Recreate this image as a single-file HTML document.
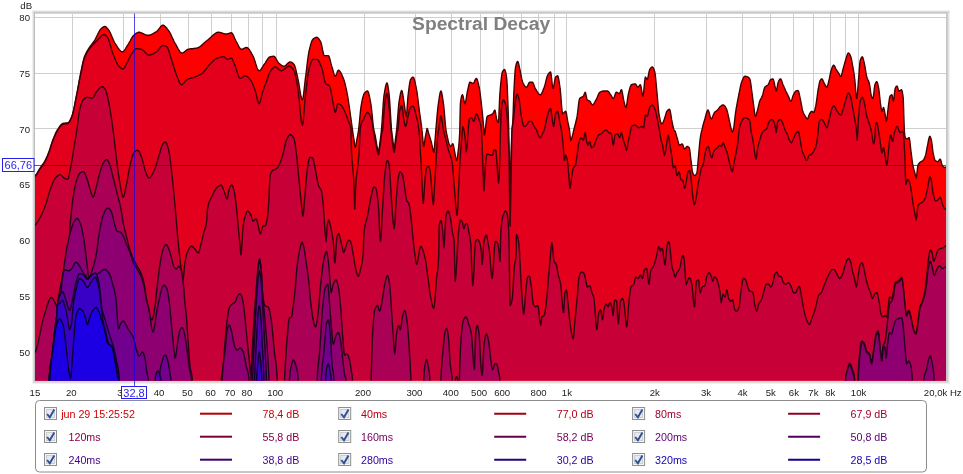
<!DOCTYPE html>
<html lang="en"><head><meta charset="utf-8"><title>Spectral Decay</title>
<style>html,body{margin:0;padding:0;background:#fff;}svg{display:block;font-family:"Liberation Sans",sans-serif;}</style>
</head><body>
<svg width="963" height="474" viewBox="0 0 963 474">
<rect x="0" y="0" width="963" height="474" fill="#fff"/>
<defs><clipPath id="pc"><rect x="35.0" y="13.5" width="911.0" height="367.1"/></clipPath></defs>
<rect x="35" y="13" width="911" height="368" fill="#fff"/>
<rect x="32" y="10.5" width="918" height="1" fill="#e6e6e6"/>
<rect x="32.5" y="11.5" width="917" height="1" fill="#c6c6c6"/>
<rect x="33" y="12.5" width="916" height="1" fill="#adadad"/>
<rect x="32" y="11.5" width="1" height="372" fill="#f0f0f0"/>
<rect x="33" y="12.5" width="1" height="370.5" fill="#dadada"/>
<rect x="34" y="12.5" width="1" height="370" fill="#bdbdbd"/>
<rect x="946" y="12.5" width="1" height="370" fill="#c4c4c4"/>
<rect x="947" y="12.5" width="1" height="371" fill="#cfcfcf"/>
<rect x="948" y="12.5" width="1" height="371.5" fill="#e2e2e2"/>
<rect x="949" y="12.5" width="1" height="372" fill="#f2f2f2"/>
<rect x="34" y="380.6" width="914" height="1.2" fill="#cecece"/>
<rect x="33.5" y="381.8" width="915" height="1.2" fill="#dcdcdc"/>
<rect x="33" y="383" width="916" height="1" fill="#f0f0f0"/>
<g stroke="#cfcfcf" stroke-width="1" clip-path="url(#pc)">
<line x1="72.5" y1="13.5" x2="72.5" y2="380.6"/>
<line x1="123.5" y1="13.5" x2="123.5" y2="380.6"/>
<line x1="160.5" y1="13.5" x2="160.5" y2="380.6"/>
<line x1="188.5" y1="13.5" x2="188.5" y2="380.6"/>
<line x1="211.5" y1="13.5" x2="211.5" y2="380.6"/>
<line x1="231.5" y1="13.5" x2="231.5" y2="380.6"/>
<line x1="248.5" y1="13.5" x2="248.5" y2="380.6"/>
<line x1="262.5" y1="13.5" x2="262.5" y2="380.6"/>
<line x1="276.5" y1="13.5" x2="276.5" y2="380.6"/>
<line x1="364.5" y1="13.5" x2="364.5" y2="380.6"/>
<line x1="415.5" y1="13.5" x2="415.5" y2="380.6"/>
<line x1="451.5" y1="13.5" x2="451.5" y2="380.6"/>
<line x1="480.5" y1="13.5" x2="480.5" y2="380.6"/>
<line x1="503.5" y1="13.5" x2="503.5" y2="380.6"/>
<line x1="521.5" y1="13.5" x2="521.5" y2="380.6"/>
<line x1="538.5" y1="13.5" x2="538.5" y2="380.6"/>
<line x1="554.5" y1="13.5" x2="554.5" y2="380.6"/>
<line x1="566.5" y1="13.5" x2="566.5" y2="380.6"/>
<line x1="654.5" y1="13.5" x2="654.5" y2="380.6"/>
<line x1="706.5" y1="13.5" x2="706.5" y2="380.6"/>
<line x1="742.5" y1="13.5" x2="742.5" y2="380.6"/>
<line x1="770.5" y1="13.5" x2="770.5" y2="380.6"/>
<line x1="793.5" y1="13.5" x2="793.5" y2="380.6"/>
<line x1="813.5" y1="13.5" x2="813.5" y2="380.6"/>
<line x1="830.5" y1="13.5" x2="830.5" y2="380.6"/>
<line x1="845.5" y1="13.5" x2="845.5" y2="380.6"/>
<line x1="858.5" y1="13.5" x2="858.5" y2="380.6"/>
<line x1="35.0" y1="17.5" x2="946.0" y2="17.5"/>
<line x1="35.0" y1="73.5" x2="946.0" y2="73.5"/>
<line x1="35.0" y1="128.5" x2="946.0" y2="128.5"/>
<line x1="35.0" y1="184.5" x2="946.0" y2="184.5"/>
<line x1="35.0" y1="240.5" x2="946.0" y2="240.5"/>
<line x1="35.0" y1="295.5" x2="946.0" y2="295.5"/>
<line x1="35.0" y1="351.5" x2="946.0" y2="351.5"/>
</g>
<text x="481.1" y="30.3" text-anchor="middle" font-size="19.25" font-weight="bold" fill="#808080">Spectral Decay</text>
<g clip-path="url(#pc)" stroke-width="1.4" stroke-linejoin="round">
<path d="M32.1 177.6 L32.6 177.4 L33.1 177.1 L33.6 176.8 L34.1 176.4 L34.6 176.0 L35.1 175.6 L35.1 175.6 L35.6 175.1 L36.1 174.5 L36.6 173.8 L37.1 173.0 L37.6 172.2 L38.1 171.4 L38.6 170.5 L39.1 169.7 L39.6 168.9 L40.1 168.1 L40.1 168.0 L40.6 167.3 L41.1 166.6 L41.6 165.9 L42.1 165.2 L42.6 164.5 L43.1 163.8 L43.6 163.1 L44.1 162.3 L44.6 161.5 L45.1 160.6 L45.2 160.4 L45.6 159.7 L46.1 158.6 L46.6 157.5 L47.1 156.4 L47.6 155.2 L48.1 153.9 L48.6 152.6 L49.0 151.5 L49.1 151.3 L49.6 149.9 L50.1 148.4 L50.6 146.8 L51.1 145.2 L51.6 143.6 L52.1 142.1 L52.6 140.7 L52.8 140.1 L53.1 139.4 L53.6 138.1 L54.1 136.9 L54.6 135.7 L55.1 134.5 L55.6 133.4 L56.1 132.3 L56.6 131.3 L57.1 130.4 L57.3 130.0 L57.6 129.6 L58.1 128.9 L58.6 128.1 L59.1 127.3 L59.6 126.6 L60.1 125.9 L60.6 125.2 L61.1 124.7 L61.6 124.2 L62.1 123.8 L62.6 123.5 L62.9 123.4 L63.1 123.4 L63.6 123.3 L64.1 123.2 L64.6 123.1 L65.1 123.1 L65.6 123.0 L66.1 123.0 L66.6 122.9 L67.1 122.9 L67.6 122.8 L68.0 122.7 L68.1 122.6 L68.6 122.3 L69.1 121.8 L69.6 121.0 L70.1 120.1 L70.6 119.1 L71.1 118.0 L71.6 116.8 L71.8 116.3 L72.1 115.5 L72.6 114.0 L73.1 112.1 L73.6 110.0 L74.1 107.6 L74.6 105.2 L75.1 102.6 L75.6 100.0 L76.1 97.4 L76.6 94.8 L76.8 93.5 L77.1 92.3 L77.6 89.7 L78.1 87.0 L78.6 84.2 L79.1 81.5 L79.6 78.7 L80.1 76.1 L80.6 73.6 L80.6 73.3 L81.1 71.1 L81.6 68.7 L82.1 66.2 L82.6 63.9 L83.1 61.7 L83.6 59.6 L84.1 57.9 L84.4 56.8 L84.6 56.4 L85.1 55.2 L85.6 54.1 L86.1 53.0 L86.6 52.1 L87.1 51.2 L87.6 50.3 L88.1 49.5 L88.2 49.2 L88.6 48.7 L89.1 47.9 L89.6 47.2 L90.1 46.5 L90.6 45.8 L91.1 45.1 L91.6 44.5 L92.1 43.8 L92.6 43.2 L93.1 42.5 L93.6 41.8 L94.1 41.1 L94.6 40.4 L94.6 40.3 L95.1 39.5 L95.6 38.6 L96.1 37.6 L96.6 36.6 L97.1 35.5 L97.6 34.5 L98.1 33.4 L98.6 32.5 L99.1 31.5 L99.6 30.7 L100.1 29.9 L100.6 29.3 L100.9 29.0 L101.1 28.8 L101.6 28.3 L102.1 27.9 L102.6 27.4 L103.1 27.1 L103.6 26.8 L104.1 26.6 L104.6 26.5 L104.7 26.5 L105.1 26.5 L105.6 26.7 L106.1 27.1 L106.6 27.5 L107.1 28.1 L107.6 28.7 L108.1 29.3 L108.5 29.7 L108.6 29.9 L109.1 30.6 L109.6 31.5 L110.1 32.5 L110.6 33.5 L111.1 34.7 L111.6 35.9 L112.1 37.1 L112.6 38.4 L113.1 39.5 L113.6 40.6 L114.1 41.7 L114.6 42.6 L114.8 42.9 L115.1 43.3 L115.6 44.1 L116.1 44.9 L116.6 45.7 L117.1 46.5 L117.6 47.3 L118.1 48.0 L118.6 48.7 L119.1 49.4 L119.6 50.0 L120.1 50.5 L120.6 51.0 L121.1 51.3 L121.6 51.6 L122.1 51.7 L122.4 51.8 L122.6 51.8 L123.1 51.6 L123.6 51.2 L124.1 50.7 L124.6 50.0 L125.1 49.3 L125.6 48.5 L126.1 47.6 L126.6 46.8 L127.1 46.0 L127.5 45.4 L127.6 45.3 L128.1 44.5 L128.6 43.7 L129.1 42.8 L129.6 41.9 L130.1 41.0 L130.6 40.0 L131.1 39.1 L131.6 38.3 L132.1 37.4 L132.6 36.7 L133.1 36.0 L133.6 35.5 L133.8 35.3 L134.1 35.1 L134.6 34.6 L135.1 34.2 L135.6 33.8 L136.1 33.4 L136.6 33.1 L137.1 32.8 L137.6 32.6 L138.1 32.4 L138.6 32.3 L138.9 32.3 L139.1 32.3 L139.6 32.3 L140.1 32.4 L140.6 32.6 L141.1 32.8 L141.6 33.0 L142.1 33.2 L142.6 33.4 L143.1 33.7 L143.6 34.0 L144.1 34.2 L144.6 34.4 L145.1 34.7 L145.6 34.9 L146.1 35.0 L146.6 35.2 L147.1 35.3 L147.6 35.3 L147.7 35.3 L148.1 35.3 L148.6 35.3 L149.1 35.2 L149.6 35.1 L150.1 34.9 L150.6 34.8 L151.1 34.6 L151.6 34.4 L152.1 34.1 L152.6 33.9 L153.1 33.6 L153.6 33.3 L154.1 33.0 L154.6 32.7 L155.1 32.4 L155.6 32.1 L156.1 31.8 L156.6 31.5 L156.6 31.5 L157.1 31.1 L157.6 30.6 L158.1 30.1 L158.6 29.4 L159.1 28.8 L159.6 28.1 L160.1 27.4 L160.6 26.8 L161.1 26.2 L161.6 25.8 L162.1 25.4 L162.6 25.2 L162.9 25.2 L163.1 25.2 L163.6 25.3 L164.1 25.6 L164.6 25.9 L165.1 26.4 L165.6 26.9 L166.1 27.4 L166.6 28.0 L167.1 28.7 L167.6 29.3 L168.0 29.7 L168.1 29.9 L168.6 30.6 L169.1 31.3 L169.6 32.2 L170.1 33.1 L170.6 34.1 L171.1 35.1 L171.6 36.2 L172.1 37.3 L172.6 38.4 L173.1 39.4 L173.6 40.5 L174.1 41.5 L174.6 42.5 L175.1 43.4 L175.6 44.2 L175.6 44.2 L176.1 45.1 L176.6 46.0 L177.1 46.9 L177.6 47.8 L178.1 48.8 L178.6 49.6 L179.1 50.5 L179.6 51.2 L180.1 51.9 L180.6 52.4 L181.1 52.8 L181.6 53.0 L181.9 53.0 L182.1 53.0 L182.6 52.9 L183.1 52.7 L183.6 52.4 L184.1 52.1 L184.6 51.7 L185.1 51.3 L185.6 50.9 L186.1 50.5 L186.6 50.1 L187.1 49.7 L187.6 49.5 L188.1 49.3 L188.2 49.2 L188.6 49.2 L189.1 49.1 L189.6 49.0 L190.1 48.9 L190.6 48.8 L191.1 48.8 L191.6 48.7 L192.1 48.7 L192.6 48.6 L193.1 48.6 L193.6 48.5 L194.1 48.5 L194.6 48.4 L195.1 48.3 L195.6 48.3 L196.1 48.2 L196.6 48.1 L197.1 48.0 L197.1 48.0 L197.6 47.8 L198.1 47.6 L198.6 47.4 L199.1 47.1 L199.6 46.8 L200.1 46.5 L200.6 46.1 L201.1 45.7 L201.6 45.3 L202.1 44.8 L202.6 44.4 L203.1 43.9 L203.6 43.5 L204.1 43.0 L204.6 42.6 L205.1 42.1 L205.6 41.7 L206.1 41.2 L206.6 40.8 L207.1 40.5 L207.2 40.4 L207.6 40.1 L208.1 39.7 L208.6 39.3 L209.1 38.8 L209.6 38.4 L210.1 37.9 L210.6 37.4 L211.1 37.0 L211.6 36.5 L212.1 36.0 L212.6 35.6 L213.1 35.1 L213.6 34.7 L214.1 34.3 L214.6 33.9 L215.1 33.6 L215.6 33.2 L216.1 33.0 L216.6 32.7 L217.1 32.5 L217.6 32.4 L218.1 32.3 L218.6 32.3 L218.6 32.3 L219.1 32.3 L219.6 32.4 L220.1 32.5 L220.6 32.6 L221.1 32.7 L221.6 32.9 L222.1 33.1 L222.6 33.2 L223.1 33.4 L223.6 33.6 L224.1 33.7 L224.6 33.9 L225.1 34.0 L225.6 34.0 L226.1 34.0 L226.2 34.1 L226.6 34.0 L227.1 33.9 L227.6 33.8 L228.1 33.6 L228.6 33.5 L229.1 33.3 L229.6 33.1 L230.1 33.0 L230.6 32.8 L231.1 32.8 L231.3 32.8 L231.6 32.9 L232.1 33.3 L232.6 33.9 L233.1 34.8 L233.6 35.8 L234.1 36.9 L234.6 38.1 L235.1 39.2 L235.6 40.3 L236.1 41.3 L236.3 41.6 L236.6 42.1 L237.1 43.0 L237.6 44.0 L238.1 45.0 L238.6 46.0 L239.1 46.9 L239.6 47.7 L240.1 48.4 L240.6 48.9 L241.1 49.2 L241.4 49.2 L241.6 49.2 L242.1 49.1 L242.6 49.0 L243.1 48.8 L243.6 48.5 L244.1 48.3 L244.6 48.0 L245.1 47.8 L245.6 47.6 L246.1 47.5 L246.5 47.5 L246.6 47.5 L247.1 47.6 L247.6 47.9 L248.1 48.3 L248.6 48.8 L249.1 49.5 L249.6 50.2 L250.1 51.0 L250.6 51.8 L251.1 52.7 L251.6 53.6 L252.1 54.4 L252.6 55.3 L252.8 55.6 L253.1 56.2 L253.6 57.3 L254.1 58.7 L254.6 60.2 L255.1 61.8 L255.6 63.4 L256.1 65.0 L256.6 66.5 L257.1 67.9 L257.6 69.1 L258.1 70.0 L258.6 70.6 L259.1 70.8 L259.1 70.8 L259.6 70.6 L260.1 70.3 L260.6 69.8 L261.1 69.2 L261.6 68.4 L262.1 67.6 L262.6 66.8 L263.1 66.0 L263.6 65.2 L264.1 64.5 L264.2 64.4 L264.6 63.8 L265.1 63.1 L265.6 62.3 L266.1 61.4 L266.6 60.6 L267.1 59.8 L267.6 59.1 L268.1 58.4 L268.6 57.8 L269.1 57.3 L269.6 57.0 L270.0 56.8 L270.1 56.8 L270.6 56.7 L271.1 56.6 L271.6 56.5 L272.1 56.4 L272.6 56.4 L273.1 56.3 L273.6 56.3 L273.8 56.3 L274.1 56.4 L274.6 56.7 L275.1 57.3 L275.6 58.0 L276.1 58.9 L276.6 59.8 L277.1 60.7 L277.6 61.6 L278.1 62.3 L278.6 62.9 L278.9 63.2 L279.1 63.4 L279.6 63.8 L280.1 64.2 L280.6 64.6 L281.1 65.0 L281.6 65.4 L282.1 65.7 L282.6 65.9 L283.1 66.1 L283.6 66.2 L283.9 66.2 L284.1 66.2 L284.6 66.1 L285.1 65.8 L285.6 65.4 L286.1 65.0 L286.6 64.5 L287.1 64.0 L287.6 63.5 L288.1 63.0 L288.6 62.6 L289.1 62.3 L289.6 62.0 L290.1 61.9 L290.3 61.9 L290.6 61.9 L291.1 62.1 L291.6 62.3 L292.1 62.6 L292.6 63.0 L293.1 63.5 L293.6 64.0 L294.1 64.4 L294.1 64.5 L294.6 65.5 L295.1 66.9 L295.6 68.7 L296.1 70.8 L296.6 73.0 L297.1 75.2 L297.6 77.5 L297.8 78.4 L298.1 79.6 L298.6 82.3 L299.1 85.2 L299.6 88.4 L300.1 91.5 L300.6 94.4 L301.1 96.8 L301.6 98.7 L302.1 99.7 L302.4 99.9 L302.6 99.6 L303.1 97.7 L303.6 94.3 L304.1 89.9 L304.6 85.2 L305.1 80.8 L305.4 78.4 L305.6 76.9 L306.1 73.0 L306.6 68.9 L307.1 64.7 L307.6 60.7 L308.1 56.9 L308.6 53.6 L309.1 51.0 L309.2 50.5 L309.6 48.8 L310.1 46.8 L310.6 44.9 L311.1 43.2 L311.6 41.7 L312.1 40.5 L312.6 39.6 L313.0 39.1 L313.1 39.0 L313.6 38.7 L314.1 38.3 L314.6 38.0 L315.1 37.7 L315.6 37.6 L316.1 37.4 L316.6 37.3 L316.8 37.3 L317.1 37.4 L317.6 37.6 L318.1 38.0 L318.6 38.6 L319.1 39.2 L319.6 40.0 L320.1 40.8 L320.6 41.6 L320.6 41.7 L321.1 43.0 L321.6 45.0 L322.1 47.4 L322.6 50.0 L323.1 52.3 L323.6 54.2 L324.1 55.4 L324.4 55.6 L324.6 55.6 L325.1 55.6 L325.6 55.6 L326.1 55.6 L326.6 55.6 L327.1 55.6 L327.6 55.6 L328.1 55.6 L328.2 55.6 L328.6 55.8 L329.1 56.7 L329.6 58.2 L330.1 59.9 L330.6 61.9 L331.1 63.9 L331.6 65.7 L332.0 67.0 L332.1 67.3 L332.6 69.0 L333.1 70.9 L333.6 72.7 L334.1 74.4 L334.6 75.6 L335.1 76.3 L335.3 76.3 L335.6 76.1 L336.1 75.2 L336.6 73.9 L337.1 72.4 L337.6 71.1 L338.1 70.3 L338.4 70.3 L338.6 70.3 L339.1 70.5 L339.6 71.0 L340.1 71.6 L340.6 72.4 L341.1 73.3 L341.6 74.3 L342.1 75.4 L342.6 76.6 L343.1 77.7 L343.4 78.4 L343.6 78.9 L344.1 80.4 L344.6 82.1 L345.1 84.0 L345.6 86.1 L346.1 88.4 L346.6 90.7 L347.1 93.2 L347.2 93.5 L347.6 95.8 L348.1 98.8 L348.6 102.0 L349.1 105.5 L349.6 109.0 L350.1 112.6 L350.6 116.3 L351.0 118.9 L351.1 119.8 L351.6 123.5 L352.1 127.2 L352.5 130.0 L352.6 130.8 L353.1 134.3 L353.6 137.6 L354.1 140.1 L354.1 140.7 L354.6 144.4 L355.1 147.0 L355.3 147.2 L355.6 146.6 L356.1 144.2 L356.6 141.2 L356.8 140.1 L357.1 138.5 L357.6 135.9 L358.1 133.0 L358.6 130.0 L358.6 129.7 L359.1 125.4 L359.6 120.2 L360.1 114.8 L360.6 109.9 L361.1 106.2 L361.1 106.1 L361.6 103.3 L362.1 100.6 L362.6 98.2 L363.2 96.2 L363.7 94.6 L364.2 93.6 L364.2 93.5 L364.7 92.9 L365.2 92.4 L365.7 91.9 L366.2 91.5 L366.7 91.2 L367.2 91.0 L367.5 91.0 L367.7 91.1 L368.2 91.8 L368.7 93.3 L369.2 95.3 L369.7 97.7 L370.2 100.4 L370.7 103.1 L370.8 103.7 L371.2 106.2 L371.7 110.6 L372.2 115.6 L372.7 120.7 L373.2 125.4 L373.7 129.2 L373.8 130.0 L374.2 131.6 L374.7 133.4 L375.1 135.1 L375.2 135.5 L375.7 138.3 L376.2 141.4 L376.7 144.3 L376.8 145.2 L377.2 146.9 L377.7 149.6 L378.2 151.3 L378.4 151.5 L378.7 150.9 L379.2 148.1 L379.7 144.3 L379.9 142.7 L380.2 140.7 L380.7 136.8 L381.2 132.3 L381.4 130.0 L381.7 127.0 L382.2 119.9 L382.7 112.0 L383.2 104.4 L383.7 98.3 L383.9 96.1 L384.2 94.5 L384.7 91.3 L385.2 88.4 L385.7 86.0 L386.2 84.2 L386.7 83.1 L387.0 82.9 L387.2 83.1 L387.7 84.6 L388.2 87.5 L388.7 91.0 L389.0 93.5 L389.2 95.0 L389.7 101.3 L390.2 109.4 L390.7 117.9 L391.2 125.7 L391.5 130.0 L391.7 131.3 L392.2 135.5 L392.7 139.2 L392.8 140.1 L393.2 143.4 L393.7 147.6 L394.1 149.0 L394.2 148.9 L394.7 146.0 L395.2 141.4 L395.3 140.1 L395.7 137.6 L396.2 133.7 L396.6 130.0 L396.7 129.3 L397.2 123.6 L397.7 117.1 L398.2 110.6 L398.7 104.9 L399.1 101.1 L399.2 100.9 L399.7 97.8 L400.2 95.0 L400.7 92.6 L401.2 91.1 L401.6 90.5 L401.7 90.5 L402.2 91.4 L402.7 93.8 L403.2 96.9 L403.7 100.4 L404.2 103.6 L404.2 103.7 L404.7 107.1 L405.2 111.2 L405.7 114.7 L406.2 116.3 L406.2 116.3 L406.7 113.7 L407.2 107.0 L407.7 99.5 L408.0 96.1 L408.2 94.5 L408.7 90.3 L409.2 86.3 L409.7 83.0 L410.2 80.6 L410.5 79.6 L410.7 79.4 L411.2 78.6 L411.7 77.9 L412.2 77.4 L412.7 77.2 L413.0 77.1 L413.2 77.1 L413.7 77.7 L414.2 79.0 L414.7 80.7 L415.2 82.9 L415.7 85.3 L416.2 87.7 L416.3 88.5 L416.7 90.3 L417.2 93.5 L417.7 97.4 L418.2 101.5 L418.7 105.7 L419.2 109.7 L419.4 111.3 L419.7 113.4 L420.2 116.9 L420.7 120.4 L421.2 124.1 L421.7 128.0 L421.9 130.0 L422.2 132.6 L422.4 135.1 L422.7 137.9 L423.2 143.6 L423.7 146.5 L423.7 146.5 L424.2 144.8 L424.7 141.2 L425.2 137.7 L425.2 137.6 L425.7 135.2 L426.2 132.7 L426.5 131.3 L426.7 129.8 L427.0 128.5 L427.2 128.6 L427.7 129.8 L428.2 131.7 L428.7 133.6 L428.7 133.8 L429.2 135.1 L429.7 136.6 L430.2 138.1 L430.7 139.8 L430.8 140.1 L431.2 141.7 L431.7 144.0 L432.2 146.2 L432.5 147.7 L432.7 148.3 L433.2 150.6 L433.7 152.2 L433.8 152.3 L434.2 150.3 L434.7 144.3 L434.8 142.7 L435.2 138.3 L435.7 131.8 L435.8 130.0 L436.2 126.0 L436.7 120.1 L437.2 114.4 L437.7 109.3 L438.2 105.0 L438.4 103.7 L438.7 101.5 L439.2 98.0 L439.7 94.9 L440.2 92.5 L440.7 91.2 L440.9 91.0 L441.2 91.3 L441.7 92.8 L442.2 95.3 L442.7 98.5 L443.2 102.0 L443.4 103.7 L443.7 105.6 L444.2 110.8 L444.7 116.8 L445.2 122.8 L445.7 127.9 L445.9 130.0 L446.2 131.4 L446.7 133.9 L447.2 136.1 L447.2 136.3 L447.7 138.5 L448.2 140.8 L448.7 142.8 L449.0 143.7 L449.2 144.1 L449.7 145.2 L450.2 146.0 L450.7 146.4 L450.8 146.5 L451.2 146.2 L451.7 145.3 L452.2 144.3 L452.7 143.7 L452.8 143.7 L453.2 144.3 L453.7 146.5 L454.2 149.3 L454.6 151.3 L454.7 151.8 L455.2 154.7 L455.7 157.7 L456.2 159.9 L456.6 160.6 L456.7 160.6 L457.2 158.8 L457.7 155.2 L458.2 150.8 L458.4 149.2 L458.7 146.5 L459.2 141.3 L459.6 134.3 L459.7 133.0 L460.2 109.3 L460.4 103.7 L460.7 101.2 L461.2 98.0 L461.7 95.9 L462.2 94.9 L462.4 94.8 L462.7 95.1 L463.2 96.8 L463.7 99.3 L464.2 101.8 L464.7 103.4 L464.9 103.7 L465.2 103.4 L465.7 101.7 L466.2 98.8 L466.7 95.5 L467.2 92.4 L467.5 91.0 L467.7 90.1 L468.2 87.8 L468.7 85.5 L469.2 83.6 L469.7 82.4 L470.0 82.2 L470.2 82.2 L470.7 82.3 L471.2 82.6 L471.7 82.9 L472.2 83.2 L472.7 83.4 L473.0 83.4 L473.2 83.4 L473.7 82.9 L474.2 82.0 L474.7 80.9 L475.2 79.8 L475.7 78.9 L476.2 78.4 L476.3 78.4 L476.7 78.6 L477.2 79.5 L477.7 81.1 L478.2 83.1 L478.7 85.2 L478.9 85.9 L479.2 87.5 L479.7 90.4 L480.2 94.0 L480.7 98.1 L481.2 102.4 L481.7 107.0 L482.2 111.3 L482.2 111.5 L482.7 116.5 L483.2 122.0 L483.7 127.5 L483.9 130.0 L484.2 133.2 L484.4 135.1 L484.7 134.1 L485.2 130.1 L485.2 130.0 L485.7 126.2 L486.2 121.8 L486.7 118.2 L487.2 116.4 L487.2 116.3 L487.7 116.0 L488.2 115.7 L488.7 115.6 L489.2 115.4 L489.7 115.3 L490.2 115.1 L490.3 115.1 L490.7 114.9 L491.2 114.7 L491.7 114.5 L492.2 114.2 L492.7 113.9 L492.8 113.8 L493.2 113.2 L493.7 112.0 L494.2 110.8 L494.7 110.0 L494.8 110.0 L495.2 110.8 L495.7 113.7 L496.2 117.0 L496.6 118.9 L496.7 119.2 L497.2 120.7 L497.7 121.9 L498.2 122.6 L498.4 122.7 L498.7 119.8 L499.2 108.6 L499.7 96.5 L499.9 93.5 L500.2 89.8 L500.7 84.1 L501.2 79.2 L501.7 75.2 L502.2 72.7 L502.4 72.0 L502.7 71.4 L503.2 70.6 L503.7 69.9 L504.2 69.5 L504.4 69.5 L504.7 69.6 L505.2 70.6 L505.7 72.4 L506.2 75.0 L506.7 78.2 L506.7 78.4 L507.2 85.7 L507.7 98.4 L508.0 106.2 L508.2 112.0 L508.7 128.2 L508.7 130.0 L509.2 153.2 L509.2 155.3 L509.7 172.6 L510.2 184.2 L510.3 184.4 L510.7 169.9 L511.0 155.3 L511.2 150.0 L511.7 136.5 L512.0 130.0 L512.2 127.9 L512.7 122.8 L512.8 121.4 L513.2 111.3 L513.7 96.0 L513.8 93.5 L514.2 85.8 L514.7 76.8 L515.2 69.9 L515.6 67.0 L515.7 66.4 L516.2 64.3 L516.7 62.7 L517.2 61.7 L517.6 61.4 L517.7 61.4 L518.2 62.3 L518.7 64.2 L519.2 66.4 L519.6 68.2 L519.7 68.5 L520.2 70.8 L520.7 73.4 L521.2 76.1 L521.7 78.7 L522.2 80.8 L522.7 82.2 L522.7 82.2 L523.2 83.3 L523.7 84.2 L524.2 85.1 L524.7 85.9 L525.2 86.5 L525.7 86.9 L526.2 87.2 L526.5 87.2 L526.7 87.1 L527.2 86.6 L527.7 85.6 L528.2 84.5 L528.7 83.4 L529.2 82.5 L529.7 82.2 L529.7 82.2 L530.2 82.2 L530.7 82.2 L531.2 82.2 L531.7 82.2 L532.2 82.2 L532.3 82.2 L532.7 82.4 L533.2 83.2 L533.7 84.4 L534.2 85.8 L534.7 87.2 L535.2 88.3 L535.3 88.5 L535.7 89.1 L536.2 89.9 L536.7 90.8 L537.2 91.6 L537.7 92.4 L538.2 93.1 L538.7 93.8 L539.2 94.3 L539.7 94.6 L540.2 94.8 L540.4 94.8 L540.7 94.7 L541.2 94.3 L541.7 93.4 L542.2 92.4 L542.7 91.2 L543.2 89.8 L543.7 88.5 L544.2 87.2 L544.2 87.2 L544.7 85.7 L545.2 83.9 L545.7 81.9 L546.2 79.9 L546.7 78.0 L547.2 76.3 L547.7 75.1 L548.0 74.6 L548.2 74.2 L548.7 73.5 L549.2 72.9 L549.7 72.4 L550.2 72.1 L550.5 72.0 L550.7 72.3 L551.2 75.0 L551.7 79.5 L552.2 84.3 L552.7 87.7 L553.0 88.5 L553.2 88.4 L553.7 86.7 L554.2 83.8 L554.7 80.6 L555.2 78.0 L555.6 77.1 L555.7 77.0 L556.2 76.5 L556.7 76.1 L557.2 75.9 L557.6 75.8 L557.7 75.9 L558.2 76.9 L558.7 79.1 L559.2 82.2 L559.7 85.6 L560.1 88.5 L560.2 89.0 L560.7 94.1 L561.2 100.7 L561.7 107.2 L562.2 112.1 L562.7 113.8 L562.7 113.8 L563.2 113.6 L563.7 113.1 L564.2 112.5 L564.7 111.9 L565.2 111.4 L565.7 111.3 L565.7 111.3 L566.2 112.4 L566.7 115.0 L567.2 118.3 L567.7 121.3 L567.7 121.4 L568.2 123.6 L568.7 125.8 L569.2 128.3 L569.5 130.0 L569.7 131.7 L570.2 137.1 L570.7 140.6 L570.8 140.6 L571.2 140.1 L571.7 138.5 L572.2 136.6 L572.3 136.3 L572.7 134.7 L573.2 132.6 L573.7 130.4 L573.8 130.0 L574.2 128.4 L574.7 126.4 L575.2 124.5 L575.7 122.6 L576.2 120.5 L576.7 118.3 L577.1 116.3 L577.2 115.7 L577.7 112.0 L578.2 107.5 L578.7 103.2 L579.2 99.9 L579.6 98.6 L579.7 98.5 L580.2 98.0 L580.7 97.6 L581.2 97.4 L581.7 97.2 L582.2 97.0 L582.7 96.7 L583.2 96.3 L583.4 96.1 L583.7 95.6 L584.2 94.2 L584.7 92.9 L585.2 92.3 L585.2 92.3 L585.7 93.4 L586.2 95.9 L586.7 98.4 L587.2 99.9 L587.2 99.9 L587.7 100.2 L588.2 100.5 L588.7 100.6 L589.2 100.8 L589.7 101.1 L589.7 101.1 L590.2 101.7 L590.7 102.6 L591.2 103.7 L591.7 104.5 L592.2 104.9 L592.3 104.9 L592.7 104.8 L593.2 104.4 L593.7 103.9 L594.2 103.1 L594.7 102.3 L595.2 101.4 L595.7 100.5 L596.1 99.9 L596.2 99.6 L596.7 98.7 L597.2 97.5 L597.7 96.2 L598.2 95.0 L598.7 93.9 L599.2 93.0 L599.7 92.4 L599.9 92.3 L600.2 92.1 L600.7 91.8 L601.2 91.6 L601.7 91.4 L602.2 91.2 L602.7 91.1 L603.2 91.0 L603.7 91.0 L603.7 91.0 L604.2 91.0 L604.7 91.0 L605.2 91.0 L605.7 91.0 L606.2 91.0 L606.7 91.0 L607.2 91.0 L607.5 91.0 L607.7 91.1 L608.2 91.3 L608.7 91.8 L609.2 92.5 L609.7 93.3 L610.2 94.0 L610.7 94.8 L610.8 94.8 L611.2 95.5 L611.7 96.5 L612.2 97.5 L612.7 98.2 L613.2 98.6 L613.3 98.6 L613.7 98.3 L614.2 97.2 L614.7 95.7 L615.2 94.2 L615.7 92.9 L616.2 92.3 L616.3 92.3 L616.7 92.3 L617.2 92.5 L617.7 92.8 L618.2 93.1 L618.7 93.4 L619.2 93.5 L619.4 93.5 L619.7 93.2 L620.2 92.1 L620.7 90.7 L621.2 89.8 L621.4 89.7 L621.7 90.1 L622.2 91.9 L622.7 94.6 L623.2 97.6 L623.7 100.3 L623.9 101.1 L624.2 102.3 L624.7 104.4 L625.2 106.2 L625.7 107.3 L625.9 107.5 L626.2 107.1 L626.7 105.0 L627.2 101.7 L627.7 98.0 L628.2 94.8 L628.5 93.5 L628.7 92.6 L629.2 90.7 L629.7 88.8 L630.2 87.1 L630.7 85.8 L631.2 84.9 L631.5 84.7 L631.7 84.6 L632.2 84.4 L632.7 84.3 L633.2 84.2 L633.7 84.1 L634.2 84.0 L634.7 83.9 L635.2 83.9 L635.3 83.9 L635.7 84.1 L636.2 84.9 L636.7 85.8 L637.2 86.7 L637.7 87.2 L637.8 87.2 L638.2 87.1 L638.7 86.5 L639.2 85.8 L639.7 85.1 L640.2 84.7 L640.4 84.7 L640.7 85.3 L641.2 87.6 L641.7 90.9 L642.2 94.0 L642.7 95.9 L642.9 96.1 L643.2 95.3 L643.7 91.5 L644.2 86.1 L644.7 80.8 L645.2 77.5 L645.4 77.1 L645.7 77.3 L646.2 78.1 L646.7 79.1 L647.2 79.6 L647.2 79.6 L647.7 78.7 L648.2 76.5 L648.7 73.7 L649.2 71.1 L649.7 69.5 L649.7 69.5 L650.2 68.8 L650.7 68.1 L651.2 67.5 L651.7 67.1 L652.2 67.0 L652.3 67.0 L652.7 67.2 L653.2 67.8 L653.7 68.8 L654.2 70.2 L654.7 71.7 L654.8 72.0 L655.2 74.3 L655.7 78.9 L656.2 84.5 L656.7 89.9 L656.8 91.0 L657.2 95.1 L657.7 100.9 L658.2 106.7 L658.7 111.8 L659.2 115.6 L659.4 116.3 L659.7 118.0 L660.2 120.1 L660.7 121.9 L661.2 123.2 L661.7 123.9 L661.9 123.9 L662.2 123.8 L662.7 123.1 L663.2 122.0 L663.7 120.7 L664.2 119.4 L664.4 118.9 L664.7 118.1 L665.2 116.4 L665.7 114.6 L666.2 112.9 L666.7 111.6 L667.0 111.3 L667.2 110.9 L667.7 110.3 L668.2 109.9 L668.7 109.5 L669.2 109.3 L669.5 109.2 L669.7 109.4 L670.2 111.0 L670.7 113.7 L671.2 116.9 L671.7 119.9 L672.0 121.4 L672.2 122.4 L672.7 124.9 L673.2 127.3 L673.7 129.2 L674.1 130.0 L674.2 130.3 L674.7 130.8 L675.1 131.3 L675.2 131.6 L675.7 132.9 L676.2 134.6 L676.7 136.4 L677.1 137.6 L677.2 138.1 L677.7 139.9 L678.2 141.9 L678.7 143.7 L679.2 144.9 L679.6 145.2 L679.7 145.2 L680.2 145.0 L680.7 144.7 L681.2 144.3 L681.7 144.0 L682.2 143.9 L682.2 143.9 L682.7 144.6 L683.2 145.9 L683.7 147.4 L684.2 148.6 L684.7 149.0 L684.7 149.0 L685.2 148.7 L685.7 148.0 L686.2 147.3 L686.7 146.7 L687.2 146.5 L687.2 146.5 L687.7 146.5 L688.2 146.8 L688.7 147.2 L689.2 147.7 L689.2 147.7 L689.7 149.7 L690.2 153.7 L690.7 158.2 L691.0 160.4 L691.2 162.1 L691.7 166.4 L692.2 170.4 L692.7 172.9 L692.8 173.0 L693.2 173.9 L693.7 174.8 L694.2 175.3 L694.7 175.6 L694.8 175.6 L695.2 175.4 L695.7 175.0 L696.2 174.2 L696.7 173.3 L696.8 173.0 L697.2 170.9 L697.7 165.7 L698.2 159.5 L698.6 155.3 L698.7 154.0 L699.2 148.5 L699.7 143.1 L700.2 138.6 L700.4 137.6 L700.7 135.4 L701.2 132.9 L701.7 130.7 L701.9 130.0 L702.2 128.6 L702.7 126.6 L703.2 124.7 L703.7 122.9 L704.2 121.2 L704.7 119.5 L704.9 118.9 L705.2 117.8 L705.7 115.9 L706.2 114.0 L706.7 112.2 L707.2 110.9 L707.7 110.1 L708.0 110.0 L708.2 110.2 L708.7 111.2 L709.2 112.9 L709.7 114.9 L710.2 116.8 L710.7 118.3 L711.2 118.9 L711.3 118.9 L711.7 118.6 L712.2 117.8 L712.7 116.6 L713.2 115.3 L713.7 114.0 L714.2 113.0 L714.6 112.5 L714.7 112.3 L715.2 111.8 L715.7 111.4 L716.2 111.1 L716.7 110.7 L717.2 110.3 L717.6 110.0 L717.7 109.8 L718.2 109.2 L718.7 108.5 L719.2 107.8 L719.7 107.1 L720.2 106.5 L720.6 106.2 L720.7 106.1 L721.2 105.8 L721.7 105.4 L722.2 105.2 L722.7 105.0 L723.2 104.9 L723.2 104.9 L723.7 105.1 L724.2 105.5 L724.7 106.0 L725.2 106.7 L725.7 107.5 L726.2 108.4 L726.5 108.7 L726.7 109.4 L727.2 111.1 L727.7 113.2 L728.2 115.5 L728.7 117.8 L729.0 118.9 L729.2 120.0 L729.7 122.3 L730.2 124.7 L730.7 127.0 L731.2 129.1 L731.5 130.0 L731.7 130.8 L732.2 132.0 L732.3 132.0 L732.7 131.5 L733.2 130.1 L733.3 130.0 L733.7 127.9 L734.2 124.3 L734.7 120.0 L735.2 115.6 L735.7 111.8 L735.8 111.3 L736.2 108.7 L736.7 105.8 L737.2 103.0 L737.7 100.4 L738.2 97.8 L738.7 95.3 L739.1 93.5 L739.2 92.9 L739.7 90.3 L740.2 87.8 L740.7 85.4 L741.2 83.4 L741.6 82.2 L741.7 81.9 L742.2 80.6 L742.7 79.4 L743.2 78.3 L743.7 77.3 L744.2 76.7 L744.7 76.4 L744.9 76.3 L745.3 76.3 L745.8 76.4 L746.3 76.5 L746.8 76.6 L747.3 76.8 L747.8 77.0 L748.0 77.1 L748.3 77.2 L748.8 77.6 L749.3 78.3 L749.8 79.1 L750.0 79.6 L750.3 80.5 L750.8 83.8 L751.3 87.7 L751.4 88.5 L751.8 91.4 L752.3 95.2 L752.8 99.1 L753.3 102.8 L753.4 103.7 L753.8 106.5 L754.3 110.6 L754.8 114.2 L755.3 116.2 L755.4 116.3 L755.8 116.0 L756.3 114.7 L756.8 112.8 L757.2 111.3 L757.3 111.0 L757.8 109.1 L758.3 106.9 L758.8 104.6 L759.3 102.6 L759.7 101.1 L759.8 101.0 L760.3 99.9 L760.8 98.9 L761.3 98.1 L761.8 97.2 L762.2 96.1 L762.3 96.0 L762.8 94.4 L763.3 92.3 L763.8 90.2 L764.3 88.4 L764.8 87.2 L764.8 87.2 L765.3 86.7 L765.8 86.3 L766.3 86.0 L766.8 85.7 L767.3 85.4 L767.8 85.0 L768.1 84.7 L768.3 84.4 L768.8 83.4 L769.3 82.2 L769.8 80.9 L770.3 80.0 L770.6 79.6 L770.8 79.5 L771.3 79.3 L771.8 79.1 L772.3 78.9 L772.8 78.9 L772.9 78.9 L773.3 79.3 L773.8 80.9 L774.3 83.1 L774.8 85.4 L774.9 85.9 L775.3 87.6 L775.8 90.1 L776.2 91.0 L776.3 91.0 L776.8 89.4 L777.3 86.6 L777.8 83.8 L778.2 82.2 L778.3 82.0 L778.8 80.9 L779.3 80.0 L779.8 79.3 L780.3 78.9 L780.5 78.9 L780.8 79.0 L781.3 79.8 L781.8 81.1 L782.3 82.6 L782.8 84.1 L783.0 84.7 L783.3 85.3 L783.8 86.4 L784.3 87.6 L784.8 88.7 L785.3 89.9 L785.8 91.0 L785.8 91.0 L786.3 92.0 L786.8 93.0 L787.3 94.0 L787.8 95.0 L788.3 96.0 L788.3 96.1 L788.8 97.1 L789.3 98.4 L789.8 99.7 L790.3 100.7 L790.8 101.1 L790.8 101.1 L791.3 100.8 L791.8 99.7 L792.3 98.1 L792.8 96.4 L793.3 95.0 L793.4 94.8 L793.8 94.1 L794.3 93.1 L794.8 92.3 L795.3 91.6 L795.8 91.1 L795.9 91.0 L796.3 90.9 L796.8 90.7 L797.3 90.6 L797.8 90.5 L797.9 90.5 L798.3 90.8 L798.8 92.1 L799.3 94.2 L799.8 96.6 L800.2 98.6 L800.3 98.8 L800.8 101.3 L801.3 104.1 L801.8 106.9 L802.3 109.5 L802.7 111.3 L802.8 111.3 L803.3 112.6 L803.8 113.7 L804.3 114.7 L804.8 115.5 L805.3 116.3 L805.3 116.3 L805.8 117.1 L806.3 117.9 L806.8 118.6 L807.3 118.9 L807.3 118.9 L807.8 118.4 L808.3 117.3 L808.8 115.8 L809.3 114.4 L809.6 113.8 L809.8 113.5 L810.3 112.6 L810.8 111.9 L811.3 111.4 L811.6 111.3 L811.8 111.3 L812.3 111.6 L812.8 112.0 L813.3 112.4 L813.6 112.5 L813.8 112.5 L814.3 111.6 L814.8 110.0 L815.3 107.9 L815.7 106.2 L815.8 105.7 L816.3 102.8 L816.8 99.2 L817.3 95.5 L817.8 92.0 L817.9 91.0 L818.3 89.0 L818.8 86.0 L819.3 83.3 L819.8 81.3 L820.0 80.9 L820.3 80.3 L820.8 79.6 L821.3 79.0 L821.7 78.9 L821.8 78.9 L822.3 79.2 L822.8 80.1 L823.3 81.3 L823.8 82.4 L824.3 83.4 L824.3 83.4 L824.8 84.3 L825.3 85.3 L825.8 86.3 L826.3 86.9 L826.8 87.2 L826.8 87.2 L827.3 86.6 L827.8 85.1 L828.3 83.1 L828.8 81.1 L828.8 80.9 L829.3 79.0 L829.8 76.5 L830.3 73.9 L830.8 71.6 L831.3 69.7 L831.4 69.5 L831.8 68.4 L832.3 67.1 L832.8 66.0 L833.3 65.4 L833.6 65.2 L833.8 65.2 L834.3 65.7 L834.8 66.6 L835.3 67.7 L835.8 68.8 L836.2 69.5 L836.3 69.7 L836.8 70.4 L837.3 71.2 L837.8 71.9 L838.3 72.7 L838.7 73.3 L838.8 73.4 L839.3 74.3 L839.8 75.3 L840.3 76.1 L840.7 76.3 L840.8 76.3 L841.3 75.7 L841.8 74.1 L842.3 72.2 L842.8 70.0 L843.3 68.2 L843.3 68.2 L843.8 66.4 L844.3 64.6 L844.8 62.7 L845.3 61.0 L845.8 59.4 L845.8 59.4 L846.3 57.8 L846.8 56.1 L847.3 54.6 L847.8 53.5 L848.3 53.0 L848.3 53.0 L848.8 53.2 L849.3 53.7 L849.8 54.5 L850.3 55.4 L850.3 55.6 L850.8 56.7 L851.3 58.7 L851.8 61.2 L852.3 63.9 L852.6 65.7 L852.8 66.5 L853.3 69.3 L853.8 72.3 L854.3 75.6 L854.6 78.4 L854.8 79.5 L855.3 85.4 L855.8 92.0 L856.3 97.1 L856.7 98.6 L856.8 98.5 L857.3 95.2 L857.8 89.2 L858.3 82.7 L858.4 80.9 L858.8 76.8 L859.3 69.8 L859.8 63.6 L860.2 60.6 L860.3 60.4 L860.8 58.9 L861.3 57.8 L861.8 57.1 L862.2 56.8 L862.3 56.8 L862.8 57.5 L863.3 59.1 L863.8 61.1 L864.3 63.2 L864.3 63.2 L864.8 65.7 L865.3 68.7 L865.8 71.9 L866.3 74.8 L866.8 77.0 L866.8 77.1 L867.3 78.5 L867.8 79.6 L868.3 80.6 L868.8 81.8 L869.3 83.3 L869.3 83.4 L869.8 85.8 L870.3 89.6 L870.8 93.3 L871.3 95.9 L871.4 96.1 L871.8 97.1 L872.3 98.1 L872.8 98.6 L872.9 98.6 L873.3 97.3 L873.8 93.3 L874.3 88.6 L874.8 85.1 L874.9 84.7 L875.3 83.7 L875.8 82.6 L876.3 81.8 L876.7 81.6 L876.8 81.7 L877.3 82.5 L877.8 84.2 L878.3 86.5 L878.7 88.5 L878.8 89.0 L879.3 92.9 L879.8 97.8 L880.3 102.4 L880.5 103.7 L880.8 105.8 L881.3 109.0 L881.8 111.0 L882.0 111.3 L882.3 110.9 L882.8 109.2 L883.3 107.7 L883.5 107.5 L883.8 107.8 L884.3 109.8 L884.8 112.5 L885.0 113.8 L885.3 115.4 L885.8 119.3 L886.3 121.4 L886.3 121.4 L886.8 119.6 L887.3 115.5 L887.8 110.9 L888.1 108.7 L888.3 107.1 L888.8 103.2 L889.3 99.5 L889.8 96.9 L890.1 96.1 L890.3 95.8 L890.8 95.3 L891.3 95.0 L891.8 94.8 L891.9 94.8 L892.3 96.0 L892.8 99.0 L893.3 101.1 L893.4 101.1 L893.8 99.6 L894.3 95.1 L894.8 90.4 L895.2 88.5 L895.3 88.2 L895.8 87.1 L896.3 86.3 L896.8 86.0 L896.9 85.9 L897.3 86.4 L897.8 87.9 L898.3 89.8 L898.8 90.9 L898.9 91.0 L899.3 90.9 L899.8 90.7 L900.3 90.3 L900.8 90.0 L901.3 89.8 L901.5 89.7 L901.8 90.1 L902.3 91.8 L902.8 94.8 L903.3 98.6 L903.3 99.0 L903.8 115.3 L904.3 130.0 L904.3 130.3 L904.8 135.3 L905.3 137.6 L905.3 137.6 L905.8 138.2 L906.3 138.6 L906.8 138.8 L907.3 138.9 L907.3 138.9 L907.8 138.6 L908.3 138.1 L908.8 137.7 L909.1 137.6 L909.3 137.9 L909.8 140.9 L910.3 145.4 L910.8 149.8 L910.8 150.3 L911.3 153.7 L911.8 157.9 L912.3 161.8 L912.8 165.0 L912.9 165.4 L913.3 167.3 L913.8 169.2 L914.3 170.9 L914.8 172.6 L914.9 173.0 L915.3 174.9 L915.8 177.4 L916.2 178.1 L916.3 177.9 L916.8 174.8 L917.3 169.9 L917.8 166.0 L917.9 165.4 L918.3 164.6 L918.8 163.7 L919.3 163.1 L919.8 162.6 L920.0 162.4 L920.3 162.1 L920.8 161.8 L921.3 161.5 L921.8 161.3 L922.3 161.0 L922.8 160.6 L923.0 160.4 L923.3 160.0 L923.8 159.3 L924.3 158.4 L924.8 157.3 L925.3 156.0 L925.5 155.3 L925.8 154.4 L926.3 152.0 L926.8 149.2 L927.3 146.4 L927.6 145.2 L927.8 144.1 L928.3 141.5 L928.8 139.0 L929.3 137.1 L929.8 136.3 L929.8 136.3 L930.3 136.8 L930.8 138.2 L931.3 139.9 L931.4 140.1 L931.8 142.6 L932.3 146.7 L932.8 150.8 L933.1 152.8 L933.3 153.6 L933.8 156.1 L934.3 158.2 L934.8 159.8 L935.2 160.4 L935.3 160.5 L935.8 160.9 L936.3 161.2 L936.8 161.5 L937.3 161.6 L937.7 161.6 L937.8 161.6 L938.3 161.3 L938.8 160.6 L939.3 159.9 L939.8 159.3 L940.2 159.1 L940.3 159.1 L940.8 160.2 L941.3 162.2 L941.8 164.3 L942.2 165.4 L942.3 165.5 L942.8 166.2 L943.3 166.8 L943.8 167.2 L944.3 167.4 L944.5 167.5 L944.8 167.4 L945.3 167.3 L945.8 167.1 L946.3 166.9 L946.8 166.8 L947.3 166.7 L947.3 166.7 L947.8 166.7 L948.3 166.7 L948.8 166.7 L949.3 166.7 L949.8 166.7 L950.3 166.7 L950.3 396.0 L32.1 396.0 Z" fill="rgb(255,0,0)" stroke="rgb(68,0,0)"/>
<path d="M32.1 178.3 L32.6 178.1 L33.1 177.9 L33.6 177.5 L34.1 177.2 L34.6 176.8 L35.1 176.3 L35.1 176.3 L35.6 175.8 L36.1 175.2 L36.6 174.5 L37.1 173.8 L37.6 173.0 L38.1 172.1 L38.6 171.3 L39.1 170.4 L39.6 169.6 L40.1 168.8 L40.1 168.7 L40.6 168.1 L41.1 167.4 L41.6 166.7 L42.1 166.0 L42.6 165.3 L43.1 164.6 L43.6 163.8 L44.1 163.1 L44.6 162.2 L45.1 161.4 L45.2 161.1 L45.6 160.4 L46.1 159.4 L46.6 158.3 L47.1 157.1 L47.6 155.9 L48.1 154.7 L48.6 153.4 L49.0 152.3 L49.1 152.1 L49.6 150.7 L50.1 149.1 L50.6 147.6 L51.1 146.0 L51.6 144.4 L52.1 142.9 L52.6 141.5 L52.8 140.9 L53.1 140.2 L53.6 138.9 L54.1 137.6 L54.6 136.4 L55.1 135.2 L55.6 134.1 L56.1 133.1 L56.6 132.1 L57.1 131.2 L57.3 130.8 L57.6 130.4 L58.1 129.6 L58.6 128.8 L59.1 128.1 L59.6 127.3 L60.1 126.6 L60.6 126.0 L61.1 125.4 L61.6 125.0 L62.1 124.6 L62.6 124.3 L62.9 124.2 L63.1 124.1 L63.6 124.0 L64.1 124.0 L64.6 123.9 L65.1 123.8 L65.6 123.8 L66.1 123.8 L66.6 123.7 L67.1 123.6 L67.6 123.5 L68.0 123.4 L68.1 123.4 L68.6 123.1 L69.1 122.5 L69.6 121.8 L70.1 120.9 L70.6 119.8 L71.1 118.7 L71.6 117.6 L71.8 117.1 L72.1 116.3 L72.6 114.7 L73.1 112.8 L73.6 110.7 L74.1 108.4 L74.6 105.9 L75.1 103.3 L75.6 100.7 L76.1 98.1 L76.6 95.6 L76.8 94.3 L77.1 93.1 L77.6 90.6 L78.1 87.9 L78.6 85.2 L79.1 82.5 L79.6 79.9 L80.1 77.3 L80.6 74.8 L80.6 74.6 L81.1 72.4 L81.6 70.0 L82.1 67.5 L82.6 65.2 L83.1 63.0 L83.6 60.9 L84.1 59.2 L84.4 58.1 L84.6 57.7 L85.1 56.4 L85.6 55.3 L86.1 54.2 L86.6 53.3 L87.1 52.4 L87.6 51.5 L88.1 50.7 L88.2 50.5 L88.6 50.0 L89.1 49.3 L89.6 48.6 L90.1 47.9 L90.6 47.3 L91.1 46.7 L91.6 46.1 L92.1 45.5 L92.6 45.0 L93.1 44.4 L93.6 43.9 L94.1 43.4 L94.6 42.9 L94.6 42.9 L95.1 42.4 L95.6 41.9 L96.1 41.5 L96.6 41.1 L97.1 40.6 L97.6 40.1 L97.8 39.9 L98.1 39.6 L98.6 39.1 L99.1 38.5 L99.6 38.0 L100.1 37.4 L100.4 37.1 L100.6 36.9 L101.1 36.3 L101.6 35.7 L102.1 35.3 L102.4 35.1 L102.6 35.0 L103.1 34.8 L103.6 34.6 L104.1 34.6 L104.2 34.6 L104.6 34.6 L105.1 34.9 L105.6 35.3 L105.9 35.6 L106.1 35.7 L106.6 36.2 L107.1 36.9 L107.6 37.7 L108.1 38.6 L108.2 38.9 L108.6 39.6 L109.1 41.0 L109.6 42.6 L110.1 44.3 L110.6 46.2 L111.1 48.0 L111.6 49.7 L112.1 51.2 L112.3 51.8 L112.6 52.6 L113.1 53.9 L113.6 55.2 L114.1 56.6 L114.6 57.8 L115.1 59.1 L115.6 60.3 L116.1 61.4 L116.6 62.5 L117.1 63.4 L117.6 64.3 L118.1 65.0 L118.6 65.7 L118.6 65.7 L119.1 66.2 L119.6 66.8 L120.1 67.3 L120.6 67.8 L121.1 68.2 L121.6 68.6 L122.1 68.8 L122.6 69.0 L122.9 69.0 L123.1 69.0 L123.6 68.7 L124.1 68.1 L124.6 67.3 L125.1 66.4 L125.6 65.5 L126.1 64.6 L126.2 64.4 L126.6 63.8 L127.1 62.8 L127.6 61.8 L128.1 60.7 L128.6 59.6 L129.1 58.5 L129.6 57.4 L130.1 56.3 L130.6 55.4 L131.1 54.6 L131.3 54.3 L131.6 53.8 L132.1 53.1 L132.6 52.3 L133.1 51.6 L133.6 50.9 L134.1 50.3 L134.6 49.7 L135.1 49.2 L135.6 48.9 L136.1 48.8 L136.3 48.7 L136.6 48.7 L137.1 48.7 L137.6 48.8 L138.1 48.8 L138.6 48.9 L139.1 48.9 L139.6 49.0 L140.1 49.0 L140.6 49.1 L141.1 49.2 L141.4 49.2 L141.6 49.3 L142.1 49.5 L142.6 49.8 L143.1 50.2 L143.6 50.6 L144.1 51.1 L144.6 51.7 L145.1 52.2 L145.6 52.8 L146.1 53.3 L146.6 53.8 L147.1 54.2 L147.6 54.6 L148.1 54.9 L148.6 55.0 L149.0 55.1 L149.1 55.1 L149.6 55.0 L150.1 55.0 L150.6 54.8 L151.1 54.7 L151.6 54.5 L152.1 54.3 L152.6 54.1 L153.1 53.8 L153.6 53.6 L154.1 53.3 L154.6 53.0 L155.1 52.7 L155.6 52.4 L156.1 52.1 L156.6 51.8 L156.6 51.8 L157.1 51.4 L157.6 50.9 L158.1 50.3 L158.6 49.7 L159.1 49.0 L159.6 48.3 L160.1 47.7 L160.6 47.0 L161.1 46.5 L161.6 46.0 L162.1 45.7 L162.6 45.5 L162.9 45.4 L163.1 45.4 L163.6 45.5 L164.1 45.6 L164.6 45.7 L165.1 45.9 L165.6 46.1 L166.1 46.4 L166.6 46.6 L166.7 46.7 L167.1 47.1 L167.6 47.8 L168.1 48.9 L168.6 50.2 L169.1 51.8 L169.6 53.4 L170.1 55.1 L170.6 56.9 L171.1 58.6 L171.6 60.1 L171.8 60.6 L172.1 61.6 L172.6 63.1 L173.1 64.7 L173.6 66.3 L174.1 67.9 L174.6 69.5 L175.1 71.1 L175.6 72.5 L176.1 74.0 L176.6 75.3 L176.8 75.8 L177.1 76.5 L177.6 77.7 L178.1 79.0 L178.6 80.3 L179.1 81.6 L179.6 82.7 L180.1 83.6 L180.6 84.2 L181.1 84.6 L181.4 84.7 L181.6 84.7 L182.1 84.5 L182.6 84.2 L183.1 83.7 L183.6 83.2 L184.1 82.6 L184.6 82.0 L185.1 81.3 L185.6 80.8 L186.1 80.3 L186.6 79.8 L187.0 79.6 L187.1 79.6 L187.6 79.3 L188.1 79.1 L188.6 78.9 L189.1 78.8 L189.6 78.6 L190.1 78.4 L190.6 78.3 L191.1 78.2 L191.6 78.0 L192.1 77.9 L192.6 77.7 L193.1 77.6 L193.6 77.4 L194.1 77.3 L194.6 77.1 L194.6 77.1 L195.1 76.9 L195.6 76.7 L196.1 76.5 L196.6 76.3 L197.1 76.0 L197.6 75.8 L198.1 75.6 L198.6 75.4 L199.1 75.1 L199.6 74.8 L200.1 74.6 L200.6 74.3 L201.1 74.0 L201.6 73.7 L202.1 73.3 L202.2 73.3 L202.6 72.9 L203.1 72.5 L203.6 72.0 L204.1 71.4 L204.6 70.8 L205.1 70.2 L205.6 69.6 L206.1 68.9 L206.6 68.2 L207.1 67.6 L207.6 66.9 L208.1 66.3 L208.6 65.7 L209.1 65.1 L209.6 64.6 L209.7 64.4 L210.1 64.1 L210.6 63.6 L211.1 63.1 L211.6 62.6 L212.1 62.0 L212.6 61.5 L213.1 61.1 L213.6 60.6 L214.1 60.1 L214.6 59.7 L215.1 59.3 L215.6 59.0 L216.1 58.7 L216.6 58.4 L217.1 58.2 L217.3 58.1 L217.6 58.0 L218.1 57.9 L218.6 57.7 L219.1 57.6 L219.6 57.4 L220.1 57.3 L220.6 57.2 L221.1 57.1 L221.6 57.0 L222.1 56.9 L222.6 56.9 L223.1 56.8 L223.6 56.8 L223.7 56.8 L224.1 56.9 L224.6 57.2 L225.1 57.7 L225.6 58.1 L226.1 58.6 L226.6 59.0 L227.1 59.3 L227.5 59.4 L227.6 59.4 L228.1 59.3 L228.6 59.1 L229.1 58.9 L229.6 58.6 L230.1 58.4 L230.6 58.2 L231.1 58.1 L231.3 58.1 L231.6 58.2 L232.1 58.7 L232.6 59.6 L233.1 60.7 L233.6 62.0 L234.1 63.3 L234.6 64.6 L235.1 65.7 L235.1 65.8 L235.6 67.1 L236.1 68.6 L236.6 70.2 L237.1 71.9 L237.6 73.5 L238.1 75.0 L238.6 76.3 L239.1 77.4 L239.6 78.1 L240.1 78.4 L240.1 78.4 L240.6 78.3 L241.1 78.1 L241.6 77.8 L242.1 77.5 L242.6 77.1 L243.1 76.7 L243.6 76.4 L244.1 76.1 L244.6 75.9 L245.1 75.8 L245.2 75.8 L245.6 75.9 L246.1 76.0 L246.6 76.2 L247.1 76.5 L247.6 76.9 L248.1 77.4 L248.6 77.8 L249.1 78.4 L249.6 78.9 L250.1 79.5 L250.3 79.6 L250.6 80.1 L251.1 80.8 L251.6 81.8 L252.1 82.8 L252.6 83.9 L253.1 85.1 L253.6 86.4 L254.1 87.8 L254.6 89.1 L255.1 90.5 L255.3 91.0 L255.6 91.9 L256.1 93.8 L256.6 96.0 L257.1 98.2 L257.6 100.3 L258.1 102.1 L258.6 103.2 L259.1 103.7 L259.1 103.7 L259.6 103.2 L260.1 102.0 L260.6 100.3 L261.1 98.3 L261.6 96.1 L262.1 93.9 L262.6 91.9 L262.9 91.0 L263.1 90.4 L263.6 89.0 L264.1 87.6 L264.6 86.3 L265.1 85.0 L265.6 83.7 L266.1 82.4 L266.6 81.1 L266.7 80.9 L267.1 79.7 L267.6 78.2 L268.1 76.7 L268.6 75.2 L269.1 73.8 L269.6 72.7 L270.0 72.0 L270.1 71.8 L270.6 71.1 L271.1 70.4 L271.6 69.7 L272.1 69.0 L272.6 68.4 L273.1 67.9 L273.6 67.5 L274.1 67.2 L274.6 67.0 L275.1 67.0 L275.1 67.0 L275.6 67.0 L276.1 67.2 L276.6 67.5 L277.1 67.9 L277.6 68.3 L278.1 68.8 L278.6 69.2 L279.1 69.6 L279.6 70.0 L280.1 70.4 L280.6 70.6 L281.1 70.7 L281.4 70.8 L281.6 70.7 L282.1 70.6 L282.6 70.4 L283.1 70.2 L283.6 69.8 L284.1 69.4 L284.6 69.0 L285.1 68.5 L285.6 68.1 L286.1 67.7 L286.6 67.2 L287.1 66.9 L287.6 66.6 L288.1 66.4 L288.6 66.2 L289.0 66.2 L289.1 66.2 L289.6 66.3 L290.1 66.5 L290.6 66.8 L291.1 67.1 L291.6 67.6 L292.1 68.1 L292.6 68.7 L293.1 69.4 L293.6 70.1 L294.1 70.8 L294.1 70.9 L294.6 72.1 L295.1 73.8 L295.6 76.0 L296.1 78.5 L296.6 81.3 L297.1 84.2 L297.6 87.2 L297.8 88.5 L298.1 90.4 L298.6 94.5 L299.1 99.5 L299.6 104.8 L300.1 110.2 L300.6 115.3 L301.1 119.7 L301.6 123.0 L302.1 124.9 L302.4 125.2 L302.6 124.9 L303.1 122.1 L303.6 117.2 L304.1 111.2 L304.6 104.8 L305.1 99.0 L305.4 96.1 L305.6 94.5 L306.1 90.1 L306.6 85.8 L307.1 81.6 L307.6 77.6 L308.1 74.0 L308.6 71.0 L309.1 68.6 L309.2 68.2 L309.6 66.8 L310.1 65.1 L310.6 63.5 L311.1 62.1 L311.6 60.9 L312.1 60.1 L312.6 59.5 L313.0 59.4 L313.1 59.4 L313.6 59.4 L314.1 59.4 L314.6 59.4 L315.1 59.4 L315.6 59.4 L316.1 59.4 L316.6 59.4 L316.8 59.4 L317.1 59.4 L317.6 59.7 L318.1 60.2 L318.6 60.9 L319.1 61.8 L319.6 62.8 L320.1 63.9 L320.6 65.1 L321.1 66.3 L321.6 67.6 L321.9 68.2 L322.1 68.9 L322.6 70.8 L323.1 73.1 L323.6 75.7 L324.1 78.2 L324.6 80.4 L325.1 82.2 L325.6 83.3 L325.7 83.4 L326.1 83.9 L326.6 84.2 L327.1 84.5 L327.6 84.7 L328.1 84.9 L328.6 85.2 L329.1 85.6 L329.5 85.9 L329.6 86.2 L330.1 87.4 L330.6 89.4 L331.1 91.9 L331.6 94.6 L332.1 97.6 L332.6 100.4 L333.1 103.0 L333.3 103.7 L333.6 105.5 L334.1 108.3 L334.6 110.9 L335.1 112.4 L335.3 112.5 L335.6 112.1 L336.1 110.3 L336.6 107.8 L337.1 105.3 L337.6 103.8 L337.8 103.7 L338.1 103.7 L338.6 103.8 L339.1 104.0 L339.6 104.2 L340.1 104.5 L340.6 104.8 L340.9 104.9 L341.1 105.1 L341.6 105.7 L342.1 106.4 L342.6 107.2 L343.1 108.1 L343.6 109.1 L344.1 110.1 L344.6 111.2 L344.7 111.3 L345.1 112.3 L345.6 113.4 L346.1 114.7 L346.6 116.0 L347.1 117.4 L347.6 118.9 L348.1 120.4 L348.5 121.4 L348.6 121.8 L349.1 122.9 L349.6 123.7 L350.1 125.1 L350.6 127.4 L351.0 130.0 L351.1 137.5 L351.3 145.2 L351.6 153.4 L351.8 155.3 L352.1 160.5 L352.6 166.3 L352.8 168.0 L353.1 172.0 L353.6 178.1 L353.8 180.6 L354.1 190.9 L354.3 195.8 L354.6 206.8 L354.8 209.0 L355.1 200.9 L355.3 195.8 L355.6 188.3 L356.1 180.6 L356.1 179.8 L356.6 175.1 L357.1 171.5 L357.6 168.0 L357.6 167.5 L358.1 163.0 L358.6 157.9 L358.9 155.3 L359.1 151.2 L359.6 142.7 L359.6 142.1 L360.0 133.8 L360.1 130.0 L360.1 129.8 L360.6 126.6 L361.1 124.3 L361.6 122.6 L362.1 121.5 L362.6 120.6 L363.2 119.8 L363.7 118.9 L363.7 118.9 L364.2 117.8 L364.7 116.6 L365.2 115.5 L365.7 114.5 L366.2 113.6 L366.7 113.0 L367.2 112.6 L367.5 112.5 L367.7 112.6 L368.2 112.8 L368.7 113.3 L369.2 114.0 L369.7 115.0 L370.2 116.0 L370.7 117.3 L371.2 118.6 L371.3 118.9 L371.7 120.3 L372.2 122.9 L372.7 126.1 L373.2 129.2 L373.3 130.0 L373.7 132.1 L374.2 135.0 L374.7 137.9 L375.1 140.1 L375.2 140.6 L375.7 143.3 L376.2 145.8 L376.7 148.2 L376.8 149.0 L377.2 150.5 L377.7 153.0 L378.2 154.6 L378.4 154.8 L378.7 154.3 L379.2 151.5 L379.7 147.9 L379.9 146.5 L380.2 144.6 L380.7 140.8 L381.2 137.0 L381.7 133.7 L381.9 132.5 L382.2 131.7 L382.7 130.0 L382.7 130.0 L383.2 124.9 L383.7 116.8 L384.2 109.0 L384.4 106.2 L384.7 104.5 L385.2 100.9 L385.7 97.7 L386.2 95.3 L386.7 93.8 L387.0 93.5 L387.2 93.7 L387.7 95.7 L388.2 99.2 L388.7 103.4 L389.0 106.2 L389.2 107.7 L389.7 113.3 L390.2 119.8 L390.7 126.1 L391.0 130.0 L391.2 131.4 L391.7 135.8 L392.2 139.9 L392.5 142.7 L392.7 143.6 L393.2 147.8 L393.7 151.2 L394.1 152.3 L394.2 152.2 L394.7 149.8 L395.2 145.8 L395.6 142.7 L395.7 142.1 L396.2 138.4 L396.7 134.9 L397.1 132.5 L397.2 132.3 L397.7 130.7 L397.8 130.0 L398.2 127.7 L398.7 121.6 L399.2 115.1 L399.6 111.3 L399.7 111.1 L400.2 109.0 L400.7 107.3 L401.2 106.1 L401.6 105.7 L401.7 105.7 L402.2 107.3 L402.7 111.0 L403.2 115.3 L403.7 118.8 L403.7 118.9 L404.2 121.6 L404.7 124.3 L405.2 126.1 L405.4 126.5 L405.7 126.3 L406.2 125.0 L406.7 122.8 L407.2 120.2 L407.7 117.7 L408.0 116.3 L408.2 115.6 L408.7 113.5 L409.2 111.3 L409.7 109.4 L410.2 108.0 L410.5 107.5 L410.7 107.3 L411.2 106.9 L411.7 106.6 L412.2 106.4 L412.7 106.2 L413.0 106.2 L413.2 106.2 L413.7 106.8 L414.2 107.9 L414.7 109.6 L415.2 111.5 L415.7 113.6 L416.2 115.7 L416.3 116.3 L416.7 117.7 L417.2 119.8 L417.7 122.2 L418.2 125.1 L418.7 128.5 L418.9 130.0 L419.2 132.9 L419.7 139.5 L420.2 147.4 L420.6 155.3 L420.7 155.9 L421.2 165.5 L421.7 176.0 L421.9 180.6 L422.2 186.4 L422.7 197.8 L423.2 203.4 L423.2 203.4 L423.7 200.0 L424.2 192.3 L424.7 184.0 L424.9 180.6 L425.2 178.2 L425.7 173.0 L426.2 169.1 L426.5 168.0 L426.7 167.6 L427.2 166.9 L427.7 166.4 L428.2 166.2 L428.2 166.2 L428.7 166.5 L429.2 167.6 L429.7 169.2 L430.0 170.5 L430.2 171.4 L430.7 176.0 L431.2 182.5 L431.7 189.2 L432.0 193.3 L432.2 194.8 L432.7 200.7 L433.2 204.5 L433.3 204.7 L433.7 201.9 L434.2 192.9 L434.6 185.7 L434.7 183.9 L435.2 175.2 L435.7 166.2 L436.2 157.8 L436.3 155.3 L436.7 150.2 L437.2 142.9 L437.7 136.8 L437.8 135.1 L438.2 132.7 L438.6 130.0 L438.7 129.6 L439.2 125.8 L439.7 121.7 L440.2 118.1 L440.7 116.1 L440.9 115.8 L441.2 116.2 L441.7 118.3 L442.2 121.6 L442.7 125.3 L443.2 128.7 L443.4 130.0 L443.7 131.2 L444.2 133.3 L444.7 135.2 L445.2 137.1 L445.7 139.0 L445.9 140.1 L446.2 141.0 L446.7 143.1 L447.2 145.2 L447.7 147.3 L448.2 149.2 L448.5 150.3 L448.7 150.9 L449.2 152.3 L449.7 153.6 L450.2 155.1 L450.3 155.3 L450.7 156.6 L451.2 158.1 L451.7 160.0 L452.0 161.6 L452.2 162.6 L452.7 167.1 L453.2 173.0 L453.7 179.2 L453.8 180.6 L454.2 185.3 L454.7 192.0 L455.2 198.7 L455.7 204.5 L455.8 205.9 L456.2 209.4 L456.7 213.8 L457.1 215.3 L457.2 215.1 L457.7 208.2 L458.2 197.0 L458.4 193.3 L458.7 187.0 L459.2 176.7 L459.6 168.0 L459.7 167.0 L460.2 158.4 L460.4 155.3 L460.7 151.3 L461.2 145.3 L461.4 142.7 L461.7 139.1 L462.2 133.0 L462.2 132.7 L462.7 126.7 L462.7 126.7 L463.2 127.4 L463.7 129.0 L464.2 131.3 L464.7 134.0 L464.7 134.1 L465.2 139.3 L465.7 146.7 L466.2 151.5 L466.3 151.8 L466.7 150.0 L467.2 144.0 L467.7 137.3 L467.7 136.8 L468.2 130.7 L468.7 123.5 L469.2 119.3 L469.2 119.1 L469.7 118.5 L470.2 118.0 L470.7 117.7 L471.2 117.6 L471.3 117.6 L471.7 117.9 L472.2 118.7 L472.7 119.8 L473.2 120.8 L473.7 121.4 L473.8 121.4 L474.2 120.9 L474.7 119.3 L475.2 117.1 L475.7 115.0 L476.2 113.9 L476.3 113.8 L476.7 113.9 L477.2 114.6 L477.7 115.7 L478.2 117.0 L478.7 118.4 L478.9 118.9 L479.2 119.7 L479.7 121.2 L480.2 123.0 L480.7 125.3 L481.2 128.4 L481.4 130.0 L481.7 134.2 L482.2 147.1 L482.7 160.4 L482.7 160.9 L483.2 176.0 L483.7 188.7 L483.9 190.8 L484.2 188.8 L484.7 178.1 L485.2 168.1 L485.2 168.0 L485.7 162.5 L486.2 157.6 L486.7 154.6 L487.0 154.1 L487.2 154.1 L487.7 154.1 L488.2 154.3 L488.7 154.5 L489.2 154.6 L489.7 154.8 L489.7 154.8 L490.2 154.9 L490.7 155.1 L491.2 155.2 L491.7 155.3 L492.2 155.3 L492.3 155.3 L492.7 154.6 L493.2 152.4 L493.7 150.4 L494.1 149.7 L494.2 149.7 L494.7 149.8 L495.2 149.9 L495.7 150.2 L495.8 150.3 L496.2 152.5 L496.7 159.6 L497.1 165.4 L497.2 166.7 L497.7 174.1 L498.2 180.8 L498.6 183.2 L498.7 183.0 L499.2 175.3 L499.7 161.0 L499.9 155.3 L500.2 143.0 L500.4 135.1 L500.7 123.4 L501.1 111.3 L501.2 110.8 L501.7 106.5 L502.2 103.3 L502.7 101.1 L503.2 100.0 L503.4 99.9 L503.7 100.0 L504.2 100.6 L504.7 101.7 L505.2 103.3 L505.7 105.1 L505.9 106.2 L506.2 107.5 L506.7 111.8 L507.2 117.9 L507.7 125.3 L508.0 130.0 L508.2 133.9 L508.7 145.8 L509.0 155.3 L509.2 166.0 L509.7 206.5 L510.1 226.2 L510.2 225.8 L510.7 201.1 L511.0 180.6 L511.2 170.8 L511.7 141.1 L512.0 130.0 L512.2 128.2 L512.7 124.9 L513.2 122.1 L513.3 121.4 L513.7 117.6 L514.2 112.0 L514.7 106.7 L515.1 103.7 L515.2 102.9 L515.7 99.6 L516.2 96.8 L516.7 94.8 L517.1 94.3 L517.2 94.3 L517.7 95.0 L518.2 96.3 L518.7 98.0 L518.9 98.6 L519.2 100.1 L519.7 103.5 L520.2 107.5 L520.7 111.6 L521.2 115.2 L521.4 116.3 L521.7 117.9 L522.2 120.6 L522.7 123.2 L523.2 125.2 L523.7 126.3 L523.9 126.5 L524.2 126.4 L524.7 126.3 L525.2 126.1 L525.7 125.7 L526.2 125.4 L526.5 125.2 L526.7 125.0 L527.2 124.1 L527.7 123.1 L528.2 122.2 L528.7 121.5 L529.0 121.4 L529.2 121.4 L529.7 121.4 L530.2 121.4 L530.7 121.4 L531.2 121.4 L531.5 121.4 L531.7 121.4 L532.2 122.1 L532.7 123.2 L533.2 124.5 L533.7 125.8 L534.1 126.5 L534.2 126.7 L534.7 127.4 L535.2 128.0 L535.7 128.6 L536.2 129.3 L536.6 130.0 L536.7 130.2 L537.2 131.7 L537.7 133.3 L538.2 134.7 L538.4 135.1 L538.7 135.7 L539.2 136.5 L539.7 137.2 L540.2 137.6 L540.4 137.6 L540.7 137.4 L541.2 136.6 L541.7 135.5 L542.2 134.2 L542.4 133.8 L542.7 133.2 L543.2 132.3 L543.7 131.2 L544.2 130.0 L544.2 129.9 L544.7 128.2 L545.2 126.0 L545.7 123.5 L546.2 121.1 L546.7 118.9 L546.7 118.9 L547.2 116.9 L547.7 114.8 L548.2 112.8 L548.7 111.2 L549.2 110.1 L549.2 110.0 L549.7 109.3 L550.2 108.8 L550.5 108.7 L550.7 109.0 L551.2 111.3 L551.7 115.2 L552.2 119.2 L552.5 121.4 L552.7 122.4 L553.2 125.5 L553.5 126.5 L553.7 126.3 L554.2 123.6 L554.7 119.4 L555.2 115.4 L555.6 113.8 L555.7 113.5 L556.2 112.6 L556.7 111.9 L557.2 111.4 L557.6 111.3 L557.7 111.3 L558.2 112.8 L558.7 115.7 L559.2 119.0 L559.6 121.4 L559.7 121.8 L560.2 124.1 L560.7 126.3 L561.2 128.9 L561.4 130.0 L561.7 132.1 L562.2 136.1 L562.7 140.6 L563.2 145.2 L563.2 145.6 L563.7 152.9 L564.2 159.4 L564.4 160.4 L564.7 159.8 L565.2 157.0 L565.7 155.3 L565.7 155.3 L566.2 155.9 L566.7 157.6 L567.2 160.0 L567.7 162.8 L567.7 162.9 L568.2 167.7 L568.7 174.6 L569.0 178.1 L569.2 180.7 L569.7 186.8 L570.0 188.2 L570.2 187.9 L570.7 184.8 L571.2 180.4 L571.5 178.1 L571.7 176.9 L572.2 173.5 L572.7 170.3 L573.2 168.2 L573.3 168.0 L573.7 167.3 L574.2 166.8 L574.7 166.3 L575.2 165.7 L575.3 165.4 L575.7 164.1 L576.2 161.3 L576.7 157.9 L577.1 155.3 L577.2 154.5 L577.7 150.6 L578.2 146.6 L578.7 143.3 L578.9 142.7 L579.2 141.4 L579.7 139.7 L580.2 138.4 L580.7 137.7 L580.9 137.6 L581.2 137.7 L581.7 138.2 L582.2 138.9 L582.7 139.6 L583.2 140.1 L583.4 140.1 L583.7 139.6 L584.2 136.9 L584.7 133.9 L585.2 132.5 L585.2 132.5 L585.7 134.8 L586.2 138.7 L586.5 140.1 L586.7 141.3 L587.2 143.5 L587.7 144.9 L588.0 145.2 L588.2 145.0 L588.7 143.8 L589.2 142.2 L589.7 141.4 L589.7 141.4 L590.2 142.5 L590.7 145.0 L591.2 147.2 L591.5 147.7 L591.7 147.7 L592.2 147.5 L592.7 147.2 L593.2 146.8 L593.5 146.5 L593.7 146.3 L594.2 145.3 L594.7 144.0 L595.2 142.5 L595.7 141.0 L596.1 140.1 L596.2 139.8 L596.7 138.6 L597.2 137.4 L597.7 136.4 L598.2 135.5 L598.6 135.1 L598.7 135.0 L599.2 134.7 L599.7 134.5 L600.2 134.3 L600.7 134.0 L601.1 133.8 L601.2 133.7 L601.7 133.3 L602.2 132.8 L602.7 132.2 L603.2 131.6 L603.7 131.3 L603.7 131.2 L604.2 130.9 L604.7 130.6 L605.2 130.3 L605.7 130.1 L606.2 130.0 L606.2 130.0 L606.7 130.2 L607.2 130.7 L607.7 131.4 L608.2 132.0 L608.7 132.5 L608.7 132.5 L609.2 132.8 L609.7 133.0 L610.2 133.2 L610.7 133.4 L611.2 133.8 L611.3 133.8 L611.7 135.5 L612.2 139.2 L612.7 143.1 L613.2 145.1 L613.3 145.2 L613.7 143.8 L614.2 140.0 L614.7 136.3 L615.1 135.1 L615.2 134.9 L615.7 134.5 L616.2 134.2 L616.7 134.0 L617.2 133.8 L617.6 133.8 L617.7 133.8 L618.2 134.7 L618.7 136.0 L619.2 137.2 L619.6 137.6 L619.7 137.6 L620.2 136.3 L620.7 134.2 L621.2 132.7 L621.4 132.5 L621.7 132.9 L622.2 134.6 L622.7 137.1 L623.2 139.4 L623.4 140.1 L623.7 141.0 L624.2 142.4 L624.7 143.7 L625.2 145.2 L625.2 145.3 L625.7 147.7 L626.2 149.9 L626.5 150.3 L626.7 149.9 L627.2 147.8 L627.7 144.7 L628.2 141.5 L628.5 140.1 L628.7 139.1 L629.2 136.9 L629.7 134.8 L630.2 132.7 L630.3 132.5 L630.7 129.9 L631.2 127.2 L631.5 126.5 L631.7 126.3 L632.2 126.0 L632.7 125.7 L633.2 125.5 L633.7 125.4 L634.2 125.3 L634.7 125.2 L635.2 125.2 L635.3 125.2 L635.7 125.3 L636.2 125.6 L636.7 126.0 L637.2 126.5 L637.7 127.0 L638.2 127.4 L638.7 127.6 L639.1 127.7 L639.2 127.7 L639.7 127.5 L640.2 127.2 L640.7 126.8 L641.2 126.5 L641.6 126.5 L641.7 126.5 L642.2 126.7 L642.7 127.1 L643.2 127.6 L643.7 127.7 L643.7 127.7 L644.2 124.8 L644.7 119.6 L645.2 115.6 L645.4 115.1 L645.7 115.1 L646.2 115.6 L646.7 116.1 L647.2 116.3 L647.2 116.3 L647.7 115.5 L648.2 113.6 L648.7 111.2 L649.2 109.0 L649.7 107.5 L649.7 107.5 L650.2 106.7 L650.7 106.1 L651.2 105.5 L651.7 105.1 L652.2 104.9 L652.3 104.9 L652.7 105.1 L653.2 105.7 L653.7 106.5 L654.2 107.5 L654.7 108.6 L654.8 108.7 L655.2 109.8 L655.7 111.6 L656.2 113.7 L656.7 116.0 L657.2 118.3 L657.3 118.9 L657.7 120.8 L658.2 123.5 L658.7 126.3 L659.2 129.2 L659.4 130.0 L659.7 132.1 L660.2 135.2 L660.7 138.1 L661.1 140.1 L661.2 140.5 L661.7 142.2 L662.2 143.6 L662.7 145.2 L662.7 145.5 L663.2 148.8 L663.7 152.5 L664.2 155.0 L664.4 155.3 L664.7 154.9 L665.2 152.9 L665.7 149.8 L666.2 146.5 L666.5 145.2 L666.7 143.5 L667.2 139.8 L667.7 136.5 L668.2 135.1 L668.2 135.1 L668.7 136.4 L669.2 139.6 L669.7 143.4 L670.0 145.2 L670.2 146.6 L670.7 149.5 L671.2 152.6 L671.7 155.8 L672.0 157.8 L672.2 159.6 L672.7 164.8 L673.2 167.9 L673.3 168.0 L673.7 167.6 L674.2 166.6 L674.7 165.7 L675.1 165.4 L675.2 165.6 L675.7 168.0 L676.2 171.7 L676.7 174.7 L677.1 175.6 L677.2 175.5 L677.7 174.7 L678.2 173.3 L678.7 172.1 L679.1 171.8 L679.2 171.9 L679.7 173.7 L680.2 176.7 L680.7 179.1 L680.9 179.4 L681.2 179.7 L681.7 179.9 L682.2 180.1 L682.7 180.5 L682.9 180.6 L683.2 181.5 L683.7 184.3 L684.2 187.1 L684.7 188.2 L684.7 188.2 L685.2 187.1 L685.7 184.6 L686.2 181.8 L686.5 180.6 L686.7 179.0 L687.2 175.4 L687.7 172.4 L688.0 171.8 L688.2 171.5 L688.7 171.0 L689.2 170.6 L689.7 170.5 L689.7 170.5 L690.2 172.1 L690.7 176.0 L691.2 180.4 L691.3 180.6 L691.7 185.2 L692.2 190.7 L692.7 195.5 L692.8 195.8 L693.2 199.4 L693.7 202.9 L694.2 204.7 L694.3 204.7 L694.7 204.1 L695.2 202.4 L695.7 200.0 L696.1 198.4 L696.2 197.5 L696.7 194.1 L697.2 190.1 L697.7 186.4 L697.8 185.7 L698.2 183.5 L698.7 181.0 L699.2 178.6 L699.7 176.2 L699.9 175.6 L700.2 173.6 L700.7 170.7 L701.2 168.4 L701.4 168.0 L701.7 167.3 L702.2 166.6 L702.7 165.8 L702.9 165.4 L703.2 164.3 L703.7 161.7 L704.2 158.9 L704.4 157.8 L704.7 156.2 L705.2 153.2 L705.7 150.6 L706.2 149.0 L706.2 148.9 L706.7 148.0 L707.2 147.2 L707.7 146.6 L708.2 146.5 L708.2 146.5 L708.7 147.4 L709.2 149.5 L709.7 151.8 L710.0 152.8 L710.2 153.6 L710.7 155.5 L711.2 157.1 L711.7 157.8 L711.8 157.8 L712.2 157.1 L712.7 155.4 L713.2 153.3 L713.7 151.6 L713.8 151.5 L714.2 150.7 L714.7 149.9 L715.2 149.3 L715.6 149.0 L715.7 148.8 L716.2 148.5 L716.7 148.3 L717.2 148.0 L717.6 147.7 L717.7 147.6 L718.2 146.9 L718.7 146.0 L719.2 145.4 L719.6 145.2 L719.7 145.2 L720.2 145.5 L720.7 146.1 L721.2 146.4 L721.4 146.5 L721.7 146.1 L722.2 144.7 L722.7 143.2 L723.2 142.7 L723.2 142.7 L723.7 143.4 L724.2 144.8 L724.7 146.4 L725.2 147.7 L725.2 147.9 L725.7 149.0 L726.2 150.2 L726.7 151.4 L727.2 152.8 L727.2 152.9 L727.7 154.8 L728.2 157.0 L728.7 159.3 L729.0 160.4 L729.2 161.5 L729.7 163.8 L730.2 166.1 L730.7 167.9 L730.8 168.0 L731.2 169.6 L731.7 171.1 L732.2 171.8 L732.3 171.8 L732.7 170.7 L733.2 167.9 L733.7 164.6 L734.1 162.9 L734.2 161.9 L734.7 159.5 L735.2 157.0 L735.7 154.5 L736.1 152.8 L736.2 151.9 L736.7 149.3 L737.2 146.6 L737.7 143.4 L737.8 142.7 L738.2 138.7 L738.7 133.0 L739.1 130.0 L739.2 129.3 L739.7 126.9 L740.2 125.0 L740.7 123.4 L741.2 122.2 L741.6 121.4 L741.7 121.2 L742.2 120.3 L742.7 119.5 L743.2 118.8 L743.7 118.2 L744.2 117.8 L744.7 117.6 L744.9 117.6 L745.3 117.6 L745.8 117.7 L746.3 117.9 L746.8 118.1 L747.3 118.4 L747.8 118.7 L748.0 118.9 L748.3 119.0 L748.8 119.4 L749.3 120.0 L749.8 120.8 L750.0 121.4 L750.3 123.2 L750.8 129.2 L750.8 130.0 L751.3 132.5 L751.8 134.9 L752.3 137.0 L752.8 139.4 L752.9 140.1 L753.3 142.6 L753.8 146.4 L754.3 150.2 L754.6 152.8 L754.8 153.4 L755.3 156.7 L755.8 158.9 L755.9 159.1 L756.3 158.3 L756.8 154.8 L757.3 150.6 L757.7 147.7 L757.8 147.4 L758.3 145.2 L758.8 143.4 L759.3 141.6 L759.7 140.1 L759.8 140.0 L760.3 138.2 L760.8 136.5 L761.3 134.9 L761.8 133.5 L762.2 132.5 L762.3 132.5 L762.8 131.8 L763.3 131.3 L763.8 130.8 L764.3 130.4 L764.8 130.0 L764.8 130.0 L765.3 129.7 L765.8 129.5 L766.3 129.2 L766.5 129.0 L766.8 128.7 L767.3 127.2 L767.8 125.2 L768.3 123.4 L768.6 122.7 L768.8 122.3 L769.3 121.5 L769.8 120.8 L770.3 120.2 L770.8 119.7 L771.3 119.4 L771.6 119.4 L771.8 119.4 L772.3 119.6 L772.8 120.1 L773.3 120.8 L773.6 121.4 L773.8 121.6 L774.3 122.9 L774.8 124.8 L775.3 127.0 L775.4 127.7 L775.8 130.4 L776.2 132.5 L776.3 132.4 L776.8 128.4 L777.3 123.5 L777.4 122.7 L777.8 121.9 L778.3 120.9 L778.8 120.2 L779.3 119.6 L779.8 119.4 L780.0 119.4 L780.3 119.4 L780.8 119.8 L781.3 120.5 L781.8 121.3 L782.3 122.2 L782.5 122.7 L782.8 123.2 L783.3 124.6 L783.8 126.2 L784.3 127.8 L784.8 129.3 L785.0 130.0 L785.3 130.5 L785.8 131.5 L786.3 132.5 L786.8 133.4 L787.3 134.4 L787.6 135.1 L787.8 135.6 L788.3 137.1 L788.8 138.7 L789.3 140.0 L789.3 140.1 L789.8 140.9 L790.3 141.7 L790.8 142.4 L791.3 142.6 L791.4 142.7 L791.8 142.4 L792.3 141.6 L792.8 140.4 L793.3 139.1 L793.8 137.9 L793.9 137.6 L794.3 136.8 L794.8 135.6 L795.3 134.5 L795.8 133.5 L796.3 132.7 L796.4 132.5 L796.8 132.2 L797.3 131.7 L797.8 131.4 L798.2 131.3 L798.3 131.3 L798.8 132.4 L799.3 134.8 L799.8 137.7 L800.2 140.1 L800.3 140.4 L800.8 143.3 L801.3 146.6 L801.8 149.3 L802.0 150.3 L802.3 151.2 L802.8 152.5 L803.3 153.7 L803.8 154.8 L804.0 155.3 L804.3 155.9 L804.8 157.2 L805.3 158.5 L805.8 159.6 L806.3 160.3 L806.5 160.4 L806.8 160.3 L807.3 159.5 L807.8 158.2 L808.3 156.8 L808.8 155.7 L809.1 155.3 L809.3 155.2 L809.8 154.9 L810.3 154.7 L810.8 154.5 L811.3 154.3 L811.6 154.1 L811.8 153.9 L812.3 153.4 L812.8 152.7 L813.3 151.9 L813.8 151.0 L814.1 150.3 L814.3 150.0 L814.8 149.0 L815.3 147.9 L815.8 146.5 L816.2 145.2 L816.3 144.8 L816.8 142.0 L817.3 138.3 L817.7 135.1 L817.8 134.4 L818.3 129.1 L818.8 123.8 L819.2 121.4 L819.3 121.3 L819.8 120.6 L820.3 120.1 L820.8 119.7 L821.3 119.4 L821.7 119.4 L821.8 119.4 L822.3 119.6 L822.8 120.2 L823.3 121.0 L823.8 121.8 L824.3 122.7 L824.3 122.7 L824.8 123.7 L825.3 125.0 L825.8 126.3 L826.3 127.3 L826.8 127.7 L826.8 127.7 L827.3 127.2 L827.8 125.7 L828.3 123.5 L828.8 121.2 L829.3 119.1 L829.3 118.9 L829.8 117.1 L830.3 114.8 L830.8 112.5 L831.3 110.5 L831.8 108.9 L831.9 108.7 L832.3 107.8 L832.8 106.8 L833.3 106.1 L833.8 105.7 L833.9 105.7 L834.3 105.9 L834.8 106.6 L835.3 107.6 L835.8 108.7 L836.3 109.8 L836.4 110.0 L836.8 110.6 L837.3 111.4 L837.8 112.2 L838.3 113.0 L838.8 113.6 L838.9 113.8 L839.3 114.1 L839.8 114.6 L840.3 114.9 L840.7 115.1 L840.8 115.1 L841.3 114.6 L841.8 113.4 L842.3 111.9 L842.8 110.2 L843.3 108.7 L843.3 108.7 L843.8 107.1 L844.3 105.3 L844.8 103.4 L845.3 101.6 L845.8 99.9 L845.8 99.9 L846.3 98.2 L846.8 96.4 L847.3 94.8 L847.8 93.6 L848.3 93.0 L848.3 93.0 L848.8 93.3 L849.3 93.9 L849.8 94.8 L850.3 95.9 L850.3 96.1 L850.8 97.5 L851.3 99.8 L851.8 102.6 L852.3 105.6 L852.6 107.5 L852.8 108.3 L853.3 110.9 L853.8 113.6 L854.3 116.3 L854.8 119.2 L855.2 121.4 L855.3 122.2 L855.8 125.2 L856.3 128.8 L856.4 130.0 L856.8 135.6 L857.2 140.1 L857.3 139.8 L857.8 132.2 L858.3 121.4 L858.4 118.9 L858.8 114.5 L859.3 108.4 L859.8 103.6 L860.2 101.1 L860.3 100.9 L860.8 99.5 L861.3 98.3 L861.8 97.6 L862.2 97.3 L862.3 97.3 L862.8 97.9 L863.3 99.1 L863.8 100.7 L864.3 102.4 L864.3 102.5 L864.8 104.7 L865.3 107.6 L865.8 110.8 L866.3 113.8 L866.8 116.3 L866.8 116.3 L867.3 118.0 L867.8 119.6 L868.3 120.9 L868.8 122.3 L869.3 123.8 L869.3 123.9 L869.8 125.3 L870.3 126.9 L870.8 128.7 L871.1 130.0 L871.3 130.9 L871.8 134.0 L872.3 137.1 L872.4 137.6 L872.8 140.2 L873.3 143.1 L873.6 143.9 L873.8 143.8 L874.3 142.0 L874.8 138.5 L874.9 137.6 L875.3 130.0 L875.7 123.9 L875.8 123.7 L876.3 123.0 L876.8 122.7 L876.9 122.7 L877.3 123.5 L877.8 126.4 L878.2 129.0 L878.3 129.5 L878.8 132.5 L879.3 135.8 L879.8 139.0 L880.0 140.1 L880.3 142.4 L880.8 146.5 L881.3 150.3 L881.8 152.5 L882.0 152.8 L882.3 152.3 L882.8 150.1 L883.3 148.0 L883.5 147.7 L883.8 148.2 L884.3 150.6 L884.8 153.9 L885.0 155.3 L885.3 156.9 L885.8 160.6 L886.3 164.0 L886.8 165.4 L886.8 165.4 L887.3 163.1 L887.8 158.0 L888.1 155.3 L888.3 153.1 L888.8 147.5 L889.3 142.3 L889.6 140.1 L889.8 139.0 L890.3 136.4 L890.8 135.1 L890.8 135.1 L891.3 136.0 L891.8 138.5 L892.3 140.8 L892.6 141.4 L892.8 141.2 L893.3 138.9 L893.8 135.6 L894.1 133.8 L894.3 133.3 L894.8 131.4 L895.3 129.7 L895.8 128.1 L896.3 127.0 L896.8 126.5 L896.9 126.5 L897.3 126.7 L897.8 127.5 L898.3 128.7 L898.8 130.1 L899.3 131.4 L899.8 132.3 L900.2 132.5 L900.3 132.5 L900.8 132.3 L901.3 131.8 L901.8 131.4 L902.2 131.3 L902.3 131.3 L902.8 131.7 L903.3 132.5 L903.3 132.6 L903.8 137.1 L904.3 145.6 L904.8 155.3 L904.8 155.7 L905.3 172.9 L905.8 184.4 L905.8 184.4 L906.3 183.6 L906.8 181.9 L907.3 180.2 L907.8 179.4 L907.8 179.4 L908.3 179.7 L908.8 180.5 L909.3 181.7 L909.8 183.0 L909.8 183.2 L910.3 185.0 L910.8 187.9 L911.3 191.2 L911.6 193.3 L911.8 194.5 L912.3 198.2 L912.8 202.0 L913.3 205.4 L913.4 205.9 L913.8 208.2 L914.3 210.6 L914.8 213.0 L914.9 213.5 L915.3 215.9 L915.8 219.0 L916.2 219.9 L916.3 219.7 L916.8 216.2 L917.3 210.7 L917.8 206.5 L917.9 205.9 L918.3 205.2 L918.8 204.5 L919.3 204.0 L919.8 203.5 L920.0 203.4 L920.3 203.2 L920.8 203.0 L921.3 202.8 L921.8 202.6 L922.3 202.3 L922.5 202.2 L922.8 201.9 L923.3 201.3 L923.8 200.6 L924.3 199.8 L924.8 198.8 L925.0 198.4 L925.3 197.7 L925.8 196.0 L926.3 194.0 L926.8 191.7 L927.3 189.4 L927.6 188.2 L927.8 187.0 L928.3 183.9 L928.8 180.6 L929.3 178.0 L929.8 176.8 L929.8 176.8 L930.3 177.3 L930.8 178.7 L931.3 180.4 L931.4 180.6 L931.8 183.2 L932.3 187.3 L932.8 191.4 L933.1 193.3 L933.3 194.0 L933.8 196.2 L934.3 198.1 L934.8 199.7 L935.3 200.7 L935.7 200.9 L935.8 200.9 L936.3 200.8 L936.8 200.6 L937.3 200.3 L937.8 199.9 L938.2 199.6 L938.3 199.5 L938.8 198.9 L939.3 198.0 L939.8 197.3 L940.2 197.1 L940.3 197.1 L940.8 198.1 L941.3 199.9 L941.8 202.0 L942.2 203.4 L942.3 203.6 L942.8 204.9 L943.3 206.3 L943.8 207.4 L944.3 208.3 L944.5 208.5 L944.8 208.7 L945.3 209.0 L945.8 209.3 L946.3 209.6 L946.8 209.7 L947.3 209.7 L947.3 209.7 L947.8 209.7 L948.3 209.7 L948.8 209.7 L949.3 209.7 L949.8 209.7 L950.3 209.7 L950.3 396.0 L32.1 396.0 Z" fill="rgb(227,0,28)" stroke="rgb(61,0,7)"/>
<path d="M32.1 226.9 L32.6 226.7 L33.1 226.5 L33.6 226.1 L34.1 225.8 L34.6 225.4 L35.1 224.9 L35.1 224.9 L35.6 224.4 L36.1 223.9 L36.6 223.2 L37.1 222.5 L37.6 221.8 L38.1 221.0 L38.6 220.1 L39.1 219.2 L39.6 218.4 L40.1 217.5 L40.1 217.3 L40.6 216.5 L41.1 215.6 L41.6 214.6 L42.1 213.5 L42.6 212.4 L43.1 211.3 L43.6 210.1 L44.1 208.8 L44.6 207.6 L45.1 206.3 L45.2 205.9 L45.6 204.9 L46.1 203.4 L46.6 201.7 L47.1 200.0 L47.6 198.3 L48.1 196.5 L48.6 194.7 L49.1 193.1 L49.6 191.5 L50.1 190.0 L50.3 189.5 L50.6 188.7 L51.1 187.3 L51.6 185.9 L52.1 184.6 L52.6 183.3 L53.1 182.1 L53.6 181.0 L54.1 180.0 L54.6 179.1 L55.1 178.4 L55.3 178.1 L55.6 177.8 L56.1 177.3 L56.6 176.8 L57.1 176.3 L57.6 175.9 L58.1 175.5 L58.6 175.2 L59.1 175.0 L59.6 174.8 L59.9 174.8 L60.1 174.8 L60.6 175.0 L61.1 175.3 L61.6 175.7 L62.1 176.2 L62.6 176.8 L63.1 177.3 L63.6 177.7 L64.1 178.0 L64.2 178.1 L64.6 178.3 L65.1 178.6 L65.6 178.8 L66.1 179.0 L66.6 179.2 L67.1 179.3 L67.5 179.4 L67.6 179.3 L68.1 178.6 L68.6 177.1 L69.1 175.0 L69.6 172.6 L70.1 170.1 L70.5 168.0 L70.6 167.7 L71.1 165.2 L71.6 162.4 L72.1 159.3 L72.6 156.2 L73.1 153.0 L73.6 149.7 L74.1 146.6 L74.3 145.2 L74.6 143.6 L75.1 140.7 L75.6 137.8 L76.1 134.8 L76.6 131.7 L76.8 130.0 L77.1 128.3 L77.6 124.4 L78.1 120.1 L78.6 116.1 L79.1 112.8 L79.4 111.3 L79.6 110.4 L80.1 108.3 L80.6 106.4 L81.1 104.6 L81.6 103.1 L82.1 101.8 L82.6 100.7 L83.1 100.0 L83.2 99.9 L83.6 99.4 L84.1 98.9 L84.6 98.5 L85.1 98.1 L85.6 97.8 L86.1 97.5 L86.6 97.4 L87.0 97.3 L87.1 97.3 L87.6 97.4 L88.1 97.4 L88.6 97.5 L89.1 97.6 L89.6 97.7 L90.1 97.9 L90.6 98.0 L91.1 98.0 L91.6 98.1 L92.0 98.1 L92.1 98.1 L92.6 97.9 L93.1 97.5 L93.6 96.9 L94.1 96.1 L94.6 95.2 L95.1 94.2 L95.6 93.3 L96.1 92.4 L96.6 91.6 L97.1 91.0 L97.1 91.0 L97.6 90.5 L98.1 89.9 L98.6 89.3 L99.1 88.8 L99.6 88.2 L100.1 87.8 L100.6 87.3 L101.1 87.0 L101.6 86.8 L102.1 86.7 L102.2 86.7 L102.6 86.8 L103.1 87.0 L103.6 87.4 L104.1 87.9 L104.6 88.5 L105.1 89.2 L105.4 89.7 L105.6 90.0 L106.1 91.2 L106.6 92.8 L107.1 94.8 L107.6 97.0 L108.1 99.3 L108.5 101.1 L108.6 101.6 L109.1 104.1 L109.6 106.8 L110.1 109.7 L110.6 112.8 L111.1 116.0 L111.5 118.9 L111.6 119.3 L112.1 122.8 L112.6 126.5 L113.0 130.0 L113.1 130.4 L113.6 134.4 L114.1 138.6 L114.6 142.9 L115.1 147.2 L115.6 151.4 L116.1 155.3 L116.1 155.4 L116.6 159.4 L117.1 163.4 L117.6 167.4 L118.1 171.3 L118.6 175.0 L119.1 178.4 L119.6 181.6 L119.9 183.2 L120.1 184.3 L120.6 187.2 L121.1 190.0 L121.6 192.7 L122.1 194.9 L122.6 196.4 L123.1 197.1 L123.2 197.1 L123.6 196.7 L124.1 195.4 L124.6 193.5 L125.1 191.1 L125.6 188.6 L126.1 186.2 L126.2 185.7 L126.6 183.9 L127.1 181.3 L127.6 178.4 L128.1 175.5 L128.6 172.6 L129.1 169.8 L129.6 167.3 L130.0 165.4 L130.1 165.1 L130.6 163.0 L131.1 160.9 L131.6 158.9 L132.1 157.0 L132.6 155.4 L133.1 154.0 L133.6 153.1 L133.8 152.8 L134.1 152.5 L134.6 151.9 L135.1 151.5 L135.6 151.1 L136.1 150.7 L136.6 150.5 L137.1 150.3 L137.6 150.3 L137.6 150.3 L138.1 150.4 L138.6 150.9 L139.1 151.6 L139.6 152.5 L140.1 153.6 L140.6 154.7 L141.1 155.9 L141.4 156.6 L141.6 157.1 L142.1 158.6 L142.6 160.5 L143.1 162.6 L143.6 164.7 L144.1 166.8 L144.6 168.7 L145.1 170.2 L145.2 170.5 L145.6 171.6 L146.1 172.9 L146.6 174.3 L147.1 175.5 L147.6 176.6 L148.1 177.5 L148.6 178.0 L149.0 178.1 L149.1 178.1 L149.6 177.9 L150.1 177.5 L150.6 177.0 L151.1 176.3 L151.6 175.4 L152.1 174.5 L152.6 173.5 L153.1 172.5 L153.6 171.4 L154.1 170.5 L154.1 170.4 L154.6 169.3 L155.1 168.0 L155.6 166.6 L156.1 165.1 L156.6 163.5 L157.1 161.9 L157.6 160.2 L158.1 158.5 L158.6 156.9 L159.1 155.4 L159.1 155.3 L159.6 153.8 L160.1 152.0 L160.6 150.2 L161.1 148.4 L161.6 146.8 L162.1 145.4 L162.6 144.4 L162.9 143.9 L163.1 143.7 L163.6 143.2 L164.1 142.8 L164.6 142.4 L165.1 142.2 L165.4 142.2 L165.6 142.2 L166.1 142.6 L166.6 143.5 L167.1 144.7 L167.6 146.2 L168.1 147.9 L168.6 149.7 L168.7 150.3 L169.1 151.9 L169.6 154.9 L170.1 158.6 L170.6 162.7 L171.1 167.1 L171.6 171.5 L171.8 173.0 L172.1 175.9 L172.6 180.6 L173.1 185.5 L173.6 190.6 L174.1 195.9 L174.6 201.2 L174.8 203.4 L175.1 206.6 L175.6 212.3 L176.1 218.3 L176.6 224.3 L177.1 230.3 L177.6 236.0 L178.1 241.4 L178.3 243.5 L178.6 246.3 L179.1 251.1 L179.6 255.6 L180.1 260.0 L180.6 264.0 L181.1 267.7 L181.2 268.1 L181.6 271.5 L182.1 275.5 L182.6 278.5 L183.1 279.5 L183.1 279.5 L183.6 276.7 L184.1 271.1 L184.6 265.3 L185.0 262.4 L185.1 261.6 L185.6 258.9 L186.1 256.6 L186.6 254.5 L187.1 252.8 L187.6 251.5 L187.8 251.1 L188.1 250.5 L188.6 249.5 L189.1 248.7 L189.6 247.9 L190.1 247.2 L190.6 246.7 L191.1 246.4 L191.6 246.3 L191.6 246.3 L192.1 246.4 L192.6 246.7 L193.1 247.1 L193.6 247.6 L194.1 248.2 L194.6 248.7 L195.0 249.2 L195.1 249.3 L195.6 249.9 L196.1 250.6 L196.6 251.4 L197.1 252.1 L197.6 252.7 L198.1 252.9 L198.2 253.0 L198.6 252.7 L199.1 251.5 L199.6 249.7 L200.1 247.6 L200.6 245.4 L201.1 243.5 L201.1 243.4 L201.6 241.5 L202.1 239.5 L202.6 237.5 L203.1 235.4 L203.6 233.4 L203.9 232.1 L204.1 231.4 L204.6 229.9 L205.1 228.5 L205.6 227.0 L206.1 225.0 L206.6 222.0 L206.8 220.7 L207.1 212.7 L207.2 211.0 L207.6 208.6 L208.1 206.0 L208.6 203.9 L209.1 202.2 L209.6 200.9 L210.1 199.8 L210.6 198.9 L211.1 198.0 L211.6 197.1 L212.1 196.2 L212.3 195.8 L212.6 195.1 L213.1 194.0 L213.6 192.9 L214.1 191.8 L214.6 190.8 L215.1 189.9 L215.6 189.0 L216.1 188.3 L216.6 187.6 L217.1 187.1 L217.3 187.0 L217.6 186.8 L218.1 186.4 L218.6 186.1 L219.1 185.8 L219.6 185.6 L220.1 185.4 L220.6 185.2 L221.1 185.2 L221.1 185.2 L221.6 185.4 L222.1 186.2 L222.6 187.2 L223.1 188.5 L223.6 189.9 L224.1 191.2 L224.4 192.0 L224.6 192.5 L225.1 194.1 L225.6 195.9 L226.1 197.5 L226.6 198.6 L227.0 198.9 L227.1 198.8 L227.6 197.4 L228.1 194.9 L228.6 192.0 L229.1 189.5 L229.5 188.2 L229.6 188.0 L230.1 186.9 L230.6 186.0 L231.1 185.3 L231.6 185.0 L231.8 184.9 L232.1 185.1 L232.6 186.0 L233.1 187.4 L233.6 189.3 L234.1 191.4 L234.6 193.3 L234.6 193.6 L235.1 196.4 L235.6 200.1 L236.1 204.4 L236.6 209.1 L237.1 213.5 L237.1 213.8 L237.6 219.2 L238.1 225.2 L238.6 231.1 L239.1 236.3 L239.1 236.4 L239.6 240.4 L240.0 243.5 L240.1 245.1 L240.6 252.6 L240.9 254.8 L241.1 254.4 L241.6 249.5 L242.1 241.9 L242.3 239.7 L242.6 231.8 L242.7 231.3 L243.1 226.8 L243.6 223.1 L244.1 220.2 L244.6 218.0 L245.1 216.3 L245.2 216.1 L245.6 214.8 L246.1 213.4 L246.6 212.2 L247.1 211.4 L247.6 211.0 L247.7 211.0 L248.1 211.1 L248.6 211.5 L249.1 212.1 L249.6 212.9 L250.1 213.7 L250.6 214.6 L250.8 214.8 L251.1 215.6 L251.6 217.1 L252.1 218.8 L252.6 220.3 L253.1 221.1 L253.3 221.1 L253.6 221.0 L254.1 220.6 L254.6 220.0 L255.1 219.3 L255.6 218.8 L256.1 218.6 L256.1 218.6 L256.6 219.3 L257.1 221.0 L257.6 223.2 L258.1 225.5 L258.6 227.5 L258.6 227.5 L259.1 229.7 L259.6 232.0 L260.1 233.5 L260.4 233.8 L260.6 233.6 L261.1 232.3 L261.6 230.2 L262.1 228.1 L262.6 226.6 L262.9 226.2 L263.1 226.1 L263.6 226.0 L264.1 226.0 L264.6 225.9 L265.1 225.8 L265.4 225.7 L265.6 225.5 L266.1 224.3 L266.6 222.2 L267.1 219.4 L267.5 217.3 L267.6 216.3 L268.1 211.4 L268.6 205.0 L268.7 203.4 L269.1 195.1 L269.6 182.2 L270.0 176.8 L270.1 176.2 L270.6 174.2 L271.1 172.7 L271.6 171.6 L272.1 170.9 L272.5 170.5 L272.6 170.4 L273.1 170.2 L273.6 170.0 L274.1 169.8 L274.6 169.7 L275.1 169.5 L275.6 169.2 L275.6 169.2 L276.1 168.8 L276.6 168.4 L277.1 167.9 L277.6 167.2 L278.1 166.6 L278.6 165.8 L278.9 165.4 L279.1 165.0 L279.6 164.0 L280.1 162.8 L280.6 161.5 L281.1 160.1 L281.6 158.6 L282.1 157.0 L282.6 155.4 L282.7 155.3 L283.1 153.6 L283.6 151.5 L284.1 149.2 L284.6 146.9 L285.1 144.6 L285.6 142.6 L286.1 140.9 L286.5 140.1 L286.6 139.8 L287.1 138.7 L287.6 137.7 L288.1 136.7 L288.6 135.9 L289.1 135.2 L289.6 134.8 L290.1 134.6 L290.3 134.6 L290.6 134.6 L291.1 134.8 L291.6 135.2 L292.1 135.7 L292.6 136.4 L293.1 137.2 L293.6 138.0 L294.1 138.9 L294.1 139.0 L294.6 141.0 L295.1 143.9 L295.6 147.6 L296.1 151.7 L296.6 155.3 L296.6 155.7 L297.1 160.1 L297.6 165.1 L298.1 170.3 L298.6 175.7 L299.1 180.6 L299.1 180.8 L299.6 185.9 L300.1 191.1 L300.6 196.3 L301.1 201.2 L301.6 205.8 L301.6 205.9 L302.1 210.9 L302.6 215.2 L302.9 216.1 L303.1 215.6 L303.6 211.9 L304.1 205.9 L304.6 199.3 L304.9 195.8 L305.1 193.7 L305.6 187.7 L306.1 181.4 L306.6 175.4 L307.1 170.4 L307.5 168.0 L307.6 167.0 L308.1 163.9 L308.6 161.2 L309.1 159.0 L309.6 157.7 L310.0 157.3 L310.1 157.3 L310.6 157.4 L311.1 157.5 L311.6 157.6 L312.1 157.7 L312.5 157.8 L312.6 157.9 L313.1 158.9 L313.6 160.7 L314.1 163.0 L314.6 165.7 L315.1 168.4 L315.6 170.5 L315.6 170.8 L316.1 173.4 L316.6 176.2 L317.1 179.1 L317.6 181.8 L318.1 184.1 L318.6 185.7 L318.6 185.8 L319.1 186.9 L319.6 187.6 L320.1 188.3 L320.6 189.0 L321.1 190.1 L321.4 190.8 L321.6 191.7 L322.1 194.6 L322.6 198.5 L323.1 203.2 L323.2 203.4 L323.6 209.7 L324.1 218.1 L324.6 225.7 L324.7 226.2 L325.1 232.2 L325.6 238.3 L326.1 241.3 L326.2 241.4 L326.6 236.1 L327.1 226.9 L327.2 226.2 L327.6 223.5 L328.1 221.1 L328.6 219.9 L328.7 219.9 L329.1 220.4 L329.6 222.1 L330.1 224.5 L330.6 226.9 L330.8 227.5 L331.1 229.2 L331.6 231.4 L332.1 233.9 L332.6 236.8 L333.1 240.2 L333.3 241.4 L333.6 245.7 L334.1 254.5 L334.6 261.5 L334.9 262.8 L335.1 262.0 L335.6 256.3 L336.1 247.7 L336.6 239.9 L337.1 236.3 L337.1 236.2 L337.6 235.1 L338.1 234.3 L338.6 233.8 L338.9 233.8 L339.1 234.1 L339.6 235.6 L340.1 237.9 L340.6 240.3 L340.9 241.4 L341.1 242.4 L341.6 244.4 L342.1 246.5 L342.6 248.7 L342.9 250.0 L343.1 251.5 L343.5 252.8 L343.6 252.8 L344.1 252.0 L344.6 250.6 L345.1 249.0 L345.6 247.3 L345.9 246.5 L346.1 245.9 L346.6 244.4 L347.1 242.7 L347.6 241.3 L348.1 240.3 L348.5 240.1 L348.6 240.1 L349.1 240.3 L349.6 240.6 L350.1 241.0 L350.5 241.4 L350.6 241.6 L351.1 243.1 L351.6 245.4 L352.1 248.0 L352.5 250.0 L352.6 250.6 L353.1 253.4 L353.6 256.7 L354.1 260.0 L354.6 263.1 L355.1 265.9 L355.4 267.1 L355.6 268.1 L356.1 270.3 L356.6 272.4 L357.1 274.2 L357.6 275.5 L358.1 276.2 L358.3 276.2 L358.6 275.9 L359.1 274.9 L359.6 273.4 L360.1 271.4 L360.6 269.2 L361.1 267.1 L361.1 266.9 L361.6 264.8 L362.1 262.3 L362.6 258.8 L363.2 253.4 L363.4 250.0 L363.7 236.7 L363.7 236.3 L364.2 231.2 L364.7 227.3 L365.2 224.5 L365.7 222.6 L366.2 221.0 L366.7 219.5 L367.2 217.6 L367.5 216.1 L367.7 215.1 L368.2 212.3 L368.7 209.5 L369.2 206.6 L369.7 203.8 L370.2 201.1 L370.7 198.6 L371.2 196.3 L371.3 195.8 L371.7 194.1 L372.2 191.8 L372.7 189.6 L373.2 187.9 L373.7 187.0 L373.8 187.0 L374.2 187.0 L374.7 187.2 L375.2 187.6 L375.7 188.0 L375.8 188.2 L376.2 189.0 L376.7 191.3 L377.2 194.7 L377.7 199.1 L378.2 203.9 L378.4 205.9 L378.7 210.3 L379.2 221.1 L379.7 232.7 L380.2 240.4 L380.4 241.4 L380.7 240.4 L381.2 234.4 L381.7 225.2 L382.2 214.9 L382.7 206.0 L382.7 205.9 L383.2 198.2 L383.7 190.1 L384.2 182.4 L384.7 175.7 L385.2 170.8 L385.2 170.5 L385.7 167.1 L386.2 163.9 L386.7 161.5 L387.2 160.4 L387.2 160.4 L387.7 160.7 L388.2 161.6 L388.7 163.0 L389.0 164.2 L389.2 165.1 L389.7 170.6 L390.2 178.8 L390.7 187.6 L391.0 193.3 L391.2 195.4 L391.7 203.1 L392.2 210.8 L392.7 217.3 L392.8 218.6 L393.2 222.6 L393.7 227.3 L394.1 228.7 L394.2 228.6 L394.7 224.3 L395.2 216.4 L395.7 208.2 L395.8 205.9 L396.2 201.4 L396.7 194.2 L397.2 187.4 L397.7 182.1 L397.8 180.6 L398.2 178.6 L398.7 175.6 L399.2 173.2 L399.7 171.9 L399.9 171.8 L400.2 171.8 L400.7 172.1 L401.2 172.7 L401.7 173.4 L402.2 174.3 L402.2 174.3 L402.7 175.9 L403.2 178.4 L403.7 181.6 L404.2 184.9 L404.7 188.1 L404.7 188.2 L405.2 191.5 L405.7 195.3 L406.2 198.6 L406.7 200.8 L406.7 200.9 L407.2 201.6 L407.7 202.1 L408.2 202.6 L408.7 203.3 L408.7 203.4 L409.2 204.8 L409.7 207.6 L410.2 211.0 L410.5 213.5 L410.7 214.8 L411.2 219.5 L411.7 224.8 L412.2 230.1 L412.3 231.3 L412.7 235.0 L413.2 240.0 L413.7 244.7 L414.2 248.9 L414.3 250.0 L414.7 252.8 L415.2 257.0 L415.7 260.7 L416.2 263.3 L416.6 264.2 L416.7 264.2 L417.2 263.3 L417.7 261.2 L418.2 258.4 L418.7 255.1 L419.2 251.9 L419.7 249.1 L420.2 247.1 L420.6 246.5 L420.7 246.5 L421.2 246.7 L421.7 247.3 L422.2 248.3 L422.7 249.6 L423.2 251.1 L423.7 252.8 L424.2 254.6 L424.7 256.6 L425.2 258.5 L425.2 258.6 L425.7 261.1 L426.2 264.3 L426.7 268.1 L427.2 272.1 L427.7 276.0 L428.0 278.5 L428.2 279.6 L428.7 283.4 L429.2 287.2 L429.7 291.0 L430.2 294.5 L430.7 297.5 L430.9 298.4 L431.2 299.9 L431.7 302.3 L432.2 304.6 L432.7 306.5 L433.2 307.8 L433.7 308.4 L433.7 308.4 L434.2 306.9 L434.7 302.7 L435.2 296.7 L435.7 289.8 L436.2 283.0 L436.5 278.5 L436.7 277.2 L437.2 273.3 L437.7 269.9 L438.2 264.9 L438.7 256.5 L438.8 252.8 L439.1 226.2 L439.2 225.8 L439.7 222.8 L440.2 221.3 L440.7 220.7 L440.9 220.6 L441.2 221.0 L441.7 223.4 L442.2 227.1 L442.7 231.3 L442.7 231.4 L443.2 238.7 L443.7 246.4 L443.9 247.7 L444.2 246.0 L444.7 236.3 L444.9 231.3 L445.2 227.2 L445.7 218.7 L445.9 216.1 L446.2 215.1 L446.7 213.2 L447.2 211.9 L447.7 211.1 L448.0 211.0 L448.2 211.1 L448.7 211.8 L449.2 213.2 L449.7 215.0 L450.2 217.0 L450.3 217.3 L450.7 219.5 L451.2 223.0 L451.7 226.8 L452.2 230.6 L452.3 231.3 L452.7 233.4 L453.2 235.5 L453.7 238.1 L454.2 242.4 L454.3 243.9 L454.7 263.5 L455.1 281.3 L455.2 281.2 L455.7 278.0 L456.2 271.6 L456.7 263.0 L457.2 253.4 L457.7 244.1 L458.2 236.1 L458.6 231.3 L458.7 230.7 L459.2 226.3 L459.7 222.4 L460.2 220.1 L460.4 219.9 L460.7 219.9 L461.2 220.4 L461.7 221.1 L462.2 222.0 L462.4 222.4 L462.7 223.3 L463.2 226.0 L463.7 228.4 L463.9 228.7 L464.2 228.4 L464.7 226.6 L465.2 224.7 L465.4 224.2 L465.7 224.0 L466.2 223.8 L466.7 223.7 L467.0 223.7 L467.2 223.9 L467.7 225.5 L468.2 228.2 L468.7 231.0 L468.7 231.3 L469.2 233.5 L469.7 236.0 L470.2 239.1 L470.7 243.2 L470.8 243.9 L471.2 251.4 L471.7 265.5 L472.2 279.1 L472.7 285.6 L472.7 285.6 L473.2 282.5 L473.7 274.1 L474.2 263.2 L474.7 252.3 L475.2 244.1 L475.6 241.4 L475.7 241.2 L476.2 240.4 L476.7 239.8 L477.2 239.5 L477.6 239.4 L477.7 239.4 L478.2 239.7 L478.7 240.5 L479.2 241.6 L479.6 242.7 L479.7 242.8 L480.2 244.5 L480.7 246.9 L481.1 250.0 L481.2 250.4 L481.7 259.3 L482.1 264.2 L482.2 264.1 L482.7 259.3 L483.2 250.8 L483.7 243.3 L483.9 241.4 L484.2 240.3 L484.7 238.4 L485.2 236.9 L485.7 235.8 L486.2 235.2 L486.5 235.1 L486.7 235.4 L487.2 238.0 L487.7 241.2 L487.7 241.4 L488.2 243.8 L488.7 246.5 L489.2 249.6 L489.2 250.0 L489.7 254.1 L490.2 260.4 L490.7 267.1 L491.2 273.2 L491.7 277.4 L492.1 278.5 L492.2 278.3 L492.7 274.9 L493.2 268.3 L493.7 260.0 L494.2 251.7 L494.7 245.0 L495.2 241.6 L495.3 241.4 L495.7 241.4 L496.2 241.6 L496.7 242.0 L497.2 242.5 L497.3 242.7 L497.7 243.5 L498.2 245.8 L498.7 248.9 L498.9 250.0 L499.2 253.2 L499.7 259.4 L500.0 261.4 L500.2 259.2 L500.7 237.1 L500.9 231.3 L501.2 227.5 L501.7 222.7 L502.2 219.2 L502.7 216.9 L502.9 216.1 L503.2 215.2 L503.7 213.7 L504.2 212.5 L504.7 211.6 L505.2 211.1 L505.4 211.0 L505.7 211.1 L506.2 211.7 L506.7 212.8 L507.0 213.5 L507.2 214.4 L507.7 217.7 L508.2 223.1 L508.7 230.5 L508.7 231.3 L509.2 253.0 L509.7 289.1 L510.1 305.5 L510.2 305.5 L510.7 304.9 L511.2 303.5 L511.7 301.4 L512.2 298.9 L512.3 298.4 L512.7 294.3 L513.2 285.8 L513.7 276.1 L514.2 268.0 L514.3 267.1 L514.7 263.8 L515.2 261.6 L515.7 258.6 L516.2 251.5 L516.3 250.0 L516.3 238.9 L516.4 234.6 L516.7 234.7 L517.2 235.7 L517.7 237.3 L518.1 238.9 L518.2 239.3 L518.7 242.8 L519.2 247.9 L519.4 250.0 L519.7 255.0 L520.2 265.6 L520.7 276.2 L520.8 278.5 L521.2 284.6 L521.7 292.5 L522.2 299.6 L522.7 305.7 L522.8 306.9 L523.2 311.1 L523.7 314.1 L523.7 314.0 L524.2 311.3 L524.7 305.2 L525.2 298.1 L525.7 292.7 L525.7 292.4 L526.2 287.4 L526.7 282.5 L527.2 278.7 L527.7 277.0 L527.7 277.0 L528.2 276.6 L528.7 276.3 L529.2 276.2 L529.4 276.2 L529.7 276.7 L530.2 278.9 L530.7 282.3 L531.2 285.9 L531.4 287.0 L531.7 289.8 L532.2 295.0 L532.7 300.1 L533.2 303.6 L533.3 304.1 L533.7 304.8 L534.2 305.7 L534.7 306.4 L535.2 306.8 L535.6 306.9 L535.7 306.9 L536.2 306.7 L536.7 306.3 L537.2 305.8 L537.7 305.5 L537.9 305.5 L538.2 306.2 L538.7 309.9 L539.2 315.0 L539.7 319.8 L539.9 321.2 L540.2 323.2 L540.7 325.4 L540.7 325.4 L541.2 322.6 L541.7 317.7 L541.9 316.9 L542.2 316.6 L542.7 316.3 L543.2 316.1 L543.7 315.9 L544.2 315.5 L544.2 315.4 L544.7 313.9 L545.2 311.1 L545.7 307.4 L546.2 303.3 L546.4 301.2 L546.7 299.0 L547.2 293.6 L547.7 287.4 L548.2 281.2 L548.4 278.5 L548.7 275.4 L549.2 269.6 L549.7 263.7 L550.2 258.1 L550.4 255.7 L550.7 252.5 L551.2 246.3 L551.7 242.7 L551.8 242.7 L552.2 244.1 L552.7 248.6 L553.2 254.1 L553.7 259.1 L554.1 261.4 L554.2 261.6 L554.7 262.4 L555.2 262.9 L555.7 263.5 L556.1 264.2 L556.2 264.4 L556.7 266.3 L557.2 269.0 L557.7 272.0 L558.2 274.7 L558.4 275.6 L558.7 276.8 L559.2 278.4 L559.7 279.9 L560.2 281.8 L560.7 284.2 L560.7 284.3 L561.2 289.5 L561.7 296.5 L562.1 301.2 L562.2 302.3 L562.7 307.6 L563.2 311.7 L563.5 312.6 L563.7 311.8 L564.2 303.9 L564.7 294.8 L564.9 292.7 L565.2 291.9 L565.7 290.6 L566.2 289.9 L566.4 289.9 L566.7 290.9 L567.2 295.2 L567.7 300.4 L567.8 301.2 L568.2 305.2 L568.7 310.5 L569.2 315.9 L569.7 320.5 L569.8 321.2 L570.2 324.3 L570.7 327.9 L571.2 331.1 L571.7 333.8 L572.1 335.4 L572.2 336.0 L572.7 337.9 L573.2 338.8 L573.2 338.8 L573.7 336.2 L574.2 330.2 L574.7 323.5 L574.9 321.2 L575.2 318.2 L575.7 313.3 L576.2 308.4 L576.7 303.3 L576.9 301.2 L577.2 297.7 L577.7 291.0 L578.2 284.4 L578.7 279.6 L578.9 278.5 L579.2 277.1 L579.7 275.1 L580.2 273.6 L580.7 272.5 L581.2 272.2 L581.2 272.2 L581.7 272.2 L582.2 272.3 L582.7 272.5 L583.2 272.7 L583.5 272.8 L583.7 273.0 L584.2 274.1 L584.7 275.8 L585.2 277.6 L585.4 278.5 L585.7 279.6 L586.2 282.3 L586.7 285.0 L587.2 286.8 L587.4 287.0 L587.7 287.0 L588.2 286.6 L588.7 286.2 L589.2 285.8 L589.7 285.6 L589.7 285.6 L590.2 286.2 L590.7 287.7 L591.2 289.8 L591.7 291.8 L592.0 292.7 L592.2 293.3 L592.7 294.5 L593.2 295.6 L593.7 297.2 L594.0 298.4 L594.2 300.0 L594.7 306.0 L595.2 313.1 L595.4 315.5 L595.7 319.2 L596.2 325.6 L596.7 329.5 L596.8 329.7 L597.2 328.3 L597.7 323.3 L598.2 317.3 L598.7 313.1 L598.8 312.6 L599.2 311.6 L599.7 310.6 L600.2 309.9 L600.5 309.8 L600.7 310.0 L601.2 312.5 L601.7 316.1 L602.2 319.1 L602.5 319.8 L602.7 319.4 L603.2 315.7 L603.7 311.2 L604.0 309.8 L604.2 308.8 L604.7 307.0 L605.2 305.5 L605.7 304.5 L606.2 304.1 L606.2 304.1 L606.7 304.5 L607.2 305.5 L607.7 306.5 L608.2 306.9 L608.2 306.9 L608.7 305.8 L609.2 303.6 L609.6 302.7 L609.7 302.7 L610.2 303.0 L610.7 303.8 L611.2 304.9 L611.7 306.3 L611.9 306.9 L612.2 308.9 L612.7 313.8 L613.1 315.5 L613.2 315.1 L613.7 310.3 L614.2 303.7 L614.7 299.9 L614.8 299.8 L615.2 299.9 L615.7 300.1 L616.2 300.6 L616.7 301.2 L616.8 301.2 L617.2 307.0 L617.7 318.4 L618.2 324.0 L618.2 324.0 L618.7 321.1 L619.2 314.9 L619.7 307.8 L620.2 302.5 L620.5 301.2 L620.7 300.6 L621.2 299.6 L621.7 298.9 L622.2 298.4 L622.5 298.4 L622.7 298.6 L623.2 299.9 L623.7 301.9 L623.9 302.7 L624.2 304.9 L624.7 309.7 L625.2 314.7 L625.3 315.5 L625.7 319.6 L626.2 324.5 L626.7 326.9 L626.7 326.9 L627.2 324.5 L627.7 318.6 L628.2 311.2 L628.7 304.2 L629.0 301.2 L629.2 299.3 L629.7 294.8 L630.2 290.7 L630.7 287.8 L631.0 287.0 L631.2 286.6 L631.7 286.0 L632.2 285.6 L632.7 285.3 L633.2 284.9 L633.7 284.4 L633.8 284.2 L634.2 283.1 L634.7 280.8 L635.2 278.4 L635.7 277.1 L635.8 277.0 L636.2 277.2 L636.7 277.5 L637.2 278.0 L637.7 278.4 L638.1 278.5 L638.2 278.4 L638.7 277.9 L639.2 276.8 L639.7 275.8 L640.2 275.1 L640.4 275.1 L640.7 275.3 L641.2 276.3 L641.7 277.6 L642.2 278.4 L642.4 278.5 L642.7 277.9 L643.2 275.4 L643.7 272.4 L644.2 270.2 L644.4 269.9 L644.7 269.6 L645.2 269.1 L645.7 268.8 L646.2 268.6 L646.7 268.5 L646.7 268.5 L647.2 271.0 L647.7 275.6 L648.2 280.6 L648.7 283.8 L648.9 284.2 L649.2 283.4 L649.7 279.7 L650.2 274.7 L650.7 270.7 L650.9 269.9 L651.2 269.3 L651.7 268.6 L652.2 268.0 L652.7 267.4 L652.9 267.1 L653.2 266.5 L653.7 265.4 L654.2 264.2 L654.7 262.8 L655.2 261.4 L655.2 261.3 L655.7 259.5 L656.2 257.4 L656.7 255.0 L657.2 252.6 L657.5 251.4 L657.7 249.9 L658.2 247.0 L658.4 246.8 L658.7 247.0 L659.2 247.7 L659.6 248.4 L659.7 248.7 L660.2 250.5 L660.5 250.9 L660.7 250.6 L661.2 248.9 L661.5 248.4 L661.7 248.4 L662.2 248.7 L662.5 249.1 L662.7 249.6 L663.2 253.2 L663.7 257.5 L663.8 257.9 L664.2 260.9 L664.7 264.1 L665.1 264.9 L665.2 264.3 L665.7 259.1 L665.9 256.6 L666.2 253.9 L666.7 248.8 L667.2 245.3 L667.2 245.2 L667.7 243.1 L668.2 241.7 L668.5 241.5 L668.7 241.7 L669.2 243.0 L669.7 245.2 L669.7 245.3 L670.2 249.2 L670.7 255.0 L671.0 257.9 L671.2 259.9 L671.7 264.5 L672.2 267.8 L672.3 268.0 L672.7 269.4 L673.2 270.4 L673.5 271.2 L673.7 271.8 L674.2 274.0 L674.7 276.1 L675.2 276.9 L675.2 276.9 L675.7 276.0 L676.2 274.4 L676.7 273.1 L676.7 273.1 L677.2 272.3 L677.7 271.8 L678.2 271.2 L678.6 270.6 L678.7 270.3 L679.2 269.3 L679.7 268.0 L680.2 266.5 L680.5 265.5 L680.7 264.4 L681.2 260.9 L681.7 258.0 L681.8 257.9 L682.2 256.6 L682.7 255.6 L683.0 255.4 L683.2 255.5 L683.7 257.2 L684.2 260.0 L684.3 260.4 L684.7 266.0 L685.2 274.6 L685.3 275.6 L685.7 281.1 L686.2 284.5 L686.2 284.5 L686.7 283.6 L687.2 281.9 L687.7 280.3 L687.8 280.1 L688.2 279.2 L688.7 278.2 L689.2 277.6 L689.4 277.5 L689.7 277.8 L690.2 278.6 L690.6 279.4 L690.7 279.7 L691.2 281.4 L691.7 283.7 L691.9 284.5 L692.2 286.9 L692.7 292.0 L693.2 297.9 L693.7 303.2 L694.2 306.5 L694.5 306.9 L694.7 305.8 L695.2 299.0 L695.7 289.7 L696.2 282.6 L696.5 281.3 L696.7 281.0 L697.2 280.5 L697.7 280.1 L698.2 279.9 L698.5 279.9 L698.7 280.7 L699.2 285.3 L699.7 290.6 L700.2 292.7 L700.2 292.7 L700.7 291.7 L701.2 289.8 L701.7 287.9 L702.2 287.0 L702.2 287.0 L702.7 286.6 L703.2 286.4 L703.7 286.3 L704.2 286.1 L704.7 285.8 L705.0 285.6 L705.2 285.1 L705.7 282.7 L706.2 279.4 L706.7 276.5 L707.0 275.6 L707.2 275.2 L707.7 274.3 L708.2 273.5 L708.7 273.0 L709.2 272.8 L709.3 272.8 L709.7 273.0 L710.2 273.8 L710.7 274.9 L711.2 276.2 L711.6 277.0 L711.7 277.6 L712.2 280.1 L712.7 281.3 L712.7 281.3 L713.2 280.3 L713.7 278.5 L714.2 277.2 L714.4 277.0 L714.7 277.1 L715.2 277.4 L715.7 277.8 L716.2 278.3 L716.4 278.5 L716.7 279.0 L717.2 280.2 L717.7 281.8 L718.2 283.6 L718.4 284.2 L718.7 285.5 L719.2 287.8 L719.7 290.5 L720.1 292.7 L720.2 293.8 L720.7 299.4 L721.2 302.7 L721.2 302.7 L721.7 300.9 L722.2 297.3 L722.7 294.5 L723.0 294.1 L723.2 294.3 L723.7 295.1 L724.2 296.2 L724.7 296.9 L724.9 297.0 L725.2 296.5 L725.7 294.5 L726.2 291.8 L726.7 290.0 L726.9 289.9 L727.2 290.5 L727.7 293.3 L728.2 296.7 L728.6 298.4 L728.7 298.6 L729.2 299.7 L729.7 300.5 L730.2 301.1 L730.6 301.2 L730.7 301.2 L731.2 300.9 L731.7 300.4 L732.2 300.0 L732.6 299.8 L732.7 299.9 L733.2 301.4 L733.7 304.3 L734.2 307.3 L734.7 309.4 L734.9 309.8 L735.2 310.2 L735.7 310.8 L736.2 311.1 L736.6 311.2 L736.7 311.2 L737.2 310.9 L737.7 310.3 L738.2 309.3 L738.7 308.1 L739.2 306.9 L739.2 306.7 L739.7 303.5 L740.2 298.5 L740.7 293.3 L741.2 289.9 L741.2 289.4 L741.7 286.0 L742.2 282.7 L742.7 280.1 L743.2 278.6 L743.5 278.5 L743.7 278.5 L744.2 278.7 L744.7 279.0 L745.3 279.4 L745.7 279.9 L745.8 279.9 L746.3 281.2 L746.8 283.2 L747.3 285.4 L747.7 287.0 L747.8 287.1 L748.3 288.4 L748.8 289.6 L749.3 290.6 L749.8 291.2 L750.0 291.3 L750.3 291.3 L750.8 291.3 L750.9 291.3 L751.3 291.3 L751.8 291.6 L752.3 292.0 L752.8 292.5 L752.9 292.7 L753.3 293.9 L753.8 297.2 L754.3 301.3 L754.8 304.9 L754.9 305.5 L755.3 307.2 L755.8 309.3 L756.3 310.9 L756.6 311.2 L756.8 311.1 L757.3 309.7 L757.8 307.4 L758.3 305.1 L758.6 304.1 L758.8 303.8 L759.3 302.9 L759.8 302.2 L760.3 301.6 L760.8 301.0 L761.3 300.2 L761.4 299.8 L761.8 299.0 L762.3 297.5 L762.8 295.6 L763.3 293.6 L763.8 291.7 L764.3 289.9 L764.3 289.9 L764.8 288.2 L765.3 286.3 L765.8 284.8 L766.3 284.2 L766.3 284.2 L766.8 284.2 L767.3 284.2 L767.8 284.2 L768.3 284.2 L768.6 284.2 L768.8 284.2 L769.3 284.8 L769.8 285.7 L770.3 286.6 L770.8 287.0 L770.8 287.0 L771.3 286.7 L771.8 285.8 L772.3 284.4 L772.8 282.9 L772.8 282.7 L773.3 281.1 L773.8 278.5 L774.3 276.0 L774.8 274.3 L774.8 274.2 L775.3 273.4 L775.8 272.7 L776.3 272.3 L776.5 272.2 L776.8 272.3 L777.3 273.1 L777.8 274.3 L778.3 275.3 L778.5 275.6 L778.8 275.8 L779.3 276.1 L779.8 276.2 L780.3 276.4 L780.8 276.6 L781.3 277.0 L781.4 277.0 L781.8 277.8 L782.3 279.5 L782.8 281.3 L783.3 282.6 L783.4 282.7 L783.8 283.1 L784.3 283.6 L784.8 283.9 L785.3 284.1 L785.6 284.2 L785.8 284.2 L786.3 284.0 L786.8 283.7 L787.3 283.3 L787.8 283.0 L788.3 282.8 L788.5 282.7 L788.8 282.8 L789.3 283.2 L789.8 284.0 L790.3 284.9 L790.8 285.9 L791.3 286.9 L791.3 287.0 L791.8 288.1 L792.3 289.7 L792.8 291.3 L793.3 292.4 L793.6 292.7 L793.8 292.7 L794.3 292.7 L794.8 292.7 L795.3 292.7 L795.6 292.7 L795.8 292.6 L796.3 291.8 L796.8 290.5 L797.3 289.1 L797.6 288.4 L797.8 288.2 L798.3 287.4 L798.8 286.7 L799.3 286.4 L799.3 286.4 L799.8 287.3 L800.3 289.6 L800.8 292.5 L801.3 295.4 L801.3 295.6 L801.8 298.1 L802.3 301.1 L802.8 304.1 L803.3 306.8 L803.3 306.9 L803.8 309.3 L804.3 311.7 L804.8 313.9 L805.3 315.9 L805.6 316.9 L805.8 317.5 L806.3 319.0 L806.8 320.3 L807.3 321.5 L807.8 322.5 L807.8 322.6 L808.3 323.4 L808.8 324.2 L809.3 324.6 L809.3 324.6 L809.8 324.2 L810.3 323.1 L810.8 321.6 L811.3 319.9 L811.8 318.5 L811.8 318.3 L812.3 317.3 L812.8 316.1 L813.3 314.9 L813.8 313.6 L814.1 312.6 L814.3 312.1 L814.8 310.4 L815.3 308.5 L815.8 306.6 L816.3 304.5 L816.4 304.1 L816.8 302.3 L817.3 299.8 L817.8 297.4 L818.3 295.8 L818.4 295.6 L818.8 295.0 L819.3 294.5 L819.8 294.1 L820.3 293.7 L820.8 293.3 L821.2 292.7 L821.3 292.6 L821.8 291.7 L822.3 290.5 L822.8 289.2 L823.3 287.8 L823.8 286.4 L824.1 285.6 L824.3 285.1 L824.8 283.8 L825.3 282.5 L825.8 281.2 L826.3 280.0 L826.8 278.8 L826.9 278.5 L827.3 277.7 L827.8 276.6 L828.3 275.5 L828.8 274.5 L829.3 273.6 L829.8 272.8 L829.8 272.8 L830.3 272.0 L830.8 271.2 L831.3 270.4 L831.8 269.8 L832.3 269.4 L832.6 269.4 L832.8 269.4 L833.3 269.4 L833.8 269.6 L834.3 269.8 L834.6 269.9 L834.8 270.0 L835.3 270.8 L835.8 271.8 L836.3 273.0 L836.8 274.0 L836.9 274.2 L837.3 274.9 L837.8 275.9 L838.3 276.9 L838.8 277.7 L839.3 278.3 L839.7 278.5 L839.8 278.5 L840.3 278.2 L840.8 277.7 L841.3 276.9 L841.8 275.9 L842.3 274.8 L842.6 274.2 L842.8 273.7 L843.3 272.2 L843.8 270.3 L844.3 268.2 L844.8 266.3 L845.3 264.6 L845.4 264.2 L845.8 263.3 L846.3 261.9 L846.8 260.6 L847.3 259.6 L847.8 258.8 L848.3 258.5 L848.3 258.5 L848.8 258.7 L849.3 259.2 L849.8 260.0 L850.3 260.9 L850.5 261.4 L850.8 262.0 L851.3 264.3 L851.8 267.3 L852.3 270.1 L852.5 271.4 L852.8 272.3 L853.3 274.1 L853.8 275.7 L854.3 277.5 L854.5 278.5 L854.8 279.7 L855.3 282.9 L855.8 285.9 L856.2 287.0 L856.3 287.0 L856.8 285.6 L857.3 282.4 L857.8 278.7 L858.2 275.6 L858.3 275.3 L858.8 272.0 L859.3 268.5 L859.8 265.6 L860.2 264.2 L860.3 264.2 L860.8 263.5 L861.3 263.1 L861.8 262.8 L861.9 262.8 L862.3 263.1 L862.8 264.3 L863.3 266.0 L863.8 268.0 L863.9 268.5 L864.3 270.0 L864.8 272.6 L865.3 275.3 L865.8 277.9 L865.9 278.5 L866.3 280.0 L866.8 282.0 L867.3 284.0 L867.8 285.7 L868.2 287.0 L868.3 287.3 L868.8 288.6 L869.3 289.8 L869.8 291.0 L870.3 292.2 L870.5 292.7 L870.8 293.7 L871.3 295.5 L871.8 297.3 L872.3 298.3 L872.5 298.4 L872.8 298.1 L873.3 297.0 L873.8 295.6 L874.3 294.4 L874.5 294.1 L874.8 293.8 L875.3 293.4 L875.8 293.0 L876.3 292.8 L876.7 292.7 L876.8 292.7 L877.3 293.5 L877.8 295.2 L878.3 297.6 L878.8 300.1 L879.0 301.2 L879.3 302.8 L879.8 306.5 L880.3 310.3 L880.8 313.3 L881.0 314.1 L881.3 314.7 L881.8 315.7 L882.3 316.5 L882.8 316.9 L883.0 316.9 L883.3 316.8 L883.8 316.5 L884.3 316.1 L884.8 315.7 L885.3 315.5 L885.3 315.5 L885.8 315.9 L886.3 316.6 L886.7 316.9 L886.8 316.8 L887.3 314.2 L887.8 309.7 L888.1 306.9 L888.3 305.7 L888.8 301.1 L889.3 297.6 L889.5 297.0 L889.8 297.0 L890.3 297.4 L890.8 297.9 L891.3 298.3 L891.5 298.4 L891.8 298.2 L892.3 296.8 L892.8 294.7 L893.2 292.7 L893.3 292.5 L893.8 289.9 L894.3 286.8 L894.8 284.1 L895.2 282.7 L895.3 282.7 L895.8 282.2 L896.3 281.9 L896.8 281.6 L897.2 281.3 L897.3 281.3 L897.8 281.0 L898.3 280.7 L898.8 280.4 L899.3 280.1 L899.5 279.9 L899.8 279.6 L900.3 278.8 L900.8 278.0 L901.3 277.3 L901.8 277.0 L901.8 277.0 L902.3 278.9 L902.8 283.2 L903.2 287.0 L903.3 287.7 L903.8 292.6 L904.3 298.1 L904.8 303.3 L905.2 306.9 L905.3 307.6 L905.8 311.6 L906.3 314.7 L906.6 315.5 L906.8 315.4 L907.3 314.2 L907.8 312.3 L908.3 310.7 L908.6 310.4 L908.8 310.4 L909.3 311.1 L909.8 312.4 L910.3 313.9 L910.3 314.1 L910.8 315.9 L911.3 318.6 L911.8 321.4 L912.3 323.9 L912.3 324.0 L912.8 326.0 L913.3 328.1 L913.8 329.9 L914.3 331.1 L914.3 331.1 L914.8 331.9 L915.3 332.7 L915.8 333.1 L916.0 333.1 L916.3 332.7 L916.8 330.3 L917.3 326.7 L917.8 322.7 L918.0 321.2 L918.3 319.2 L918.8 315.2 L919.3 311.1 L919.8 307.9 L920.0 306.9 L920.3 306.0 L920.8 304.6 L921.3 303.6 L921.8 302.5 L922.3 301.2 L922.3 301.2 L922.8 299.7 L923.3 298.0 L923.8 296.1 L924.3 294.0 L924.6 292.7 L924.8 291.5 L925.3 288.3 L925.8 284.6 L926.3 280.6 L926.6 278.5 L926.8 276.3 L927.3 271.0 L927.8 265.4 L928.3 260.5 L928.6 258.5 L928.8 256.9 L929.3 253.5 L929.8 250.9 L930.3 250.0 L930.3 250.0 L930.8 250.3 L931.3 250.9 L931.8 251.8 L932.3 252.8 L932.3 253.0 L932.8 256.2 L933.3 260.1 L933.7 261.4 L933.8 261.4 L934.3 260.7 L934.8 259.3 L935.3 257.7 L935.8 256.1 L936.0 255.7 L936.3 254.6 L936.8 252.9 L937.3 251.3 L937.8 250.2 L937.9 250.0 L938.3 249.7 L938.8 249.4 L939.3 249.1 L939.8 248.9 L940.3 248.7 L940.8 248.6 L941.3 248.4 L941.8 248.3 L942.3 248.1 L942.8 247.9 L943.3 247.7 L943.3 247.7 L943.8 247.4 L944.3 247.0 L944.8 246.6 L945.3 246.2 L945.8 245.8 L946.3 245.5 L946.8 245.3 L947.3 245.2 L947.3 245.2 L947.8 245.2 L948.3 245.2 L948.8 245.2 L949.3 245.2 L949.8 245.2 L950.3 245.2 L950.3 396.0 L32.1 396.0 Z" fill="rgb(199,0,56)" stroke="rgb(53,0,15)"/>
<path d="M33.0 354.0 L33.5 353.8 L34.0 353.4 L34.5 352.8 L34.8 352.5 L35.0 352.2 L35.5 351.3 L36.0 350.2 L36.5 348.7 L37.0 347.0 L37.5 345.1 L38.0 343.1 L38.5 340.9 L39.0 338.5 L39.5 336.1 L40.0 333.7 L40.5 331.2 L41.0 328.8 L41.5 326.4 L42.0 324.1 L42.5 321.8 L43.0 319.8 L43.5 317.8 L44.0 316.1 L44.2 315.5 L44.5 314.6 L45.0 313.0 L45.5 311.3 L46.0 309.6 L46.5 307.9 L47.0 306.3 L47.5 304.7 L48.0 303.2 L48.5 301.8 L49.0 300.6 L49.5 299.5 L50.0 298.6 L50.5 298.0 L51.0 297.6 L51.4 297.5 L51.5 297.5 L52.0 297.7 L52.5 298.2 L53.0 298.9 L53.5 299.8 L54.0 300.8 L54.5 301.8 L55.0 302.8 L55.5 303.8 L55.6 304.0 L56.0 305.0 L56.5 306.3 L57.0 307.0 L57.5 306.3 L58.0 304.4 L58.5 301.6 L59.0 298.2 L59.5 294.6 L60.0 291.0 L60.5 287.7 L60.8 286.0 L61.0 285.0 L61.5 282.5 L62.0 280.1 L62.5 277.8 L63.0 275.5 L63.5 273.1 L64.0 270.7 L64.4 268.7 L64.5 268.2 L65.0 265.4 L65.5 262.6 L66.0 259.8 L66.5 257.4 L66.6 257.0 L67.0 255.6 L67.5 254.3 L68.0 253.0 L68.5 251.1 L68.7 250.0 L69.0 246.7 L69.5 237.1 L70.0 227.4 L70.1 226.0 L70.5 221.1 L71.0 215.5 L71.5 210.5 L72.0 206.0 L72.5 202.0 L72.7 200.6 L73.0 198.5 L73.5 195.2 L74.0 192.0 L74.5 189.1 L75.0 186.4 L75.5 184.1 L76.0 182.1 L76.5 180.4 L77.0 179.0 L77.5 177.7 L78.0 176.4 L78.5 175.3 L79.0 174.4 L79.5 173.6 L80.0 173.0 L80.3 172.8 L80.5 172.7 L81.0 172.3 L81.5 172.0 L82.0 171.8 L82.5 171.6 L83.0 171.5 L83.3 171.5 L83.5 171.5 L84.0 171.9 L84.5 172.7 L85.0 173.8 L85.5 175.0 L86.0 176.3 L86.5 177.6 L86.6 177.8 L87.0 178.9 L87.5 180.4 L88.0 182.1 L88.5 184.0 L89.0 185.8 L89.5 187.6 L90.0 189.3 L90.4 190.5 L90.5 190.8 L91.0 192.4 L91.5 194.0 L92.0 195.5 L92.5 196.6 L93.0 197.0 L93.5 196.6 L94.0 195.6 L94.5 194.1 L95.0 192.2 L95.5 190.2 L96.0 188.1 L96.5 186.1 L96.7 185.4 L97.0 184.3 L97.5 182.3 L98.0 180.2 L98.5 178.0 L99.0 175.9 L99.5 173.8 L100.0 171.9 L100.5 170.3 L101.0 168.8 L101.5 167.4 L102.0 166.0 L102.5 164.7 L103.0 163.5 L103.5 162.6 L104.0 161.8 L104.3 161.4 L104.5 161.2 L105.0 160.7 L105.5 160.2 L106.0 159.9 L106.5 159.6 L106.8 159.6 L107.0 159.6 L107.5 160.1 L108.0 160.8 L108.5 161.9 L109.0 163.0 L109.4 163.9 L109.5 164.1 L110.0 165.5 L110.5 167.1 L111.0 168.9 L111.5 170.9 L112.0 172.9 L112.5 175.0 L113.0 177.0 L113.2 177.8 L113.5 179.0 L114.0 180.9 L114.5 182.9 L115.0 184.9 L115.5 186.9 L116.0 189.0 L116.5 191.0 L117.0 193.0 L117.5 194.9 L118.0 196.8 L118.5 198.7 L119.0 200.6 L119.5 202.5 L120.0 204.6 L120.5 206.8 L120.8 208.2 L121.0 209.2 L121.5 212.2 L122.0 215.4 L122.5 218.7 L123.0 221.8 L123.3 223.4 L123.5 224.4 L124.0 226.7 L124.5 228.8 L125.0 230.9 L125.5 232.8 L126.0 234.8 L126.3 236.0 L126.5 236.8 L127.0 238.8 L127.5 240.9 L128.0 242.9 L128.5 244.8 L129.0 246.7 L129.5 248.4 L129.6 248.7 L130.0 250.0 L130.5 251.5 L131.0 252.9 L131.5 254.3 L132.0 255.6 L132.5 256.9 L133.0 258.1 L133.4 259.0 L133.5 259.2 L134.0 260.3 L134.5 261.2 L135.0 262.1 L135.5 263.0 L136.0 263.9 L136.5 264.8 L136.6 265.0 L137.0 265.7 L137.5 266.6 L138.0 267.4 L138.5 268.3 L139.0 269.1 L139.5 270.0 L140.0 270.9 L140.5 272.0 L141.0 273.1 L141.3 273.8 L141.5 274.3 L142.0 275.7 L142.5 277.3 L143.0 279.0 L143.5 280.9 L144.0 283.1 L144.2 284.0 L144.5 285.6 L145.0 289.0 L145.5 292.7 L146.0 296.0 L146.5 298.8 L147.0 301.4 L147.5 303.8 L148.0 306.0 L148.5 308.2 L149.0 310.5 L149.5 312.9 L150.0 315.1 L150.5 317.0 L151.0 318.6 L151.5 319.6 L152.0 320.0 L152.5 319.4 L153.0 317.8 L153.5 315.3 L154.0 312.4 L154.5 309.2 L155.0 306.0 L155.5 302.3 L156.0 297.6 L156.5 292.5 L157.0 287.6 L157.4 284.0 L157.5 283.2 L158.0 279.1 L158.5 275.0 L159.0 271.2 L159.5 267.5 L160.0 264.2 L160.3 262.4 L160.5 261.2 L161.0 258.4 L161.5 255.7 L162.0 253.2 L162.5 251.1 L163.0 249.5 L163.1 249.2 L163.5 248.2 L164.0 247.0 L164.5 246.0 L165.0 245.2 L165.5 244.6 L166.0 244.4 L166.5 244.6 L167.0 245.3 L167.5 246.2 L168.0 247.3 L168.5 248.5 L168.8 249.2 L169.0 249.7 L169.5 251.0 L170.0 252.6 L170.5 254.3 L171.0 256.1 L171.5 257.9 L171.7 258.6 L172.0 259.7 L172.5 261.8 L173.0 264.0 L173.5 265.8 L174.0 267.1 L174.1 267.2 L174.5 267.7 L175.0 268.2 L175.5 268.7 L176.0 268.9 L176.4 269.0 L176.5 269.0 L177.0 268.5 L177.5 267.7 L178.0 266.8 L178.5 266.3 L178.7 266.2 L179.0 266.3 L179.5 266.7 L180.0 267.4 L180.5 268.4 L181.0 269.5 L181.2 270.0 L181.5 271.0 L182.0 273.7 L182.5 277.2 L183.0 281.0 L183.5 285.5 L184.0 291.0 L184.5 298.3 L185.0 305.0 L185.5 308.5 L186.0 312.0 L186.5 317.6 L187.0 324.9 L187.5 332.7 L188.0 340.0 L188.5 347.1 L189.0 354.3 L189.5 360.9 L190.0 366.0 L190.5 369.3 L191.0 371.5 L191.5 373.6 L192.0 376.4 L192.5 381.0 L193.0 395.0 L193.0 396.0 L33.0 396.0 Z" fill="rgb(170,0,85)" stroke="rgb(42,0,21)"/>
<path d="M220.5 395.0 L221.0 384.0 L221.2 381.0 L221.5 377.9 L222.0 374.1 L222.5 371.1 L223.0 367.7 L223.2 366.0 L223.5 362.7 L224.0 356.2 L224.5 349.1 L225.0 342.3 L225.2 340.0 L225.5 336.5 L226.0 331.0 L226.5 326.0 L227.0 321.5 L227.2 320.0 L227.5 317.6 L228.0 314.0 L228.5 310.8 L229.0 308.5 L229.2 308.0 L229.5 307.3 L230.0 306.4 L230.5 305.7 L231.0 305.1 L231.5 304.6 L232.0 304.2 L232.2 304.0 L232.5 303.7 L233.0 303.4 L233.5 303.1 L234.0 302.9 L234.5 302.6 L235.0 302.2 L235.2 302.0 L235.5 301.5 L236.0 300.4 L236.5 298.9 L237.0 297.4 L237.5 296.1 L238.0 295.2 L238.2 295.0 L238.5 294.7 L239.0 294.4 L239.5 294.1 L240.0 294.0 L240.2 294.0 L240.5 294.2 L241.0 294.9 L241.5 296.1 L242.0 297.5 L242.2 298.0 L242.5 299.3 L243.0 301.9 L243.5 305.2 L244.0 308.8 L244.2 310.0 L244.5 312.8 L245.0 317.7 L245.5 323.1 L246.0 328.4 L246.2 330.0 L246.5 333.5 L247.0 338.5 L247.5 343.5 L248.0 348.5 L248.2 350.0 L248.5 353.5 L249.1 358.5 L249.6 363.5 L249.8 366.0 L250.1 369.1 L250.6 373.9 L250.6 374.0 L251.1 370.8 L251.6 362.2 L252.1 352.4 L252.2 350.0 L252.6 344.2 L253.1 335.6 L253.6 326.8 L254.1 318.3 L254.6 310.6 L254.6 310.0 L255.1 303.9 L255.6 297.8 L256.1 291.7 L256.2 290.0 L256.6 285.1 L257.1 278.2 L257.6 272.3 L257.6 272.0 L258.1 267.5 L258.6 263.0 L259.1 259.7 L259.5 258.6 L259.6 258.6 L260.1 260.1 L260.6 263.5 L261.1 268.3 L261.4 272.0 L261.6 275.1 L262.1 288.1 L262.2 290.0 L262.6 293.5 L263.1 297.5 L263.6 300.7 L264.1 303.2 L264.6 305.0 L265.1 305.9 L265.2 306.0 L265.6 306.2 L266.1 306.4 L266.6 306.5 L267.1 306.6 L267.6 306.7 L268.1 306.9 L268.2 307.0 L268.6 307.5 L269.1 308.9 L269.6 310.9 L270.1 313.5 L270.6 316.3 L271.1 319.3 L271.2 320.0 L271.6 322.7 L272.1 327.2 L272.6 332.3 L273.1 337.9 L273.6 343.5 L274.1 348.9 L274.2 350.0 L274.6 353.5 L275.1 357.1 L275.6 360.5 L276.1 364.5 L276.6 369.8 L277.1 377.2 L277.3 381.0 L277.6 395.0 L277.6 396.0 L220.5 396.0 Z" fill="rgb(170,0,85)" stroke="rgb(42,0,21)"/>
<path d="M284.0 395.0 L284.5 381.0 L285.0 370.6 L285.5 361.5 L286.0 353.4 L286.5 346.3 L287.0 340.0 L287.5 333.9 L288.0 328.0 L288.5 322.8 L289.0 319.2 L289.4 318.0 L289.5 317.9 L290.0 317.6 L290.5 317.5 L291.0 317.3 L291.4 317.0 L291.5 316.9 L292.0 314.8 L292.5 311.3 L293.0 307.3 L293.3 305.0 L293.5 303.5 L294.0 299.7 L294.5 295.5 L295.0 290.9 L295.3 288.0 L295.5 285.8 L296.0 279.2 L296.5 272.5 L297.0 267.0 L297.5 263.0 L298.0 259.4 L298.5 256.2 L299.0 253.3 L299.5 250.8 L299.9 249.0 L300.0 248.6 L300.5 246.3 L301.0 244.2 L301.5 242.6 L302.0 242.0 L302.5 242.5 L303.0 244.0 L303.5 245.9 L304.0 248.0 L304.5 250.7 L305.0 254.2 L305.5 257.8 L305.6 258.5 L306.0 261.2 L306.5 264.5 L307.0 267.8 L307.5 271.3 L308.0 275.0 L308.4 278.5 L308.5 279.0 L309.0 283.7 L309.5 289.0 L310.0 294.5 L310.5 299.9 L311.0 304.7 L311.3 306.9 L311.5 308.6 L312.0 312.3 L312.5 315.8 L313.0 319.0 L313.5 321.6 L314.0 323.6 L314.1 324.0 L314.5 325.1 L315.0 326.3 L315.5 326.9 L315.6 326.9 L316.0 326.2 L316.5 324.2 L317.0 321.2 L317.5 317.8 L317.8 315.5 L318.0 314.2 L318.5 309.5 L319.0 303.8 L319.5 297.6 L320.0 291.4 L320.5 285.9 L320.7 284.2 L321.0 281.1 L321.5 276.5 L322.0 272.1 L322.5 268.0 L323.0 264.4 L323.5 261.5 L323.5 261.4 L324.0 259.0 L324.5 256.6 L325.0 254.5 L325.5 252.7 L326.0 251.7 L326.4 251.4 L326.5 251.5 L327.0 252.8 L327.5 255.4 L328.0 258.8 L328.4 261.4 L328.5 262.5 L329.0 268.3 L329.5 275.0 L329.8 278.5 L330.0 281.0 L330.5 287.6 L331.0 292.2 L331.2 292.7 L331.5 292.3 L332.0 290.2 L332.5 287.3 L333.0 284.8 L333.2 284.2 L333.5 283.5 L334.0 282.4 L334.5 281.4 L335.0 280.6 L335.5 280.1 L336.0 279.9 L336.0 279.9 L336.5 280.3 L337.0 281.5 L337.5 283.3 L338.0 285.5 L338.3 287.0 L338.5 287.9 L339.0 291.2 L339.5 295.5 L340.0 300.5 L340.5 305.8 L340.6 306.9 L341.0 311.9 L341.5 319.4 L342.0 327.2 L342.5 334.2 L342.6 335.4 L343.0 340.5 L343.5 347.1 L344.0 352.6 L344.5 355.3 L344.6 355.3 L345.0 355.2 L345.5 354.8 L346.0 354.4 L346.5 354.0 L346.9 353.9 L347.0 353.9 L347.5 354.4 L348.0 355.2 L348.5 356.4 L349.0 357.8 L349.1 358.2 L349.5 359.5 L350.0 362.1 L350.5 365.2 L351.0 368.6 L351.1 369.6 L351.5 371.8 L352.0 375.0 L352.5 380.1 L352.6 381.0 L353.0 395.0 L353.0 396.0 L284.0 396.0 Z" fill="rgb(170,0,85)" stroke="rgb(42,0,21)"/>
<path d="M370.6 395.0 L371.1 381.0 L371.1 379.9 L371.6 362.2 L372.1 344.8 L372.5 335.4 L372.6 333.4 L373.1 325.4 L373.6 318.6 L374.1 313.5 L374.6 310.3 L374.8 309.8 L375.1 308.9 L375.6 307.7 L376.1 306.8 L376.6 306.1 L377.1 305.7 L377.6 305.5 L377.6 305.5 L378.1 306.5 L378.6 308.5 L379.1 310.4 L379.6 311.2 L379.6 311.2 L380.1 310.4 L380.6 308.6 L381.2 306.0 L381.7 303.0 L382.2 300.0 L382.5 298.4 L382.7 297.3 L383.2 294.2 L383.7 290.7 L384.2 287.3 L384.7 284.2 L385.2 281.8 L385.3 281.3 L385.7 280.0 L386.2 278.3 L386.7 276.8 L387.2 275.9 L387.6 275.6 L387.7 275.7 L388.2 276.7 L388.7 278.8 L389.2 281.7 L389.6 284.2 L389.7 285.0 L390.2 290.3 L390.7 297.5 L391.2 305.5 L391.7 313.4 L391.9 315.5 L392.2 320.6 L392.7 328.0 L393.2 335.4 L393.7 342.3 L393.8 344.0 L394.2 349.5 L394.7 353.9 L394.7 353.9 L395.2 350.8 L395.7 344.1 L396.2 337.0 L396.7 332.6 L396.7 332.4 L397.2 329.7 L397.7 327.5 L398.2 325.9 L398.7 325.4 L398.7 325.5 L399.2 326.5 L399.7 328.3 L400.2 329.6 L400.4 329.7 L400.7 328.8 L401.3 325.5 L401.8 321.1 L402.3 317.5 L402.4 316.9 L402.8 315.4 L403.3 313.4 L403.8 311.8 L404.3 310.7 L404.7 310.4 L404.8 310.4 L405.3 311.4 L405.8 313.4 L406.3 316.1 L406.7 318.3 L406.8 319.1 L407.3 323.2 L407.8 328.7 L408.3 335.0 L408.8 341.9 L408.9 344.0 L409.3 349.1 L409.8 356.9 L410.3 366.2 L410.8 377.6 L410.9 381.0 L411.3 395.0 L411.3 396.0 L370.6 396.0 Z" fill="rgb(170,0,85)" stroke="rgb(42,0,21)"/>
<path d="M423.5 395.0 L423.7 381.0 L424.0 375.1 L424.5 368.1 L425.1 364.3 L425.2 363.9 L425.6 361.9 L426.1 360.2 L426.6 359.6 L426.6 359.6 L427.2 360.8 L427.7 363.3 L428.2 366.3 L428.3 366.7 L428.7 369.0 L429.3 372.2 L429.8 377.6 L430.0 381.0 L430.3 395.0 L430.3 396.0 L423.5 396.0 Z" fill="rgb(170,0,85)" stroke="rgb(42,0,21)"/>
<path d="M440.5 395.0 L440.8 381.0 L441.0 376.8 L441.5 367.7 L442.0 361.1 L442.5 355.8 L443.0 350.7 L443.1 349.6 L443.5 345.0 L444.0 339.4 L444.5 334.6 L445.0 331.5 L445.1 331.1 L445.5 329.9 L446.0 328.8 L446.5 328.3 L446.5 328.3 L447.0 329.1 L447.5 331.1 L448.0 334.0 L448.2 335.4 L448.5 337.9 L449.0 344.9 L449.5 353.4 L450.0 361.3 L450.2 363.9 L450.5 366.5 L451.0 369.5 L451.5 372.6 L452.0 377.7 L452.2 381.0 L452.5 395.0 L452.5 396.0 L440.5 396.0 Z" fill="rgb(170,0,85)" stroke="rgb(42,0,21)"/>
<path d="M454.8 395.0 L455.1 381.0 L455.4 379.1 L455.9 377.2 L456.5 376.7 L456.5 376.7 L457.1 377.3 L457.6 379.3 L457.9 381.0 L458.2 395.0 L458.2 396.0 L454.8 396.0 Z" fill="rgb(170,0,85)" stroke="rgb(42,0,21)"/>
<path d="M459.0 395.0 L459.3 381.0 L459.5 375.3 L460.0 360.7 L460.5 348.5 L461.0 339.3 L461.3 335.4 L461.5 333.3 L462.0 328.6 L462.5 324.6 L463.0 321.7 L463.5 319.9 L463.6 319.8 L464.0 318.9 L464.5 318.0 L465.0 317.4 L465.5 317.0 L465.9 316.9 L466.1 317.0 L466.6 317.6 L467.1 318.7 L467.6 320.2 L468.1 321.9 L468.6 323.6 L468.7 324.0 L469.1 325.1 L469.6 326.6 L470.1 328.3 L470.6 330.2 L471.1 332.6 L471.6 335.4 L471.6 335.6 L472.1 341.3 L472.6 349.7 L473.1 358.3 L473.6 363.9 L473.6 364.3 L474.1 368.5 L474.4 369.6 L474.6 367.1 L475.1 348.2 L475.6 335.4 L475.6 334.7 L476.1 330.2 L476.6 327.0 L477.1 325.5 L477.3 325.4 L477.6 325.9 L478.1 327.8 L478.6 330.7 L479.1 334.5 L479.3 335.4 L479.6 341.6 L480.2 353.8 L480.7 363.7 L480.7 363.9 L481.2 369.4 L481.7 373.8 L482.1 375.3 L482.2 375.2 L482.7 369.8 L483.2 359.6 L483.7 349.2 L484.1 344.0 L484.2 343.3 L484.7 340.0 L485.2 337.2 L485.7 335.1 L486.2 334.1 L486.4 334.0 L486.7 334.2 L487.2 335.3 L487.7 337.0 L488.2 339.1 L488.6 341.1 L488.7 341.4 L489.2 345.1 L489.7 349.9 L490.2 354.8 L490.6 358.2 L490.7 358.8 L491.2 362.6 L491.7 366.3 L492.2 368.8 L492.6 369.6 L492.7 369.5 L493.2 368.6 L493.8 366.8 L494.3 365.0 L494.8 364.0 L494.9 363.9 L495.3 363.9 L495.8 363.9 L496.3 363.9 L496.6 363.9 L496.8 364.0 L497.3 365.3 L497.8 367.8 L498.3 370.7 L498.6 372.4 L498.8 373.2 L499.3 375.1 L499.8 378.3 L500.0 381.0 L500.3 395.0 L500.3 396.0 L459.0 396.0 Z" fill="rgb(170,0,85)" stroke="rgb(42,0,21)"/>
<path d="M845.0 395.0 L845.4 381.0 L845.5 380.1 L846.0 376.0 L846.5 373.4 L847.0 371.6 L847.4 370.1 L847.5 369.8 L848.0 367.8 L848.5 365.8 L849.0 364.2 L849.5 363.4 L849.7 363.3 L850.0 363.4 L850.5 364.1 L851.0 365.3 L851.5 366.7 L852.0 368.4 L852.5 370.0 L852.5 370.1 L853.0 371.4 L853.5 372.5 L854.0 374.4 L854.5 377.7 L854.8 381.0 L855.0 395.0 L855.0 396.0 L845.0 396.0 Z" fill="rgb(170,0,85)" stroke="rgb(42,0,21)"/>
<path d="M857.6 395.0 L857.9 381.0 L858.1 377.1 L858.6 366.9 L859.1 359.7 L859.4 356.8 L859.6 354.3 L860.1 349.5 L860.6 345.3 L861.1 342.3 L861.6 341.1 L861.6 341.1 L862.1 341.2 L862.6 341.4 L863.1 341.8 L863.6 342.2 L863.9 342.5 L864.1 342.8 L864.6 344.0 L865.1 345.8 L865.6 347.7 L866.1 349.5 L866.6 350.8 L866.8 351.1 L867.1 351.5 L867.6 352.0 L868.1 352.4 L868.6 352.8 L869.1 353.3 L869.6 353.9 L869.7 354.0 L870.2 355.8 L870.7 358.4 L871.2 360.7 L871.6 361.6 L871.7 361.6 L872.2 360.2 L872.7 357.3 L873.2 353.4 L873.7 349.7 L873.9 348.2 L874.2 346.4 L874.7 342.7 L875.2 339.0 L875.7 335.9 L876.2 334.0 L876.2 334.0 L876.7 332.8 L877.2 331.8 L877.7 331.1 L878.2 330.9 L878.2 330.9 L878.7 333.3 L879.2 338.1 L879.6 341.7 L879.7 342.6 L880.2 347.7 L880.7 353.1 L881.2 357.1 L881.6 358.2 L881.7 357.9 L882.2 353.8 L882.7 348.2 L883.0 346.2 L883.2 345.6 L883.7 344.5 L884.2 343.7 L884.7 342.5 L884.7 342.5 L885.2 340.3 L885.7 337.2 L886.2 333.5 L886.7 329.7 L886.7 329.5 L887.2 324.7 L887.7 319.4 L888.1 315.5 L888.2 314.5 L888.7 309.6 L889.2 305.5 L889.5 304.1 L889.7 303.7 L890.2 302.8 L890.7 302.3 L891.2 301.7 L891.5 301.2 L891.7 300.9 L892.2 299.8 L892.8 298.6 L893.2 297.0 L893.3 297.0 L893.8 294.0 L894.3 289.9 L894.8 286.1 L895.2 284.2 L895.3 284.1 L895.8 283.6 L896.3 283.3 L896.8 283.0 L897.2 282.7 L897.3 282.7 L897.8 282.4 L898.3 282.1 L898.8 281.8 L899.3 281.5 L899.5 281.3 L899.8 281.0 L900.3 280.3 L900.8 279.4 L901.3 278.8 L901.8 278.5 L901.8 278.5 L902.3 280.2 L902.8 284.1 L903.2 287.6 L903.3 288.3 L903.8 293.1 L904.3 298.7 L904.8 304.0 L905.2 307.5 L905.3 308.3 L905.8 312.3 L906.3 315.4 L906.6 316.0 L906.8 315.9 L907.3 314.7 L907.8 312.9 L908.3 311.5 L908.6 311.2 L908.8 311.3 L909.3 312.2 L909.8 313.8 L910.3 315.5 L910.3 315.5 L910.8 317.4 L911.3 319.8 L911.8 322.4 L912.3 324.6 L912.3 324.6 L912.8 326.8 L913.3 329.0 L913.8 330.8 L914.3 332.0 L914.3 332.0 L914.8 332.9 L915.4 333.6 L915.9 334.0 L916.0 334.0 L916.4 333.4 L916.9 331.0 L917.4 327.4 L917.9 323.6 L918.0 322.6 L918.4 320.2 L918.9 316.1 L919.4 312.1 L919.9 309.0 L920.0 308.4 L920.4 307.2 L920.9 305.8 L921.4 304.8 L921.9 303.7 L922.3 302.7 L922.4 302.4 L922.9 301.0 L923.4 299.6 L923.9 298.0 L924.4 296.2 L924.6 295.6 L924.9 294.1 L925.4 291.6 L925.9 288.7 L926.4 285.3 L926.6 284.2 L926.9 281.0 L927.4 275.2 L927.9 270.4 L928.0 269.9 L928.4 267.6 L928.9 265.0 L929.4 262.9 L929.9 261.7 L930.3 261.4 L930.4 261.4 L930.9 262.3 L931.4 264.0 L931.9 265.9 L932.3 267.1 L932.4 267.8 L932.9 270.4 L933.4 273.2 L933.9 275.2 L934.2 275.6 L934.4 275.5 L934.9 274.6 L935.4 273.1 L935.9 271.5 L936.4 270.1 L936.5 269.9 L936.9 269.1 L937.4 268.1 L937.9 267.1 L938.5 266.3 L939.0 265.8 L939.4 265.7 L939.5 265.7 L940.0 266.0 L940.5 266.6 L941.0 267.3 L941.5 268.0 L942.0 268.4 L942.2 268.5 L942.5 268.5 L943.0 268.3 L943.5 267.9 L944.0 267.5 L944.5 267.2 L945.0 267.1 L945.1 267.1 L945.5 267.1 L946.0 267.1 L946.5 267.1 L947.0 267.1 L947.5 267.1 L947.9 267.1 L948.0 267.4 L948.5 281.2 L949.0 311.1 L949.5 351.1 L950.0 395.0 L950.0 396.0 L857.6 396.0 Z" fill="rgb(170,0,85)" stroke="rgb(42,0,21)"/>
<path d="M48.5 395.0 L49.0 381.0 L49.5 374.5 L50.0 369.4 L50.5 365.5 L51.0 362.2 L51.5 359.1 L52.0 355.8 L52.5 352.0 L53.0 347.6 L53.5 343.1 L54.0 338.5 L54.5 333.9 L55.0 329.5 L55.5 325.4 L55.6 324.6 L56.0 321.9 L56.5 318.6 L56.8 316.0 L57.0 313.0 L57.5 304.5 L58.0 300.4 L58.5 297.1 L59.0 294.5 L59.5 292.2 L60.0 290.0 L60.5 287.6 L60.8 286.0 L61.0 284.8 L61.5 282.0 L62.0 279.1 L62.5 276.1 L63.0 273.1 L63.5 270.0 L64.0 266.7 L64.5 263.1 L65.0 259.5 L65.5 256.0 L66.0 252.8 L66.3 251.0 L66.5 249.9 L67.0 247.2 L67.5 244.7 L68.0 242.3 L68.5 240.0 L69.0 237.8 L69.5 235.8 L70.0 233.9 L70.1 233.5 L70.5 232.0 L71.0 230.2 L71.5 228.4 L72.0 226.8 L72.5 225.2 L73.0 223.9 L73.5 222.7 L73.9 222.0 L74.0 221.8 L74.5 221.0 L75.0 220.3 L75.5 219.6 L76.0 219.0 L76.5 218.6 L77.0 218.4 L77.2 218.4 L77.5 218.5 L78.0 218.9 L78.5 219.6 L79.0 220.5 L79.5 221.5 L80.0 222.7 L80.3 223.4 L80.5 223.9 L81.0 225.4 L81.5 227.3 L82.0 229.5 L82.5 231.9 L83.0 234.4 L83.3 236.0 L83.5 237.1 L84.0 240.2 L84.5 243.7 L85.0 247.5 L85.5 251.3 L86.0 255.4 L86.5 259.8 L87.0 264.0 L87.5 268.6 L88.0 273.3 L88.5 276.6 L88.8 277.3 L89.0 277.3 L89.5 276.9 L90.0 276.1 L90.5 275.0 L91.0 273.7 L91.5 272.2 L92.0 270.7 L92.5 269.1 L93.0 267.5 L93.1 267.2 L93.5 266.0 L94.0 264.3 L94.5 262.5 L95.0 260.5 L95.5 258.4 L96.0 256.0 L96.5 253.1 L97.0 249.6 L97.5 245.8 L98.0 241.9 L98.5 238.1 L99.0 234.7 L99.2 233.5 L99.5 231.8 L100.0 229.0 L100.5 226.3 L101.0 223.7 L101.5 221.3 L102.0 219.2 L102.5 217.3 L103.0 215.8 L103.5 214.5 L104.0 213.2 L104.5 212.0 L105.0 211.0 L105.5 210.1 L106.0 209.4 L106.5 208.9 L106.8 208.7 L107.0 208.6 L107.5 208.4 L108.0 208.3 L108.5 208.2 L108.6 208.2 L109.0 208.3 L109.5 208.7 L110.0 209.4 L110.5 210.3 L111.0 211.3 L111.5 212.4 L111.9 213.3 L112.0 213.5 L112.5 215.2 L113.0 217.3 L113.5 219.6 L114.0 221.9 L114.4 223.4 L114.5 223.7 L115.0 225.6 L115.5 227.4 L116.0 229.1 L116.5 230.3 L117.0 231.0 L117.5 231.3 L118.0 231.5 L118.5 231.6 L119.0 231.7 L119.5 231.8 L120.0 231.9 L120.5 232.1 L120.8 232.3 L121.0 232.4 L121.5 233.0 L122.0 233.7 L122.5 234.5 L123.0 235.4 L123.3 236.0 L123.5 236.4 L124.0 237.5 L124.5 238.8 L125.0 240.2 L125.5 241.6 L126.0 242.9 L126.3 243.7 L126.5 244.2 L127.0 245.3 L127.5 246.4 L128.0 247.5 L128.5 248.7 L129.0 249.8 L129.5 251.0 L129.6 251.3 L130.0 252.4 L130.5 253.9 L131.0 255.6 L131.5 257.2 L132.0 258.9 L132.5 260.4 L133.0 261.8 L133.4 262.7 L133.5 262.9 L134.0 263.9 L134.5 264.7 L135.0 265.5 L135.5 266.2 L136.0 267.0 L136.5 267.8 L136.6 268.0 L137.0 268.7 L137.5 269.6 L138.0 270.4 L138.5 271.3 L139.0 272.1 L139.5 273.1 L140.0 274.1 L140.5 275.1 L141.0 276.3 L141.3 277.0 L141.5 277.5 L142.0 278.9 L142.5 280.4 L143.0 282.2 L143.5 284.0 L144.0 286.1 L144.2 287.0 L144.5 288.5 L145.0 291.7 L145.5 295.1 L146.0 298.0 L146.5 300.3 L147.0 302.3 L147.5 304.1 L148.0 305.9 L148.5 307.9 L149.0 310.0 L149.5 312.7 L150.0 316.0 L150.5 319.7 L151.0 323.3 L151.5 326.7 L152.0 329.4 L152.5 331.3 L153.0 332.0 L153.5 331.3 L154.0 329.5 L154.5 326.8 L155.0 323.5 L155.5 319.9 L156.0 316.3 L156.5 312.9 L157.0 310.0 L157.5 307.5 L158.0 305.1 L158.5 302.7 L159.0 300.4 L159.5 298.2 L160.0 296.0 L160.5 293.7 L161.0 291.4 L161.5 289.4 L162.0 288.0 L162.5 287.0 L163.0 286.1 L163.5 285.4 L164.0 285.2 L164.5 285.3 L165.0 285.7 L165.5 286.3 L166.0 287.1 L166.5 288.0 L167.0 289.0 L167.5 290.7 L168.0 293.3 L168.5 296.5 L169.0 300.0 L169.5 304.2 L170.0 309.3 L170.5 314.7 L171.0 320.0 L171.5 325.0 L172.0 330.1 L172.5 335.1 L173.0 340.0 L173.5 345.5 L174.0 351.4 L174.5 356.1 L175.0 358.0 L175.5 357.0 L176.0 354.5 L176.5 351.0 L177.0 347.1 L177.5 343.2 L178.0 340.0 L178.5 337.1 L179.0 334.0 L179.5 331.5 L180.0 330.0 L180.5 329.3 L181.0 328.6 L181.5 328.1 L182.0 327.8 L182.5 327.7 L183.0 328.2 L183.5 329.5 L184.0 331.4 L184.5 333.7 L185.0 336.0 L185.5 338.8 L186.0 342.3 L186.5 346.2 L187.0 350.0 L187.5 353.7 L188.0 357.6 L188.5 361.5 L189.0 365.2 L189.5 368.7 L189.7 370.0 L190.0 371.6 L190.5 373.3 L191.0 375.3 L191.5 378.8 L191.7 381.0 L192.0 395.0 L192.0 396.0 L48.5 396.0 Z" fill="rgb(142,0,113)" stroke="rgb(35,0,28)"/>
<path d="M222.0 395.0 L222.2 381.0 L222.5 374.8 L223.0 367.3 L223.5 362.2 L224.0 358.7 L224.5 355.6 L225.0 351.9 L225.2 350.0 L225.5 346.7 L226.0 340.8 L226.5 335.2 L227.0 331.0 L227.2 330.0 L227.5 328.8 L228.0 327.1 L228.5 325.8 L229.0 325.1 L229.2 325.0 L229.5 325.2 L230.0 326.1 L230.5 327.6 L231.0 329.3 L231.2 330.0 L231.5 331.2 L232.0 333.6 L232.5 336.4 L233.0 339.1 L233.2 340.0 L233.5 341.4 L234.0 343.8 L234.5 346.0 L235.0 347.6 L235.2 348.0 L235.5 348.5 L236.0 349.2 L236.5 349.7 L237.0 350.0 L237.2 350.0 L237.5 349.9 L238.0 349.6 L238.5 349.2 L239.0 348.7 L239.5 348.3 L240.0 348.0 L240.2 348.0 L240.5 348.1 L241.0 348.4 L241.5 348.9 L242.0 349.7 L242.5 350.6 L243.0 351.6 L243.2 352.0 L243.5 352.8 L244.0 354.6 L244.5 356.9 L245.0 359.6 L245.5 362.3 L246.0 365.0 L246.2 366.0 L246.5 367.3 L247.0 368.9 L247.5 370.3 L248.0 372.1 L248.5 374.8 L249.0 378.9 L249.2 381.0 L249.5 395.0 L249.5 396.0 L222.0 396.0 Z" fill="rgb(142,0,113)" stroke="rgb(35,0,28)"/>
<path d="M250.8 395.0 L251.0 381.0 L251.3 373.1 L251.8 364.3 L252.3 358.6 L252.8 352.9 L253.0 350.0 L253.3 345.1 L253.8 336.9 L254.3 328.5 L254.8 320.1 L255.3 311.7 L255.4 310.0 L255.8 302.9 L256.3 293.5 L256.8 284.6 L257.3 277.3 L257.5 275.0 L257.8 271.9 L258.3 267.0 L258.8 263.0 L259.3 260.7 L259.5 260.5 L259.8 261.0 L260.3 263.6 L260.8 267.8 L261.3 272.9 L261.5 275.0 L261.8 279.4 L262.3 288.8 L262.5 292.0 L262.8 296.0 L263.3 301.9 L263.8 307.3 L264.3 312.7 L264.5 315.0 L264.8 318.5 L265.3 324.1 L265.8 329.7 L266.3 335.7 L266.8 342.2 L267.0 345.0 L267.3 349.2 L267.8 356.3 L268.3 364.5 L268.8 375.5 L269.0 381.0 L269.3 395.0 L269.3 396.0 L250.8 396.0 Z" fill="rgb(142,0,113)" stroke="rgb(35,0,28)"/>
<path d="M288.8 395.0 L289.3 381.0 L289.3 380.8 L289.8 375.0 L290.3 370.9 L290.9 368.0 L291.3 366.0 L291.4 365.7 L291.9 363.5 L292.4 361.6 L292.9 360.3 L293.3 360.0 L293.4 360.0 L294.0 360.5 L294.5 361.4 L295.0 362.8 L295.5 364.4 L296.0 366.0 L296.0 366.1 L296.5 367.8 L297.1 369.9 L297.6 373.1 L298.1 378.2 L298.3 381.0 L298.6 395.0 L298.6 396.0 L288.8 396.0 Z" fill="rgb(142,0,113)" stroke="rgb(35,0,28)"/>
<path d="M316.5 395.0 L317.0 381.0 L317.0 381.0 L317.5 373.3 L318.0 367.4 L318.5 362.6 L319.0 358.1 L319.5 353.1 L319.8 349.7 L320.0 346.9 L320.5 339.3 L321.0 331.1 L321.5 322.9 L322.0 315.2 L322.5 308.9 L322.7 307.0 L323.0 303.9 L323.5 299.2 L324.0 294.9 L324.5 291.3 L325.0 288.5 L325.5 287.0 L325.5 286.9 L326.0 286.0 L326.5 285.2 L327.0 284.6 L327.5 284.2 L327.8 284.2 L328.0 284.8 L328.5 289.2 L329.0 296.1 L329.5 303.6 L329.8 307.0 L330.0 310.1 L330.5 316.7 L330.9 321.0 L331.0 322.7 L331.6 329.3 L332.1 335.8 L332.6 341.1 L333.1 343.8 L333.2 344.0 L333.6 343.7 L334.1 342.4 L334.6 340.5 L335.1 338.4 L335.6 336.5 L336.0 335.4 L336.1 335.3 L336.6 334.4 L337.1 333.6 L337.6 333.0 L338.1 332.6 L338.3 332.6 L338.6 332.8 L339.1 333.9 L339.6 335.9 L340.1 338.3 L340.6 340.9 L340.6 341.0 L341.1 344.2 L341.6 348.5 L342.1 353.3 L342.6 357.9 L342.6 358.0 L343.1 362.5 L343.6 367.3 L344.1 371.7 L344.6 375.0 L344.6 375.0 L345.1 376.6 L345.6 377.6 L346.1 379.6 L346.3 381.0 L346.6 395.0 L346.6 396.0 L316.5 396.0 Z" fill="rgb(142,0,113)" stroke="rgb(35,0,28)"/>
<path d="M845.2 395.0 L845.4 381.0 L845.7 377.7 L846.2 374.6 L846.7 372.9 L846.8 372.4 L847.2 371.0 L847.7 369.2 L848.2 367.6 L848.7 366.4 L849.2 365.6 L849.7 365.3 L849.7 365.3 L850.3 365.7 L850.8 366.8 L851.3 368.2 L851.8 369.8 L852.3 371.6 L852.5 372.4 L852.8 373.1 L853.3 374.3 L853.8 375.9 L854.3 378.9 L854.5 381.0 L854.8 395.0 L854.8 396.0 L845.2 396.0 Z" fill="rgb(142,0,113)" stroke="rgb(35,0,28)"/>
<path d="M858.0 395.0 L858.2 381.0 L858.5 374.0 L859.0 365.3 L859.5 359.7 L859.7 358.2 L860.0 354.7 L860.5 350.0 L861.0 346.0 L861.5 343.3 L861.9 342.5 L862.0 342.5 L862.5 342.7 L863.0 343.0 L863.5 343.5 L863.9 344.0 L864.0 344.0 L864.5 345.1 L865.0 346.8 L865.5 348.7 L866.0 350.5 L866.5 352.0 L866.8 352.5 L867.0 352.8 L867.5 353.3 L868.0 353.7 L868.5 354.1 L869.0 354.5 L869.5 355.1 L869.6 355.3 L870.0 356.6 L870.5 359.3 L871.0 362.2 L871.5 363.8 L871.6 363.9 L872.0 363.1 L872.5 360.4 L873.0 356.5 L873.5 352.4 L873.9 349.6 L874.0 348.9 L874.5 345.4 L875.0 341.6 L875.5 338.3 L876.0 335.9 L876.2 335.4 L876.5 334.7 L877.0 333.7 L877.5 333.0 L878.0 332.6 L878.2 332.6 L878.5 333.7 L879.0 338.2 L879.5 343.3 L879.6 344.0 L880.0 347.6 L880.5 352.6 L881.0 357.1 L881.5 360.3 L881.9 361.0 L882.0 360.7 L882.5 355.9 L883.0 349.9 L883.3 348.2 L883.5 347.9 L884.0 347.2 L884.5 346.8 L884.7 346.8 L885.0 348.0 L885.5 353.4 L886.0 357.9 L886.1 358.2 L886.5 356.3 L887.0 350.3 L887.5 344.4 L887.6 344.0 L888.0 340.5 L888.5 336.8 L889.0 333.9 L889.5 332.6 L889.5 332.6 L890.0 332.7 L890.5 333.2 L891.0 333.7 L891.5 334.0 L891.5 334.0 L892.0 333.3 L892.5 331.4 L893.0 329.0 L893.5 326.6 L893.8 325.4 L894.0 324.9 L894.5 323.3 L895.0 321.8 L895.5 320.6 L896.0 319.8 L896.1 319.8 L896.5 319.5 L897.0 319.2 L897.5 319.0 L898.0 318.8 L898.5 318.6 L899.0 318.5 L899.5 318.3 L899.5 318.3 L900.0 318.2 L900.5 318.0 L901.0 317.9 L901.5 317.8 L901.8 317.8 L902.0 318.1 L902.5 320.9 L903.0 325.1 L903.2 326.9 L903.5 329.5 L904.0 335.0 L904.5 341.3 L905.0 347.4 L905.2 349.6 L905.5 353.2 L906.0 359.6 L906.5 363.7 L906.6 363.9 L907.0 363.6 L907.5 362.7 L908.0 361.7 L908.5 361.1 L908.6 361.0 L909.0 361.2 L909.5 361.9 L910.0 363.0 L910.3 363.9 L910.5 364.4 L911.0 366.2 L911.5 369.5 L912.0 375.3 L912.3 381.0 L912.5 395.0 L912.5 396.0 L858.0 396.0 Z" fill="rgb(142,0,113)" stroke="rgb(35,0,28)"/>
<path d="M923.5 395.0 L923.7 381.0 L924.0 378.4 L924.5 375.4 L925.0 373.6 L925.5 372.5 L926.0 371.4 L926.5 369.8 L926.6 369.6 L927.0 367.4 L927.5 364.5 L928.0 361.8 L928.5 359.8 L928.6 359.6 L929.0 358.2 L929.5 356.9 L930.0 356.0 L930.3 355.9 L930.5 356.1 L931.0 357.4 L931.5 359.7 L932.0 362.5 L932.3 363.9 L932.5 365.1 L933.0 367.7 L933.5 371.2 L934.0 376.9 L934.2 381.0 L934.5 395.0 L934.5 396.0 L923.5 396.0 Z" fill="rgb(142,0,113)" stroke="rgb(35,0,28)"/>
<path d="M48.5 395.0 L49.0 381.0 L49.0 381.0 L49.5 374.4 L50.0 369.4 L50.5 365.4 L51.0 362.1 L51.5 359.0 L52.0 355.8 L52.5 352.0 L52.5 351.9 L53.0 347.5 L53.5 342.9 L54.0 338.3 L54.5 333.8 L55.0 329.4 L55.5 325.2 L55.6 324.6 L56.0 321.8 L56.5 318.5 L56.8 316.0 L57.0 312.6 L57.5 304.5 L57.5 304.3 L58.0 300.6 L58.5 298.3 L58.6 298.0 L59.0 296.8 L59.5 295.9 L60.0 295.0 L60.5 293.9 L60.8 293.0 L61.0 291.6 L61.5 286.4 L62.0 280.7 L62.3 278.7 L62.5 277.3 L63.0 274.4 L63.5 271.9 L64.0 270.4 L64.4 270.0 L64.5 270.0 L65.0 270.0 L65.6 270.1 L66.1 270.3 L66.6 270.4 L67.1 270.5 L67.6 270.7 L68.1 270.8 L68.6 270.8 L68.7 270.8 L69.1 270.7 L69.6 270.5 L70.1 270.2 L70.6 269.7 L71.1 269.2 L71.6 268.7 L71.6 268.7 L72.1 268.1 L72.6 267.3 L73.1 266.3 L73.6 265.3 L74.1 264.3 L74.6 263.4 L75.1 262.7 L75.6 262.3 L75.9 262.2 L76.1 262.2 L76.6 262.4 L77.1 262.8 L77.6 263.3 L78.1 263.9 L78.6 264.5 L79.1 265.2 L79.5 265.8 L79.6 265.9 L80.1 266.8 L80.6 267.9 L81.1 269.0 L81.6 270.0 L81.6 270.0 L82.1 270.8 L82.6 271.7 L83.1 272.4 L83.6 273.2 L84.1 273.9 L84.6 274.5 L85.0 275.0 L85.1 275.1 L85.6 275.8 L86.1 276.4 L86.6 277.1 L87.1 277.7 L87.6 278.1 L88.1 278.5 L88.6 278.7 L88.8 278.7 L89.1 278.7 L89.6 278.5 L90.1 278.2 L90.6 277.9 L91.1 277.5 L91.6 277.0 L92.1 276.6 L92.6 276.2 L93.0 276.0 L93.1 275.9 L93.6 275.6 L94.1 275.4 L94.6 275.1 L95.1 274.9 L95.6 274.6 L96.1 274.4 L96.6 274.2 L97.1 273.9 L97.6 273.7 L98.1 273.4 L98.7 273.1 L98.9 273.0 L99.2 272.9 L99.7 272.5 L100.2 272.1 L100.7 271.7 L101.2 271.3 L101.7 270.9 L102.2 270.5 L102.7 270.1 L103.2 269.8 L103.7 269.6 L104.2 269.4 L104.6 269.4 L104.7 269.4 L105.2 269.5 L105.7 269.7 L106.2 270.0 L106.7 270.4 L107.2 270.9 L107.7 271.5 L108.2 272.1 L108.7 272.7 L108.9 273.0 L109.2 273.4 L109.7 274.4 L110.2 275.6 L110.7 277.0 L111.2 278.6 L111.7 280.3 L112.2 282.1 L112.7 284.0 L113.2 285.9 L113.2 285.9 L113.7 287.8 L114.2 289.7 L114.7 291.8 L115.2 294.3 L115.7 297.3 L116.1 300.2 L116.2 301.1 L116.7 307.6 L117.2 315.7 L117.5 320.0 L117.7 323.3 L118.2 329.0 L118.2 329.0 L118.7 328.6 L119.2 327.5 L119.7 326.1 L120.2 324.6 L120.7 323.5 L121.0 323.0 L121.2 322.7 L121.7 322.1 L122.2 321.6 L122.7 321.2 L123.2 321.0 L123.3 321.0 L123.7 321.2 L124.2 321.8 L124.7 322.6 L125.2 323.6 L125.7 324.5 L126.0 325.0 L126.2 325.4 L126.7 326.2 L127.2 327.1 L127.7 328.0 L128.2 329.0 L128.7 329.8 L129.0 330.3 L129.2 330.7 L129.7 331.5 L130.2 332.2 L130.7 332.9 L131.2 333.7 L131.7 334.4 L132.3 335.3 L132.8 336.3 L133.3 337.4 L133.3 337.5 L133.8 338.9 L134.3 340.8 L134.8 343.1 L135.3 345.3 L135.8 347.5 L136.2 349.0 L136.3 349.2 L136.8 350.8 L137.3 352.5 L137.8 354.1 L138.3 355.2 L138.8 355.9 L139.0 356.0 L139.3 355.9 L139.8 355.5 L140.3 354.9 L140.8 354.0 L141.3 353.2 L141.8 352.5 L142.3 352.1 L142.6 352.0 L142.8 352.1 L143.3 352.7 L143.8 354.0 L144.3 355.7 L144.8 357.6 L144.8 357.6 L145.3 360.1 L145.8 363.7 L146.3 367.8 L146.8 371.6 L147.0 373.0 L147.3 374.5 L147.8 376.5 L148.3 379.9 L148.4 381.0 L148.8 395.0 L148.8 396.0 L48.5 396.0 Z" fill="rgb(113,0,142)" stroke="rgb(28,0,35)"/>
<path d="M158.6 395.0 L159.0 381.0 L159.1 379.5 L159.6 374.0 L160.1 370.3 L160.6 367.7 L161.0 366.0 L161.1 365.3 L161.6 363.0 L162.2 360.9 L162.7 359.0 L163.2 357.5 L163.7 356.4 L164.0 356.0 L164.2 355.8 L164.7 355.4 L165.2 355.1 L165.6 355.0 L165.7 355.0 L166.2 355.7 L166.7 357.1 L167.2 358.9 L167.7 361.0 L168.0 362.0 L168.3 363.1 L168.8 365.9 L169.3 369.1 L169.8 372.5 L170.0 374.0 L170.3 375.5 L170.8 378.6 L171.0 381.0 L171.3 395.0 L171.3 396.0 L158.6 396.0 Z" fill="rgb(113,0,142)" stroke="rgb(28,0,35)"/>
<path d="M252.2 395.0 L252.5 381.0 L252.7 375.0 L253.2 363.2 L253.7 354.0 L254.2 345.4 L254.5 340.0 L254.7 335.5 L255.2 324.8 L255.7 314.2 L256.2 304.6 L256.5 300.0 L256.7 296.4 L257.2 288.9 L257.7 282.4 L258.2 278.0 L258.2 277.7 L258.7 274.0 L259.2 271.4 L259.5 271.0 L259.8 271.4 L260.3 273.9 L260.8 277.7 L260.8 278.0 L261.3 283.3 L261.8 291.7 L262.3 301.0 L262.5 305.0 L262.8 309.5 L263.3 318.1 L263.8 326.8 L264.3 335.9 L264.5 340.0 L264.8 345.1 L265.3 353.6 L265.8 363.0 L266.3 375.0 L266.5 381.0 L266.8 395.0 L266.8 396.0 L252.2 396.0 Z" fill="rgb(113,0,142)" stroke="rgb(28,0,35)"/>
<path d="M320.8 395.0 L321.2 381.0 L321.3 379.2 L321.8 371.4 L322.3 365.7 L322.8 361.2 L323.3 357.1 L323.8 352.8 L324.1 349.7 L324.3 347.4 L324.8 340.8 L325.3 334.0 L325.8 328.2 L326.3 324.4 L326.4 324.0 L326.8 322.7 L327.3 321.3 L327.8 320.3 L328.3 319.8 L328.4 319.8 L328.8 320.7 L329.3 324.0 L329.8 328.8 L330.3 334.3 L330.4 335.4 L330.8 341.5 L331.3 351.7 L331.8 361.2 L332.0 364.0 L332.3 366.9 L332.8 370.0 L333.3 372.9 L333.8 377.9 L334.0 381.0 L334.3 395.0 L334.3 396.0 L320.8 396.0 Z" fill="rgb(113,0,142)" stroke="rgb(28,0,35)"/>
<path d="M48.5 395.0 L49.0 381.0 L49.0 381.0 L49.5 374.4 L50.0 369.4 L50.5 365.4 L51.0 362.1 L51.5 359.0 L52.0 355.7 L52.5 352.0 L52.5 351.9 L53.0 347.4 L53.5 342.9 L54.0 338.2 L54.5 333.7 L55.0 329.3 L55.5 325.2 L55.6 324.6 L56.0 321.7 L56.5 318.4 L56.8 316.0 L57.0 312.3 L57.5 304.5 L57.5 304.2 L58.0 301.5 L58.5 299.8 L58.8 299.0 L59.0 298.3 L59.5 296.8 L60.0 295.3 L60.6 294.0 L61.1 292.9 L61.6 292.1 L62.1 291.7 L62.3 291.6 L62.6 291.7 L63.1 292.2 L63.6 293.2 L64.1 294.5 L64.6 296.0 L65.1 297.6 L65.6 299.1 L65.9 300.0 L66.1 300.5 L66.6 302.1 L67.1 304.0 L67.6 305.9 L68.1 307.6 L68.6 309.1 L69.1 310.0 L69.5 310.3 L69.6 310.3 L70.1 309.7 L70.6 308.3 L71.1 306.3 L71.6 304.0 L72.1 301.6 L72.6 299.1 L73.0 297.3 L73.1 296.8 L73.6 294.4 L74.1 291.7 L74.6 289.0 L75.1 286.4 L75.6 284.1 L75.9 283.0 L76.1 282.2 L76.6 280.5 L77.1 278.7 L77.6 277.0 L78.1 275.6 L78.6 274.5 L79.1 273.9 L79.5 273.7 L79.6 273.7 L80.1 273.7 L80.6 273.8 L81.1 273.9 L81.6 274.0 L82.1 274.1 L82.6 274.3 L83.1 274.4 L83.1 274.4 L83.6 274.8 L84.2 275.3 L84.7 276.1 L85.2 276.9 L85.7 277.7 L86.2 278.5 L86.7 279.0 L87.2 279.4 L87.4 279.4 L87.7 279.4 L88.2 279.1 L88.7 278.7 L89.2 278.1 L89.7 277.5 L90.2 276.8 L90.7 276.1 L91.2 275.6 L91.7 275.1 L91.7 275.1 L92.2 274.7 L92.7 274.3 L93.2 273.9 L93.7 273.6 L94.2 273.3 L94.7 273.1 L95.2 273.0 L95.3 273.0 L95.7 273.2 L96.2 273.8 L96.7 274.7 L97.2 276.0 L97.7 277.5 L98.1 278.7 L98.2 279.1 L98.7 281.4 L99.2 284.6 L99.7 288.3 L100.2 292.3 L100.3 293.0 L100.7 297.3 L101.2 303.2 L101.7 307.4 L101.7 307.5 L102.2 310.1 L102.7 312.1 L103.2 313.7 L103.7 315.2 L104.2 316.8 L104.6 318.0 L104.7 318.5 L105.2 320.2 L105.7 322.0 L106.2 323.7 L106.7 325.4 L107.2 327.1 L107.5 328.0 L107.7 328.8 L108.3 330.6 L108.8 332.3 L109.3 333.9 L109.8 335.6 L110.3 337.2 L110.5 338.0 L110.8 338.8 L111.3 340.3 L111.8 341.7 L112.3 343.1 L112.8 344.6 L113.3 346.2 L113.5 347.0 L113.8 348.0 L114.3 350.1 L114.8 352.3 L115.3 354.7 L115.8 357.2 L116.3 359.8 L116.5 361.0 L116.8 362.4 L117.3 364.5 L117.8 366.6 L118.3 369.2 L118.8 372.9 L119.3 378.2 L119.5 381.0 L119.8 395.0 L119.8 396.0 L48.5 396.0 Z" fill="rgb(85,0,170)" stroke="rgb(21,0,42)"/>
<path d="M154.6 395.0 L155.0 381.0 L155.1 379.9 L155.6 376.2 L156.1 373.8 L156.7 372.5 L157.0 372.0 L157.2 371.8 L157.7 371.3 L158.2 371.0 L158.4 371.0 L158.7 371.3 L159.2 372.9 L159.8 375.0 L160.0 376.0 L160.3 376.9 L160.8 379.1 L161.0 381.0 L161.3 395.0 L161.3 396.0 L154.6 396.0 Z" fill="rgb(85,0,170)" stroke="rgb(21,0,42)"/>
<path d="M254.2 395.0 L254.5 381.0 L254.7 374.9 L255.2 362.8 L255.7 353.4 L256.2 344.9 L256.5 340.0 L256.7 335.8 L257.2 326.2 L257.7 318.1 L258.0 315.0 L258.2 312.6 L258.7 308.2 L259.2 306.0 L259.3 306.0 L259.8 307.5 L260.3 311.6 L260.6 315.0 L260.8 316.9 L261.3 325.3 L261.8 335.6 L262.0 340.0 L262.3 345.1 L262.8 353.6 L263.3 363.0 L263.8 375.0 L264.0 381.0 L264.3 395.0 L264.3 396.0 L254.2 396.0 Z" fill="rgb(85,0,170)" stroke="rgb(21,0,42)"/>
<path d="M325.2 395.0 L325.5 381.0 L325.7 377.2 L326.2 371.0 L326.8 367.6 L327.0 366.7 L327.3 365.8 L327.8 364.5 L328.4 364.0 L328.4 364.0 L328.9 364.9 L329.4 367.4 L329.8 369.6 L329.9 370.2 L330.4 373.0 L331.0 377.8 L331.2 381.0 L331.5 395.0 L331.5 396.0 L325.2 396.0 Z" fill="rgb(85,0,170)" stroke="rgb(21,0,42)"/>
<path d="M48.5 395.0 L49.0 381.0 L49.5 374.5 L50.0 369.4 L50.5 365.5 L51.0 362.2 L51.5 359.1 L52.0 355.8 L52.5 352.0 L53.0 347.6 L53.5 343.1 L54.0 338.5 L54.5 333.9 L55.0 329.5 L55.5 325.4 L55.6 324.6 L56.0 321.9 L56.5 318.6 L56.8 316.0 L57.0 312.7 L57.5 304.5 L58.0 304.1 L58.5 303.9 L59.0 303.7 L59.4 303.5 L59.5 303.4 L60.0 302.9 L60.5 302.1 L61.0 301.4 L61.5 300.7 L62.0 300.3 L62.3 300.2 L62.5 300.3 L63.0 300.8 L63.5 301.9 L64.0 303.4 L64.5 305.0 L65.0 306.7 L65.2 307.4 L65.5 308.5 L66.0 310.5 L66.5 312.9 L67.0 315.4 L67.5 318.0 L68.0 321.3 L68.5 325.1 L69.0 328.3 L69.5 329.6 L70.0 329.1 L70.5 327.8 L71.0 325.9 L71.5 323.5 L71.6 323.0 L72.0 319.5 L72.5 313.0 L73.0 307.4 L73.5 303.6 L74.0 300.2 L74.5 297.1 L75.0 294.4 L75.5 292.0 L75.9 290.2 L76.0 289.8 L76.5 287.6 L77.0 285.4 L77.5 283.3 L78.0 281.5 L78.5 280.0 L79.0 279.1 L79.5 278.7 L80.0 278.8 L80.5 278.9 L81.0 279.2 L81.5 279.5 L82.0 279.9 L82.5 280.3 L83.0 280.7 L83.1 280.8 L83.5 281.2 L84.0 282.0 L84.5 282.9 L85.0 284.0 L85.5 285.0 L86.0 285.9 L86.5 286.7 L87.0 287.2 L87.4 287.3 L87.5 287.3 L88.0 287.0 L88.5 286.5 L89.0 285.7 L89.5 284.8 L90.0 283.8 L90.5 282.8 L91.0 281.8 L91.5 281.1 L91.7 280.8 L92.0 280.4 L92.5 279.8 L93.0 279.1 L93.5 278.5 L94.0 278.0 L94.5 277.6 L95.0 277.3 L95.3 277.3 L95.5 277.4 L96.0 277.9 L96.5 279.0 L97.0 280.5 L97.5 282.2 L98.0 284.0 L98.1 284.4 L98.5 286.1 L99.0 288.7 L99.5 291.7 L100.0 295.2 L100.3 297.3 L100.5 298.9 L101.0 303.7 L101.5 309.0 L102.0 314.1 L102.5 318.0 L103.0 320.8 L103.5 323.1 L104.0 325.2 L104.5 327.1 L105.0 329.0 L105.5 331.0 L106.0 333.2 L106.5 335.6 L107.0 337.9 L107.5 340.1 L108.0 341.8 L108.5 343.0 L109.0 343.7 L109.5 344.2 L110.0 344.6 L110.5 345.0 L111.0 345.3 L111.5 345.7 L112.0 346.3 L112.5 347.0 L113.0 348.2 L113.5 350.1 L114.0 352.3 L114.5 354.9 L115.0 357.5 L115.3 359.0 L115.5 360.0 L116.0 362.9 L116.5 365.9 L117.0 369.1 L117.5 372.2 L118.0 375.0 L118.5 376.9 L119.0 379.2 L119.2 381.0 L119.5 395.0 L119.5 396.0 L48.5 396.0 Z" fill="rgb(57,0,198)" stroke="rgb(14,0,49)"/>
<path d="M256.2 395.0 L256.5 381.0 L256.7 376.7 L257.2 369.4 L257.7 364.5 L258.0 362.0 L258.2 359.7 L258.7 354.6 L259.2 352.0 L259.3 352.0 L259.8 353.8 L260.3 358.6 L260.6 362.0 L260.8 363.7 L261.3 368.8 L261.8 376.5 L262.0 381.0 L262.3 395.0 L262.3 396.0 L256.2 396.0 Z" fill="rgb(57,0,198)" stroke="rgb(14,0,49)"/>
<path d="M49.3 395.0 L49.8 380.6 L49.8 380.6 L50.3 373.1 L50.8 367.0 L51.3 362.0 L51.8 357.7 L52.3 354.0 L52.8 350.4 L53.3 346.9 L53.6 344.7 L53.8 343.0 L54.3 339.0 L54.8 335.0 L55.3 331.3 L55.8 328.1 L56.3 325.6 L56.6 324.6 L56.8 323.9 L57.3 322.5 L57.8 321.3 L58.3 320.2 L58.8 319.4 L59.3 319.0 L59.6 318.9 L59.8 318.9 L60.3 319.2 L60.8 319.8 L61.3 320.6 L61.8 321.7 L62.3 322.9 L62.8 324.2 L63.0 324.6 L63.3 325.8 L63.8 328.5 L64.3 332.0 L64.8 335.9 L65.3 340.1 L65.8 344.3 L65.9 344.7 L66.3 348.6 L66.9 353.6 L67.4 358.9 L67.9 363.9 L68.4 368.2 L68.7 370.5 L68.9 371.4 L69.4 374.4 L69.9 377.0 L70.4 378.3 L70.5 378.4 L70.9 377.0 L71.4 371.8 L71.9 364.8 L72.3 359.0 L72.4 358.2 L72.9 351.8 L73.4 345.0 L73.9 338.1 L74.4 331.8 L74.5 330.3 L74.9 325.8 L75.4 319.9 L75.9 316.1 L75.9 316.0 L76.4 314.3 L76.9 312.8 L77.4 311.4 L77.9 310.4 L78.4 309.6 L78.9 309.0 L79.4 308.8 L79.5 308.8 L79.9 308.8 L80.4 309.0 L80.9 309.3 L81.4 309.8 L81.9 310.3 L82.4 310.8 L82.9 311.4 L83.1 311.7 L83.4 312.2 L83.9 313.3 L84.4 314.6 L84.9 316.2 L85.4 317.7 L85.5 318.0 L85.9 319.5 L86.4 321.8 L86.9 323.8 L87.4 324.6 L87.4 324.6 L87.9 323.9 L88.4 322.1 L88.9 320.0 L89.4 318.2 L89.5 318.0 L89.9 316.9 L90.4 315.7 L90.9 314.5 L91.4 313.3 L91.9 312.3 L92.4 311.3 L92.9 310.5 L93.1 310.3 L93.4 309.9 L93.9 309.2 L94.4 308.5 L94.9 308.0 L95.4 307.6 L95.9 307.4 L96.0 307.4 L96.4 307.5 L96.9 308.0 L97.4 308.8 L97.9 309.7 L98.4 310.8 L98.9 311.7 L98.9 311.8 L99.4 313.0 L99.9 314.5 L100.4 316.2 L100.9 317.8 L101.0 318.0 L101.4 319.4 L102.0 321.0 L102.5 322.7 L103.0 324.3 L103.5 326.1 L104.0 327.9 L104.5 329.8 L104.6 330.3 L105.0 331.9 L105.5 334.5 L106.0 337.2 L106.5 339.8 L107.0 341.9 L107.5 343.2 L107.5 343.3 L108.0 343.9 L108.5 344.3 L109.0 344.7 L109.5 345.0 L110.0 345.2 L110.5 345.5 L111.0 345.9 L111.5 346.4 L111.8 346.8 L112.0 347.1 L112.5 348.5 L113.0 350.6 L113.5 353.1 L114.0 355.8 L114.5 358.4 L114.6 359.0 L115.0 361.1 L115.5 364.2 L116.0 367.5 L116.5 370.8 L117.0 373.8 L117.5 376.3 L117.5 376.3 L118.0 377.7 L118.5 379.3 L118.7 380.6 L119.0 395.0 L119.0 396.0 L49.3 396.0 Z" fill="rgb(28,0,227)" stroke="rgb(7,0,56)"/>
</g>
<line x1="134.5" y1="13.5" x2="134.5" y2="387" stroke="rgba(20,0,225,0.72)" stroke-width="1"/>
<line x1="34" y1="165.5" x2="946.0" y2="165.5" stroke="rgba(20,0,225,0.72)" stroke-width="1"/>
<g font-size="9.6" fill="#222">
<text x="20.3" y="8.6">dB</text>
<text x="30.0" y="21.2" text-anchor="end">80</text>
<text x="30.0" y="76.9" text-anchor="end">75</text>
<text x="30.0" y="132.7" text-anchor="end">70</text>
<text x="30.0" y="188.4" text-anchor="end">65</text>
<text x="30.0" y="244.1" text-anchor="end">60</text>
<text x="30.0" y="299.9" text-anchor="end">55</text>
<text x="30.0" y="355.6" text-anchor="end">50</text>
<text x="34.9" y="395.5" text-anchor="middle">15</text>
<text x="71.3" y="395.5" text-anchor="middle">20</text>
<text x="122.7" y="395.5" text-anchor="middle">30</text>
<text x="159.1" y="395.5" text-anchor="middle">40</text>
<text x="187.4" y="395.5" text-anchor="middle">50</text>
<text x="210.5" y="395.5" text-anchor="middle">60</text>
<text x="230.0" y="395.5" text-anchor="middle">70</text>
<text x="246.9" y="395.5" text-anchor="middle">80</text>
<text x="275.2" y="395.5" text-anchor="middle">100</text>
<text x="363.0" y="395.5" text-anchor="middle">200</text>
<text x="414.4" y="395.5" text-anchor="middle">300</text>
<text x="450.8" y="395.5" text-anchor="middle">400</text>
<text x="479.1" y="395.5" text-anchor="middle">500</text>
<text x="502.2" y="395.5" text-anchor="middle">600</text>
<text x="538.6" y="395.5" text-anchor="middle">800</text>
<text x="566.9" y="395.5" text-anchor="middle">1k</text>
<text x="654.7" y="395.5" text-anchor="middle">2k</text>
<text x="706.1" y="395.5" text-anchor="middle">3k</text>
<text x="742.5" y="395.5" text-anchor="middle">4k</text>
<text x="770.8" y="395.5" text-anchor="middle">5k</text>
<text x="793.9" y="395.5" text-anchor="middle">6k</text>
<text x="813.4" y="395.5" text-anchor="middle">7k</text>
<text x="830.3" y="395.5" text-anchor="middle">8k</text>
<text x="858.6" y="395.5" text-anchor="middle">10k</text>
<text x="923.8" y="395.5">20,0k Hz</text>
</g>
<rect x="121.5" y="386.5" width="25" height="12" fill="#fff" stroke="rgb(40,30,235)" stroke-width="1"/>
<text x="134" y="396.6" text-anchor="middle" font-size="11" fill="rgb(40,30,235)">32,8</text>
<rect x="2.5" y="158.5" width="31.5" height="13" fill="#fff" stroke="rgb(40,30,235)" stroke-width="1"/>
<text x="18.3" y="169.3" text-anchor="middle" font-size="11" fill="rgb(40,30,235)">66,76</text>
<rect x="35.5" y="400.5" width="891" height="71.5" rx="4" ry="4" fill="#fff" stroke="#8c8c8c" stroke-width="1"/>
<g font-size="10.7">
<rect x="44.5" y="407.5" width="12" height="12" fill="#f4f6f9" stroke="#8e8f8f" stroke-width="1"/>
<rect x="46.5" y="409.5" width="8" height="8" fill="#e6eaf0" stroke="#c9cdd4" stroke-width="1"/>
<path d="M47.1 414.0 L49.8 417.3 L54.3 409.5" fill="none" stroke="#30508f" stroke-width="1.9" stroke-linejoin="miter"/>
<text x="61.2" y="417.9" fill="rgb(204,0,0)">jun 29 15:25:52</text>
<line x1="200.0" y1="413.7" x2="232.0" y2="413.7" stroke="rgb(183,0,0)" stroke-width="2"/>
<text x="262.5" y="417.9" fill="rgb(204,0,0)">78,4 dB</text>
<rect x="338.7" y="407.5" width="12" height="12" fill="#f4f6f9" stroke="#8e8f8f" stroke-width="1"/>
<rect x="340.7" y="409.5" width="8" height="8" fill="#e6eaf0" stroke="#c9cdd4" stroke-width="1"/>
<path d="M341.3 414.0 L344.0 417.3 L348.5 409.5" fill="none" stroke="#30508f" stroke-width="1.9" stroke-linejoin="miter"/>
<text x="361.0" y="417.9" fill="rgb(181,0,22)">40ms</text>
<line x1="494.2" y1="413.7" x2="526.2" y2="413.7" stroke="rgb(163,0,18)" stroke-width="2"/>
<text x="556.7" y="417.9" fill="rgb(181,0,22)">77,0 dB</text>
<rect x="632.6" y="407.5" width="12" height="12" fill="#f4f6f9" stroke="#8e8f8f" stroke-width="1"/>
<rect x="634.6" y="409.5" width="8" height="8" fill="#e6eaf0" stroke="#c9cdd4" stroke-width="1"/>
<path d="M635.2 414.0 L637.9 417.3 L642.4 409.5" fill="none" stroke="#30508f" stroke-width="1.9" stroke-linejoin="miter"/>
<text x="655.1" y="417.9" fill="rgb(159,0,44)">80ms</text>
<line x1="788.1" y1="413.7" x2="820.1" y2="413.7" stroke="rgb(143,0,36)" stroke-width="2"/>
<text x="850.6" y="417.9" fill="rgb(159,0,44)">67,9 dB</text>
<rect x="44.5" y="430.5" width="12" height="12" fill="#f4f6f9" stroke="#8e8f8f" stroke-width="1"/>
<rect x="46.5" y="432.5" width="8" height="8" fill="#e6eaf0" stroke="#c9cdd4" stroke-width="1"/>
<path d="M47.1 437.0 L49.8 440.3 L54.3 432.5" fill="none" stroke="#30508f" stroke-width="1.9" stroke-linejoin="miter"/>
<text x="68.5" y="440.9" fill="rgb(136,0,68)">120ms</text>
<line x1="200.0" y1="436.7" x2="232.0" y2="436.7" stroke="rgb(122,0,56)" stroke-width="2"/>
<text x="262.5" y="440.9" fill="rgb(136,0,68)">55,8 dB</text>
<rect x="338.7" y="430.5" width="12" height="12" fill="#f4f6f9" stroke="#8e8f8f" stroke-width="1"/>
<rect x="340.7" y="432.5" width="8" height="8" fill="#e6eaf0" stroke="#c9cdd4" stroke-width="1"/>
<path d="M341.3 437.0 L344.0 440.3 L348.5 432.5" fill="none" stroke="#30508f" stroke-width="1.9" stroke-linejoin="miter"/>
<text x="361.0" y="440.9" fill="rgb(113,0,90)">160ms</text>
<line x1="494.2" y1="436.7" x2="526.2" y2="436.7" stroke="rgb(102,0,74)" stroke-width="2"/>
<text x="556.7" y="440.9" fill="rgb(113,0,90)">58,2 dB</text>
<rect x="632.6" y="430.5" width="12" height="12" fill="#f4f6f9" stroke="#8e8f8f" stroke-width="1"/>
<rect x="634.6" y="432.5" width="8" height="8" fill="#e6eaf0" stroke="#c9cdd4" stroke-width="1"/>
<path d="M635.2 437.0 L637.9 440.3 L642.4 432.5" fill="none" stroke="#30508f" stroke-width="1.9" stroke-linejoin="miter"/>
<text x="655.1" y="440.9" fill="rgb(90,0,113)">200ms</text>
<line x1="788.1" y1="436.7" x2="820.1" y2="436.7" stroke="rgb(81,0,93)" stroke-width="2"/>
<text x="850.6" y="440.9" fill="rgb(90,0,113)">50,8 dB</text>
<rect x="44.5" y="453.5" width="12" height="12" fill="#f4f6f9" stroke="#8e8f8f" stroke-width="1"/>
<rect x="46.5" y="455.5" width="8" height="8" fill="#e6eaf0" stroke="#c9cdd4" stroke-width="1"/>
<path d="M47.1 460.0 L49.8 463.3 L54.3 455.5" fill="none" stroke="#30508f" stroke-width="1.9" stroke-linejoin="miter"/>
<text x="68.5" y="463.9" fill="rgb(68,0,136)">240ms</text>
<line x1="200.0" y1="459.7" x2="232.0" y2="459.7" stroke="rgb(61,0,112)" stroke-width="2"/>
<text x="262.5" y="463.9" fill="rgb(68,0,136)">38,8 dB</text>
<rect x="338.7" y="453.5" width="12" height="12" fill="#f4f6f9" stroke="#8e8f8f" stroke-width="1"/>
<rect x="340.7" y="455.5" width="8" height="8" fill="#e6eaf0" stroke="#c9cdd4" stroke-width="1"/>
<path d="M341.3 460.0 L344.0 463.3 L348.5 455.5" fill="none" stroke="#30508f" stroke-width="1.9" stroke-linejoin="miter"/>
<text x="361.0" y="463.9" fill="rgb(45,0,158)">280ms</text>
<line x1="494.2" y1="459.7" x2="526.2" y2="459.7" stroke="rgb(41,0,130)" stroke-width="2"/>
<text x="556.7" y="463.9" fill="rgb(45,0,158)">30,2 dB</text>
<rect x="632.6" y="453.5" width="12" height="12" fill="#f4f6f9" stroke="#8e8f8f" stroke-width="1"/>
<rect x="634.6" y="455.5" width="8" height="8" fill="#e6eaf0" stroke="#c9cdd4" stroke-width="1"/>
<path d="M635.2 460.0 L637.9 463.3 L642.4 455.5" fill="none" stroke="#30508f" stroke-width="1.9" stroke-linejoin="miter"/>
<text x="655.1" y="463.9" fill="rgb(22,0,181)">320ms</text>
<line x1="788.1" y1="459.7" x2="820.1" y2="459.7" stroke="rgb(20,0,149)" stroke-width="2"/>
<text x="850.6" y="463.9" fill="rgb(22,0,181)">28,5 dB</text>
</g>
</svg></body></html>
